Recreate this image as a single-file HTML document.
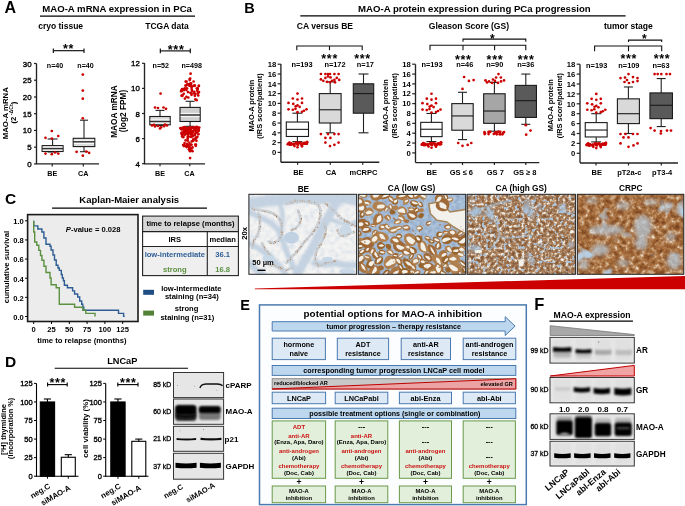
<!DOCTYPE html>
<html><head><meta charset="utf-8"><style>
html,body{margin:0;padding:0;background:#fff;width:685px;height:506px;overflow:hidden}
svg{display:block;filter:blur(0.3px)}
text{font-family:"Liberation Sans",sans-serif}
</style></head><body>
<svg width="685" height="506" viewBox="0 0 685 506">
<defs><clipPath id="clip0"><rect x="248.9" y="194.3" width="107.70000000000002" height="80.0"/></clipPath><clipPath id="clip1"><rect x="358.3" y="194.3" width="107.39999999999998" height="80.0"/></clipPath><clipPath id="clip2"><rect x="467.1" y="194.3" width="108.29999999999995" height="80.0"/></clipPath><clipPath id="clip3"><rect x="577.3" y="194.3" width="106.5" height="80.0"/></clipPath>
<filter id="blur04" x="-20%" y="-20%" width="140%" height="140%"><feGaussianBlur stdDeviation="0.4"/></filter>
<filter id="blur07" x="-20%" y="-20%" width="140%" height="140%"><feGaussianBlur stdDeviation="0.7"/></filter>
<filter id="blur12" x="-30%" y="-30%" width="160%" height="160%"><feGaussianBlur stdDeviation="1.2"/></filter>
<filter id="blur2" x="-30%" y="-30%" width="160%" height="160%"><feGaussianBlur stdDeviation="2"/></filter>
<filter id="texHigh" x="0" y="0" width="1" height="1" color-interpolation-filters="sRGB">
  <feTurbulence type="fractalNoise" baseFrequency="0.32" numOctaves="2" seed="4" result="n1"/>
  <feColorMatrix in="n1" type="matrix" values="1 0 0 0 0  1 0 0 0 0  1 0 0 0 0  0 0 0 0 1" result="g1"/>
  <feComponentTransfer in="g1" result="c1">
    <feFuncR type="table" tableValues="0.94 0.94 0.94 0.91 0.76 0.66 0.60 0.54 0.49 0.47 0.47"/>
    <feFuncG type="table" tableValues="0.93 0.93 0.93 0.88 0.64 0.49 0.43 0.37 0.33 0.31 0.31"/>
    <feFuncB type="table" tableValues="0.91 0.91 0.91 0.84 0.52 0.35 0.29 0.24 0.21 0.19 0.19"/>
  </feComponentTransfer>
  <feTurbulence type="fractalNoise" baseFrequency="0.28" numOctaves="2" seed="17" result="n3"/>
  <feColorMatrix in="n3" type="matrix" values="0 0 0 0 0.68  0 0 0 0 0.77  0 0 0 0 0.86  -9 0 0 0 3.6" result="fineBlue"/>
  <feTurbulence type="fractalNoise" baseFrequency="0.05" numOctaves="2" seed="8" result="n2"/>
  <feColorMatrix in="n2" type="matrix" values="0 0 0 0 0.66  0 0 0 0 0.76  0 0 0 0 0.86  -6 0 0 0 2.2" result="blueM"/>
  <feMerge result="m"><feMergeNode in="c1"/><feMergeNode in="fineBlue"/><feMergeNode in="blueM"/></feMerge>
  <feGaussianBlur in="m" stdDeviation="0.4"/>
</filter>
<filter id="texCRPC" x="0" y="0" width="1" height="1" color-interpolation-filters="sRGB">
  <feTurbulence type="fractalNoise" baseFrequency="0.2" numOctaves="3" seed="21" result="n1"/>
  <feColorMatrix in="n1" type="matrix" values="1 0 0 0 0  1 0 0 0 0  1 0 0 0 0  0 0 0 0 1" result="g1"/>
  <feComponentTransfer in="g1" result="c1">
    <feFuncR type="table" tableValues="0.93 0.93 0.90 0.80 0.72 0.66 0.60 0.54 0.48 0.45 0.45"/>
    <feFuncG type="table" tableValues="0.90 0.90 0.84 0.66 0.52 0.44 0.38 0.32 0.28 0.25 0.25"/>
    <feFuncB type="table" tableValues="0.84 0.84 0.76 0.52 0.34 0.25 0.20 0.16 0.13 0.12 0.12"/>
  </feComponentTransfer>
  <feTurbulence type="fractalNoise" baseFrequency="0.04" numOctaves="3" seed="30" result="n2"/>
  <feColorMatrix in="n2" type="matrix" values="0 0 0 0 0.72  0 0 0 0 0.81  0 0 0 0 0.89  -7 0 0 0 2.75" result="blueM"/>
  <feMerge result="m"><feMergeNode in="c1"/><feMergeNode in="blueM"/></feMerge>
  <feGaussianBlur in="m" stdDeviation="0.45"/>
</filter>
<filter id="texBlue" x="0" y="0" width="1" height="1" color-interpolation-filters="sRGB">
  <feTurbulence type="fractalNoise" baseFrequency="0.25" numOctaves="2" seed="2" result="n1"/>
  <feColorMatrix in="n1" type="matrix" values="1 0 0 0 0  1 0 0 0 0  1 0 0 0 0  0 0 0 0 1" result="g1"/>
  <feComponentTransfer in="g1">
    <feFuncR type="table" tableValues="0.72 0.72 0.71 0.69 0.66 0.64 0.62 0.60 0.58 0.58 0.58"/>
    <feFuncG type="table" tableValues="0.80 0.80 0.79 0.77 0.75 0.73 0.71 0.69 0.67 0.67 0.67"/>
    <feFuncB type="table" tableValues="0.88 0.88 0.87 0.86 0.85 0.84 0.82 0.80 0.78 0.78 0.78"/>
  </feComponentTransfer>
  <feGaussianBlur stdDeviation="0.4"/>
</filter>
<filter id="texWhite" x="0" y="0" width="1" height="1" color-interpolation-filters="sRGB">
  <feTurbulence type="fractalNoise" baseFrequency="0.2" numOctaves="2" seed="7" result="n1"/>
  <feColorMatrix in="n1" type="matrix" values="1 0 0 0 0  1 0 0 0 0  1 0 0 0 0  0 0 0 0 1" result="g1"/>
  <feComponentTransfer in="g1">
    <feFuncR type="table" tableValues="0.96 0.96 0.96 0.96 0.95 0.94 0.92 0.89 0.86 0.86 0.86"/>
    <feFuncG type="table" tableValues="0.96 0.96 0.96 0.96 0.95 0.94 0.93 0.91 0.89 0.89 0.89"/>
    <feFuncB type="table" tableValues="0.95 0.95 0.95 0.95 0.95 0.94 0.94 0.93 0.92 0.92 0.92"/>
  </feComponentTransfer>
  <feGaussianBlur stdDeviation="0.4"/>
</filter>

<filter id="bb05" x="-30%" y="-100%" width="160%" height="300%"><feGaussianBlur stdDeviation="0.5"/></filter>
<filter id="bb08" x="-30%" y="-100%" width="160%" height="300%"><feGaussianBlur stdDeviation="0.8"/></filter>
<filter id="bb12" x="-30%" y="-100%" width="160%" height="300%"><feGaussianBlur stdDeviation="1.2"/></filter>
<filter id="bb20" x="-30%" y="-100%" width="160%" height="300%"><feGaussianBlur stdDeviation="2.0"/></filter>
</defs>
<rect width="685" height="506" fill="#fff"/>
<text x="4.60" y="12.90" font-size="16" font-weight="bold" text-anchor="start" fill="#000">A</text>
<text x="42.30" y="12.40" font-size="9.6" font-weight="bold" text-anchor="start" fill="#000">MAO-A mRNA expression in PCa</text>
<line x1="40.00" y1="16.10" x2="195.00" y2="16.10" stroke="#000" stroke-width="1.1"/>
<text x="38.20" y="29.20" font-size="8.5" font-weight="bold" text-anchor="start" fill="#000">cryo tissue</text>
<text x="145.20" y="29.40" font-size="8.5" font-weight="bold" text-anchor="start" fill="#000">TCGA data</text>
<line x1="36.50" y1="63.50" x2="36.50" y2="164.00" stroke="#222" stroke-width="1.35"/>
<line x1="34.00" y1="163.90" x2="36.50" y2="163.90" stroke="#222" stroke-width="1.2"/>
<text x="31.60" y="166.90" font-size="7.9" font-weight="normal" text-anchor="end" fill="#000" stroke="#000" stroke-width="0.35">0</text>
<line x1="34.00" y1="147.17" x2="36.50" y2="147.17" stroke="#222" stroke-width="1.2"/>
<text x="31.60" y="150.17" font-size="7.9" font-weight="normal" text-anchor="end" fill="#000" stroke="#000" stroke-width="0.35">5</text>
<line x1="34.00" y1="130.43" x2="36.50" y2="130.43" stroke="#222" stroke-width="1.2"/>
<text x="31.60" y="133.43" font-size="7.9" font-weight="normal" text-anchor="end" fill="#000" stroke="#000" stroke-width="0.35">10</text>
<line x1="34.00" y1="113.70" x2="36.50" y2="113.70" stroke="#222" stroke-width="1.2"/>
<text x="31.60" y="116.70" font-size="7.9" font-weight="normal" text-anchor="end" fill="#000" stroke="#000" stroke-width="0.35">15</text>
<line x1="34.00" y1="96.97" x2="36.50" y2="96.97" stroke="#222" stroke-width="1.2"/>
<text x="31.60" y="99.97" font-size="7.9" font-weight="normal" text-anchor="end" fill="#000" stroke="#000" stroke-width="0.35">20</text>
<line x1="34.00" y1="80.23" x2="36.50" y2="80.23" stroke="#222" stroke-width="1.2"/>
<text x="31.60" y="83.23" font-size="7.9" font-weight="normal" text-anchor="end" fill="#000" stroke="#000" stroke-width="0.35">25</text>
<line x1="34.00" y1="63.50" x2="36.50" y2="63.50" stroke="#222" stroke-width="1.2"/>
<text x="31.60" y="66.50" font-size="7.9" font-weight="normal" text-anchor="end" fill="#000" stroke="#000" stroke-width="0.35">30</text>
<line x1="36.00" y1="163.90" x2="99.00" y2="163.90" stroke="#222" stroke-width="1.35"/>
<line x1="52.20" y1="163.90" x2="52.20" y2="166.40" stroke="#222" stroke-width="1.2"/>
<line x1="83.30" y1="163.90" x2="83.30" y2="166.40" stroke="#222" stroke-width="1.2"/>
<text x="52.20" y="176.20" font-size="7.2" font-weight="bold" text-anchor="middle" fill="#000">BE</text>
<text x="83.30" y="176.20" font-size="7.2" font-weight="bold" text-anchor="middle" fill="#000">CA</text>
<line x1="53.30" y1="50.70" x2="84.00" y2="50.70" stroke="#000" stroke-width="1.1"/>
<line x1="53.30" y1="48.40" x2="53.30" y2="53.00" stroke="#000" stroke-width="1.1"/>
<line x1="84.00" y1="48.40" x2="84.00" y2="53.00" stroke="#000" stroke-width="1.1"/>
<text x="68.55" y="53.40" font-size="12.5" font-weight="bold" text-anchor="middle" fill="#000" letter-spacing="0.7">**</text>
<text x="55.00" y="68.30" font-size="7.1" font-weight="bold" text-anchor="middle" fill="#000">n=40</text>
<text x="85.50" y="68.30" font-size="7.1" font-weight="bold" text-anchor="middle" fill="#000">n=40</text>
<line x1="52.60" y1="139.00" x2="52.60" y2="145.60" stroke="#222" stroke-width="1.1"/>
<line x1="52.60" y1="151.50" x2="52.60" y2="152.00" stroke="#222" stroke-width="1.1"/>
<line x1="47.60" y1="139.00" x2="57.60" y2="139.00" stroke="#222" stroke-width="1.1"/>
<line x1="47.60" y1="152.00" x2="57.60" y2="152.00" stroke="#222" stroke-width="1.1"/>
<rect x="42.10" y="145.60" width="21.00" height="5.90" fill="#dcdcdc" stroke="#1a1a1a" stroke-width="1.1"/>
<line x1="42.70" y1="147.00" x2="62.50" y2="147.00" stroke="#fff" stroke-width="0.9"/>
<line x1="42.70" y1="150.20" x2="62.50" y2="150.20" stroke="#fff" stroke-width="0.9"/>
<line x1="42.10" y1="148.60" x2="63.10" y2="148.60" stroke="#333" stroke-width="1.4"/>
<line x1="84.00" y1="120.20" x2="84.00" y2="138.30" stroke="#222" stroke-width="1.1"/>
<line x1="84.00" y1="146.60" x2="84.00" y2="151.70" stroke="#222" stroke-width="1.1"/>
<line x1="80.00" y1="120.20" x2="88.00" y2="120.20" stroke="#222" stroke-width="1.1"/>
<line x1="80.00" y1="151.70" x2="88.00" y2="151.70" stroke="#222" stroke-width="1.1"/>
<rect x="73.20" y="138.30" width="21.60" height="8.30" fill="#dcdcdc" stroke="#1a1a1a" stroke-width="1.1"/>
<line x1="73.80" y1="140.20" x2="94.20" y2="140.20" stroke="#fff" stroke-width="0.9"/>
<line x1="73.80" y1="143.40" x2="94.20" y2="143.40" stroke="#fff" stroke-width="0.9"/>
<line x1="73.20" y1="141.80" x2="94.80" y2="141.80" stroke="#333" stroke-width="1.4"/>
<circle cx="51.80" cy="131.00" r="1.35" fill="#cc0000"/>
<circle cx="45.50" cy="137.80" r="1.35" fill="#cc0000"/>
<circle cx="58.30" cy="136.00" r="1.35" fill="#cc0000"/>
<circle cx="51.80" cy="138.60" r="1.35" fill="#cc0000"/>
<circle cx="45.50" cy="153.60" r="1.35" fill="#cc0000"/>
<circle cx="51.80" cy="154.20" r="1.35" fill="#cc0000"/>
<circle cx="58.30" cy="153.60" r="1.35" fill="#cc0000"/>
<circle cx="55.00" cy="152.50" r="1.35" fill="#cc0000"/>
<circle cx="82.80" cy="74.60" r="1.35" fill="#cc0000"/>
<circle cx="82.80" cy="90.60" r="1.35" fill="#cc0000"/>
<circle cx="82.80" cy="98.70" r="1.35" fill="#cc0000"/>
<circle cx="82.80" cy="118.30" r="1.35" fill="#cc0000"/>
<circle cx="76.60" cy="151.80" r="1.35" fill="#cc0000"/>
<circle cx="89.10" cy="152.80" r="1.35" fill="#cc0000"/>
<circle cx="82.80" cy="155.70" r="1.35" fill="#cc0000"/>
<circle cx="86.30" cy="151.60" r="1.35" fill="#cc0000"/>
<text x="7.60" y="113.20" font-size="7.8" font-weight="bold" text-anchor="middle" fill="#000" transform="rotate(-90 7.60 113.20)">MAO-A mRNA</text>
<text x="16.00" y="112.60" font-size="7.6" font-weight="bold" text-anchor="middle" fill="#000" transform="rotate(-90 16.00 112.60)">(2<tspan font-size="5.2" dy="-2.8"> -ΔCt</tspan><tspan dy="2.8">)</tspan></text>
<line x1="144.50" y1="63.00" x2="144.50" y2="164.00" stroke="#222" stroke-width="1.35"/>
<line x1="142.00" y1="163.70" x2="144.50" y2="163.70" stroke="#222" stroke-width="1.2"/>
<text x="139.80" y="166.70" font-size="7.9" font-weight="normal" text-anchor="end" fill="#000" stroke="#000" stroke-width="0.35">4</text>
<line x1="142.00" y1="138.60" x2="144.50" y2="138.60" stroke="#222" stroke-width="1.2"/>
<text x="139.80" y="141.60" font-size="7.9" font-weight="normal" text-anchor="end" fill="#000" stroke="#000" stroke-width="0.35">6</text>
<line x1="142.00" y1="113.50" x2="144.50" y2="113.50" stroke="#222" stroke-width="1.2"/>
<text x="139.80" y="116.50" font-size="7.9" font-weight="normal" text-anchor="end" fill="#000" stroke="#000" stroke-width="0.35">8</text>
<line x1="142.00" y1="88.40" x2="144.50" y2="88.40" stroke="#222" stroke-width="1.2"/>
<text x="139.80" y="91.40" font-size="7.9" font-weight="normal" text-anchor="end" fill="#000" stroke="#000" stroke-width="0.35">10</text>
<line x1="142.00" y1="63.30" x2="144.50" y2="63.30" stroke="#222" stroke-width="1.2"/>
<text x="139.80" y="66.30" font-size="7.9" font-weight="normal" text-anchor="end" fill="#000" stroke="#000" stroke-width="0.35">12</text>
<line x1="144.00" y1="163.80" x2="205.00" y2="163.80" stroke="#222" stroke-width="1.35"/>
<line x1="160.00" y1="163.80" x2="160.00" y2="166.30" stroke="#222" stroke-width="1.2"/>
<line x1="189.80" y1="163.80" x2="189.80" y2="166.30" stroke="#222" stroke-width="1.2"/>
<text x="160.00" y="176.20" font-size="7.2" font-weight="bold" text-anchor="middle" fill="#000">BE</text>
<text x="189.50" y="176.20" font-size="7.2" font-weight="bold" text-anchor="middle" fill="#000">CA</text>
<line x1="160.30" y1="50.90" x2="190.30" y2="50.90" stroke="#000" stroke-width="1.1"/>
<line x1="160.30" y1="48.60" x2="160.30" y2="53.20" stroke="#000" stroke-width="1.1"/>
<line x1="190.30" y1="48.60" x2="190.30" y2="53.20" stroke="#000" stroke-width="1.1"/>
<text x="176.15" y="53.60" font-size="12.5" font-weight="bold" text-anchor="middle" fill="#000" letter-spacing="0.7">***</text>
<text x="160.80" y="68.30" font-size="7.1" font-weight="bold" text-anchor="middle" fill="#000">n=52</text>
<text x="191.70" y="68.30" font-size="7.1" font-weight="bold" text-anchor="middle" fill="#000">n=498</text>
<line x1="160.00" y1="110.40" x2="160.00" y2="116.50" stroke="#222" stroke-width="1.1"/>
<line x1="160.00" y1="124.80" x2="160.00" y2="125.60" stroke="#222" stroke-width="1.1"/>
<line x1="155.50" y1="110.40" x2="164.50" y2="110.40" stroke="#222" stroke-width="1.1"/>
<line x1="155.50" y1="125.60" x2="164.50" y2="125.60" stroke="#222" stroke-width="1.1"/>
<rect x="149.80" y="116.50" width="20.40" height="8.30" fill="#dcdcdc" stroke="#1a1a1a" stroke-width="1.1"/>
<line x1="150.40" y1="119.90" x2="169.60" y2="119.90" stroke="#fff" stroke-width="0.9"/>
<line x1="150.40" y1="123.10" x2="169.60" y2="123.10" stroke="#fff" stroke-width="0.9"/>
<line x1="149.80" y1="121.50" x2="170.20" y2="121.50" stroke="#333" stroke-width="1.4"/>
<line x1="190.10" y1="101.30" x2="190.10" y2="107.40" stroke="#222" stroke-width="1.1"/>
<line x1="190.10" y1="121.50" x2="190.10" y2="126.30" stroke="#222" stroke-width="1.1"/>
<line x1="185.60" y1="101.30" x2="194.60" y2="101.30" stroke="#222" stroke-width="1.1"/>
<line x1="185.60" y1="126.30" x2="194.60" y2="126.30" stroke="#222" stroke-width="1.1"/>
<rect x="180.00" y="107.40" width="20.20" height="14.10" fill="#d0d0d0" stroke="#1a1a1a" stroke-width="1.1"/>
<line x1="180.60" y1="113.40" x2="199.60" y2="113.40" stroke="#fff" stroke-width="0.9"/>
<line x1="180.60" y1="116.60" x2="199.60" y2="116.60" stroke="#fff" stroke-width="0.9"/>
<line x1="180.00" y1="115.00" x2="200.20" y2="115.00" stroke="#333" stroke-width="1.4"/>
<circle cx="160.60" cy="93.60" r="1.35" fill="#cc0000"/>
<circle cx="155.00" cy="107.50" r="1.35" fill="#cc0000"/>
<circle cx="158.00" cy="108.00" r="1.35" fill="#cc0000"/>
<circle cx="163.50" cy="107.50" r="1.35" fill="#cc0000"/>
<circle cx="166.00" cy="108.80" r="1.35" fill="#cc0000"/>
<circle cx="152.00" cy="125.50" r="1.35" fill="#cc0000"/>
<circle cx="155.00" cy="126.50" r="1.35" fill="#cc0000"/>
<circle cx="158.00" cy="126.00" r="1.35" fill="#cc0000"/>
<circle cx="161.00" cy="127.30" r="1.35" fill="#cc0000"/>
<circle cx="164.00" cy="126.20" r="1.35" fill="#cc0000"/>
<circle cx="167.00" cy="125.50" r="1.35" fill="#cc0000"/>
<circle cx="160.00" cy="128.50" r="1.35" fill="#cc0000"/>
<circle cx="154.00" cy="124.80" r="1.35" fill="#cc0000"/>
<circle cx="165.00" cy="124.50" r="1.35" fill="#cc0000"/>
<circle cx="190.60" cy="73.70" r="1.35" fill="#cc0000"/>
<circle cx="190.20" cy="78.50" r="1.35" fill="#cc0000"/>
<circle cx="190.44" cy="84.25" r="1.35" fill="#cc0000"/>
<circle cx="191.03" cy="83.34" r="1.35" fill="#cc0000"/>
<circle cx="185.70" cy="81.57" r="1.35" fill="#cc0000"/>
<circle cx="193.34" cy="85.80" r="1.35" fill="#cc0000"/>
<circle cx="187.37" cy="84.10" r="1.35" fill="#cc0000"/>
<circle cx="189.71" cy="79.02" r="1.35" fill="#cc0000"/>
<circle cx="189.77" cy="80.12" r="1.35" fill="#cc0000"/>
<circle cx="186.54" cy="81.48" r="1.35" fill="#cc0000"/>
<circle cx="193.64" cy="81.51" r="1.35" fill="#cc0000"/>
<circle cx="194.34" cy="91.76" r="1.35" fill="#cc0000"/>
<circle cx="182.15" cy="89.15" r="1.35" fill="#cc0000"/>
<circle cx="191.64" cy="87.63" r="1.35" fill="#cc0000"/>
<circle cx="181.56" cy="95.66" r="1.35" fill="#cc0000"/>
<circle cx="189.73" cy="85.74" r="1.35" fill="#cc0000"/>
<circle cx="196.82" cy="88.32" r="1.35" fill="#cc0000"/>
<circle cx="197.58" cy="88.40" r="1.35" fill="#cc0000"/>
<circle cx="195.42" cy="94.01" r="1.35" fill="#cc0000"/>
<circle cx="197.84" cy="93.14" r="1.35" fill="#cc0000"/>
<circle cx="186.01" cy="85.51" r="1.35" fill="#cc0000"/>
<circle cx="184.91" cy="98.56" r="1.35" fill="#cc0000"/>
<circle cx="189.37" cy="83.99" r="1.35" fill="#cc0000"/>
<circle cx="186.42" cy="89.94" r="1.35" fill="#cc0000"/>
<circle cx="187.95" cy="92.04" r="1.35" fill="#cc0000"/>
<circle cx="191.53" cy="94.78" r="1.35" fill="#cc0000"/>
<circle cx="197.28" cy="90.68" r="1.35" fill="#cc0000"/>
<circle cx="197.72" cy="88.97" r="1.35" fill="#cc0000"/>
<circle cx="198.84" cy="85.90" r="1.35" fill="#cc0000"/>
<circle cx="183.94" cy="89.16" r="1.35" fill="#cc0000"/>
<circle cx="194.60" cy="85.83" r="1.35" fill="#cc0000"/>
<circle cx="190.68" cy="85.05" r="1.35" fill="#cc0000"/>
<circle cx="184.80" cy="88.41" r="1.35" fill="#cc0000"/>
<circle cx="191.32" cy="86.34" r="1.35" fill="#cc0000"/>
<circle cx="182.14" cy="95.94" r="1.35" fill="#cc0000"/>
<circle cx="198.82" cy="85.95" r="1.35" fill="#cc0000"/>
<circle cx="195.41" cy="99.39" r="1.35" fill="#cc0000"/>
<circle cx="183.71" cy="93.74" r="1.35" fill="#cc0000"/>
<circle cx="194.84" cy="95.79" r="1.35" fill="#cc0000"/>
<circle cx="185.49" cy="85.62" r="1.35" fill="#cc0000"/>
<circle cx="181.81" cy="90.15" r="1.35" fill="#cc0000"/>
<circle cx="186.96" cy="88.33" r="1.35" fill="#cc0000"/>
<circle cx="194.76" cy="85.47" r="1.35" fill="#cc0000"/>
<circle cx="198.97" cy="92.07" r="1.35" fill="#cc0000"/>
<circle cx="182.39" cy="95.51" r="1.35" fill="#cc0000"/>
<circle cx="181.56" cy="90.41" r="1.35" fill="#cc0000"/>
<circle cx="188.34" cy="97.48" r="1.35" fill="#cc0000"/>
<circle cx="183.81" cy="90.22" r="1.35" fill="#cc0000"/>
<circle cx="196.62" cy="100.20" r="1.35" fill="#cc0000"/>
<circle cx="198.26" cy="95.44" r="1.35" fill="#cc0000"/>
<circle cx="188.79" cy="85.20" r="1.35" fill="#cc0000"/>
<circle cx="190.36" cy="92.86" r="1.35" fill="#cc0000"/>
<circle cx="191.72" cy="89.64" r="1.35" fill="#cc0000"/>
<circle cx="192.16" cy="91.12" r="1.35" fill="#cc0000"/>
<circle cx="190.07" cy="84.42" r="1.35" fill="#cc0000"/>
<circle cx="193.97" cy="93.37" r="1.35" fill="#cc0000"/>
<circle cx="186.42" cy="96.77" r="1.35" fill="#cc0000"/>
<circle cx="190.21" cy="83.77" r="1.35" fill="#cc0000"/>
<circle cx="181.21" cy="91.31" r="1.35" fill="#cc0000"/>
<circle cx="191.44" cy="93.65" r="1.35" fill="#cc0000"/>
<circle cx="192.20" cy="134.06" r="1.35" fill="#cc0000"/>
<circle cx="181.64" cy="129.45" r="1.35" fill="#cc0000"/>
<circle cx="189.36" cy="129.48" r="1.35" fill="#cc0000"/>
<circle cx="187.20" cy="129.09" r="1.35" fill="#cc0000"/>
<circle cx="194.52" cy="128.88" r="1.35" fill="#cc0000"/>
<circle cx="181.65" cy="134.04" r="1.35" fill="#cc0000"/>
<circle cx="198.80" cy="129.12" r="1.35" fill="#cc0000"/>
<circle cx="189.17" cy="132.32" r="1.35" fill="#cc0000"/>
<circle cx="186.58" cy="129.74" r="1.35" fill="#cc0000"/>
<circle cx="186.44" cy="131.47" r="1.35" fill="#cc0000"/>
<circle cx="191.82" cy="131.43" r="1.35" fill="#cc0000"/>
<circle cx="187.67" cy="131.95" r="1.35" fill="#cc0000"/>
<circle cx="181.01" cy="128.39" r="1.35" fill="#cc0000"/>
<circle cx="194.47" cy="129.92" r="1.35" fill="#cc0000"/>
<circle cx="184.73" cy="131.87" r="1.35" fill="#cc0000"/>
<circle cx="185.04" cy="128.15" r="1.35" fill="#cc0000"/>
<circle cx="188.77" cy="132.80" r="1.35" fill="#cc0000"/>
<circle cx="182.43" cy="128.95" r="1.35" fill="#cc0000"/>
<circle cx="186.84" cy="131.78" r="1.35" fill="#cc0000"/>
<circle cx="188.83" cy="127.93" r="1.35" fill="#cc0000"/>
<circle cx="183.72" cy="127.77" r="1.35" fill="#cc0000"/>
<circle cx="192.85" cy="131.67" r="1.35" fill="#cc0000"/>
<circle cx="189.07" cy="127.54" r="1.35" fill="#cc0000"/>
<circle cx="182.80" cy="132.51" r="1.35" fill="#cc0000"/>
<circle cx="184.13" cy="130.22" r="1.35" fill="#cc0000"/>
<circle cx="196.43" cy="128.13" r="1.35" fill="#cc0000"/>
<circle cx="185.79" cy="132.83" r="1.35" fill="#cc0000"/>
<circle cx="192.70" cy="128.13" r="1.35" fill="#cc0000"/>
<circle cx="187.06" cy="128.14" r="1.35" fill="#cc0000"/>
<circle cx="186.05" cy="133.23" r="1.35" fill="#cc0000"/>
<circle cx="185.65" cy="128.23" r="1.35" fill="#cc0000"/>
<circle cx="188.42" cy="131.60" r="1.35" fill="#cc0000"/>
<circle cx="188.28" cy="131.05" r="1.35" fill="#cc0000"/>
<circle cx="183.46" cy="127.28" r="1.35" fill="#cc0000"/>
<circle cx="198.42" cy="134.17" r="1.35" fill="#cc0000"/>
<circle cx="199.25" cy="127.58" r="1.35" fill="#cc0000"/>
<circle cx="198.55" cy="130.94" r="1.35" fill="#cc0000"/>
<circle cx="184.72" cy="127.22" r="1.35" fill="#cc0000"/>
<circle cx="196.40" cy="128.59" r="1.35" fill="#cc0000"/>
<circle cx="190.36" cy="129.22" r="1.35" fill="#cc0000"/>
<circle cx="186.98" cy="132.03" r="1.35" fill="#cc0000"/>
<circle cx="181.79" cy="132.49" r="1.35" fill="#cc0000"/>
<circle cx="185.95" cy="129.77" r="1.35" fill="#cc0000"/>
<circle cx="181.36" cy="128.11" r="1.35" fill="#cc0000"/>
<circle cx="193.68" cy="127.40" r="1.35" fill="#cc0000"/>
<circle cx="197.53" cy="127.25" r="1.35" fill="#cc0000"/>
<circle cx="191.46" cy="127.43" r="1.35" fill="#cc0000"/>
<circle cx="194.66" cy="134.11" r="1.35" fill="#cc0000"/>
<circle cx="186.20" cy="132.91" r="1.35" fill="#cc0000"/>
<circle cx="190.47" cy="129.22" r="1.35" fill="#cc0000"/>
<circle cx="198.34" cy="131.09" r="1.35" fill="#cc0000"/>
<circle cx="186.99" cy="129.60" r="1.35" fill="#cc0000"/>
<circle cx="196.87" cy="132.31" r="1.35" fill="#cc0000"/>
<circle cx="195.36" cy="130.61" r="1.35" fill="#cc0000"/>
<circle cx="184.25" cy="131.56" r="1.35" fill="#cc0000"/>
<circle cx="196.02" cy="130.18" r="1.35" fill="#cc0000"/>
<circle cx="195.54" cy="132.92" r="1.35" fill="#cc0000"/>
<circle cx="195.81" cy="127.27" r="1.35" fill="#cc0000"/>
<circle cx="180.64" cy="128.01" r="1.35" fill="#cc0000"/>
<circle cx="196.89" cy="129.47" r="1.35" fill="#cc0000"/>
<circle cx="185.66" cy="133.83" r="1.35" fill="#cc0000"/>
<circle cx="190.52" cy="132.19" r="1.35" fill="#cc0000"/>
<circle cx="189.49" cy="131.02" r="1.35" fill="#cc0000"/>
<circle cx="180.53" cy="128.36" r="1.35" fill="#cc0000"/>
<circle cx="182.91" cy="133.79" r="1.35" fill="#cc0000"/>
<circle cx="181.80" cy="133.27" r="1.35" fill="#cc0000"/>
<circle cx="196.73" cy="126.87" r="1.35" fill="#cc0000"/>
<circle cx="190.04" cy="133.56" r="1.35" fill="#cc0000"/>
<circle cx="186.48" cy="131.83" r="1.35" fill="#cc0000"/>
<circle cx="192.79" cy="131.56" r="1.35" fill="#cc0000"/>
<circle cx="187.63" cy="138.77" r="1.35" fill="#cc0000"/>
<circle cx="187.09" cy="143.73" r="1.35" fill="#cc0000"/>
<circle cx="190.94" cy="144.58" r="1.35" fill="#cc0000"/>
<circle cx="187.96" cy="137.14" r="1.35" fill="#cc0000"/>
<circle cx="184.54" cy="145.13" r="1.35" fill="#cc0000"/>
<circle cx="191.78" cy="141.45" r="1.35" fill="#cc0000"/>
<circle cx="187.96" cy="136.31" r="1.35" fill="#cc0000"/>
<circle cx="192.09" cy="136.08" r="1.35" fill="#cc0000"/>
<circle cx="187.83" cy="140.71" r="1.35" fill="#cc0000"/>
<circle cx="193.45" cy="139.90" r="1.35" fill="#cc0000"/>
<circle cx="193.30" cy="140.85" r="1.35" fill="#cc0000"/>
<circle cx="185.67" cy="140.35" r="1.35" fill="#cc0000"/>
<circle cx="193.32" cy="139.41" r="1.35" fill="#cc0000"/>
<circle cx="188.72" cy="145.23" r="1.35" fill="#cc0000"/>
<circle cx="196.45" cy="140.79" r="1.35" fill="#cc0000"/>
<circle cx="187.86" cy="134.38" r="1.35" fill="#cc0000"/>
<circle cx="194.95" cy="134.86" r="1.35" fill="#cc0000"/>
<circle cx="189.39" cy="142.84" r="1.35" fill="#cc0000"/>
<circle cx="195.32" cy="144.58" r="1.35" fill="#cc0000"/>
<circle cx="196.58" cy="137.82" r="1.35" fill="#cc0000"/>
<circle cx="192.85" cy="136.18" r="1.35" fill="#cc0000"/>
<circle cx="191.09" cy="136.92" r="1.35" fill="#cc0000"/>
<circle cx="191.49" cy="144.84" r="1.35" fill="#cc0000"/>
<circle cx="183.94" cy="146.07" r="1.35" fill="#cc0000"/>
<circle cx="182.25" cy="136.41" r="1.35" fill="#cc0000"/>
<circle cx="183.19" cy="144.98" r="1.35" fill="#cc0000"/>
<circle cx="184.55" cy="135.08" r="1.35" fill="#cc0000"/>
<circle cx="195.81" cy="145.84" r="1.35" fill="#cc0000"/>
<circle cx="195.85" cy="144.61" r="1.35" fill="#cc0000"/>
<circle cx="195.72" cy="137.68" r="1.35" fill="#cc0000"/>
<circle cx="191.34" cy="134.18" r="1.35" fill="#cc0000"/>
<circle cx="182.12" cy="136.11" r="1.35" fill="#cc0000"/>
<circle cx="190.19" cy="136.50" r="1.35" fill="#cc0000"/>
<circle cx="183.31" cy="137.15" r="1.35" fill="#cc0000"/>
<circle cx="197.39" cy="136.73" r="1.35" fill="#cc0000"/>
<circle cx="187.01" cy="145.36" r="1.35" fill="#cc0000"/>
<circle cx="195.58" cy="139.05" r="1.35" fill="#cc0000"/>
<circle cx="184.56" cy="143.09" r="1.35" fill="#cc0000"/>
<circle cx="191.16" cy="150.21" r="1.35" fill="#cc0000"/>
<circle cx="188.94" cy="147.05" r="1.35" fill="#cc0000"/>
<circle cx="188.97" cy="149.47" r="1.35" fill="#cc0000"/>
<circle cx="189.18" cy="149.58" r="1.35" fill="#cc0000"/>
<circle cx="190.00" cy="151.26" r="1.35" fill="#cc0000"/>
<circle cx="189.13" cy="145.67" r="1.35" fill="#cc0000"/>
<circle cx="186.61" cy="147.09" r="1.35" fill="#cc0000"/>
<circle cx="192.56" cy="147.44" r="1.35" fill="#cc0000"/>
<circle cx="190.17" cy="147.55" r="1.35" fill="#cc0000"/>
<circle cx="191.43" cy="148.74" r="1.35" fill="#cc0000"/>
<circle cx="186.49" cy="146.15" r="1.35" fill="#cc0000"/>
<circle cx="192.48" cy="151.18" r="1.35" fill="#cc0000"/>
<circle cx="190.10" cy="158.05" r="1.35" fill="#cc0000"/>
<text x="117.40" y="111.50" font-size="8.3" font-weight="bold" text-anchor="middle" fill="#000" transform="rotate(-90 117.40 111.50)">MAOA mRNA</text>
<text x="125.60" y="111.00" font-size="8.3" font-weight="bold" text-anchor="middle" fill="#000" transform="rotate(-90 125.60 111.00)">(log2 FPM)</text>
<text x="244.30" y="12.70" font-size="14.5" font-weight="bold" text-anchor="start" fill="#000">B</text>
<text x="358.10" y="12.40" font-size="9.6" font-weight="bold" text-anchor="start" fill="#000">MAO-A protein expression during PCa progression</text>
<line x1="300.30" y1="15.90" x2="625.60" y2="15.90" stroke="#000" stroke-width="1.1"/>
<text x="296.80" y="28.60" font-size="8.55" font-weight="bold" text-anchor="start" fill="#000">CA versus BE</text>
<text x="428.80" y="28.70" font-size="8.55" font-weight="bold" text-anchor="start" fill="#000">Gleason Score (GS)</text>
<text x="603.90" y="28.90" font-size="8.55" font-weight="bold" text-anchor="start" fill="#000">tumor stage</text>
<line x1="280.90" y1="63.90" x2="280.90" y2="162.30" stroke="#222" stroke-width="1.35"/>
<line x1="277.60" y1="152.40" x2="280.90" y2="152.40" stroke="#222" stroke-width="1.2"/>
<text x="276.30" y="155.10" font-size="7.7" font-weight="bold" text-anchor="end" fill="#000">0</text>
<line x1="277.60" y1="142.60" x2="280.90" y2="142.60" stroke="#222" stroke-width="1.2"/>
<text x="276.30" y="145.30" font-size="7.7" font-weight="bold" text-anchor="end" fill="#000">2</text>
<line x1="277.60" y1="132.80" x2="280.90" y2="132.80" stroke="#222" stroke-width="1.2"/>
<text x="276.30" y="135.50" font-size="7.7" font-weight="bold" text-anchor="end" fill="#000">4</text>
<line x1="277.60" y1="123.00" x2="280.90" y2="123.00" stroke="#222" stroke-width="1.2"/>
<text x="276.30" y="125.70" font-size="7.7" font-weight="bold" text-anchor="end" fill="#000">6</text>
<line x1="277.60" y1="113.20" x2="280.90" y2="113.20" stroke="#222" stroke-width="1.2"/>
<text x="276.30" y="115.90" font-size="7.7" font-weight="bold" text-anchor="end" fill="#000">8</text>
<line x1="277.60" y1="103.40" x2="280.90" y2="103.40" stroke="#222" stroke-width="1.2"/>
<text x="276.30" y="106.10" font-size="7.7" font-weight="bold" text-anchor="end" fill="#000">10</text>
<line x1="277.60" y1="93.60" x2="280.90" y2="93.60" stroke="#222" stroke-width="1.2"/>
<text x="276.30" y="96.30" font-size="7.7" font-weight="bold" text-anchor="end" fill="#000">12</text>
<line x1="277.60" y1="83.80" x2="280.90" y2="83.80" stroke="#222" stroke-width="1.2"/>
<text x="276.30" y="86.50" font-size="7.7" font-weight="bold" text-anchor="end" fill="#000">14</text>
<line x1="277.60" y1="74.00" x2="280.90" y2="74.00" stroke="#222" stroke-width="1.2"/>
<text x="276.30" y="76.70" font-size="7.7" font-weight="bold" text-anchor="end" fill="#000">16</text>
<line x1="277.60" y1="64.20" x2="280.90" y2="64.20" stroke="#222" stroke-width="1.2"/>
<text x="276.30" y="66.90" font-size="7.7" font-weight="bold" text-anchor="end" fill="#000">18</text>
<line x1="280.90" y1="162.20" x2="379.30" y2="162.20" stroke="#222" stroke-width="1.35"/>
<line x1="297.60" y1="162.20" x2="297.60" y2="164.70" stroke="#222" stroke-width="1.2"/>
<line x1="330.30" y1="162.20" x2="330.30" y2="164.70" stroke="#222" stroke-width="1.2"/>
<line x1="362.70" y1="162.20" x2="362.70" y2="164.70" stroke="#222" stroke-width="1.2"/>
<text x="298.40" y="175.00" font-size="7.5" font-weight="bold" text-anchor="middle" fill="#000">BE</text>
<text x="331.10" y="175.00" font-size="7.5" font-weight="bold" text-anchor="middle" fill="#000">CA</text>
<text x="363.50" y="175.00" font-size="7.5" font-weight="bold" text-anchor="middle" fill="#000">mCRPC</text>
<line x1="297.40" y1="113.20" x2="297.40" y2="122.02" stroke="#222" stroke-width="1.1"/>
<line x1="297.40" y1="136.47" x2="297.40" y2="141.62" stroke="#222" stroke-width="1.1"/>
<line x1="292.40" y1="113.20" x2="302.40" y2="113.20" stroke="#222" stroke-width="1.1"/>
<line x1="292.40" y1="141.62" x2="302.40" y2="141.62" stroke="#222" stroke-width="1.1"/>
<rect x="286.30" y="122.02" width="22.20" height="14.45" fill="#fff" stroke="#1a1a1a" stroke-width="1.1"/>
<line x1="286.30" y1="129.37" x2="308.50" y2="129.37" stroke="#1a1a1a" stroke-width="1.1"/>
<line x1="330.20" y1="81.84" x2="330.20" y2="93.60" stroke="#222" stroke-width="1.1"/>
<line x1="330.20" y1="123.00" x2="330.20" y2="132.80" stroke="#222" stroke-width="1.1"/>
<line x1="325.70" y1="81.84" x2="334.70" y2="81.84" stroke="#222" stroke-width="1.1"/>
<line x1="325.70" y1="132.80" x2="334.70" y2="132.80" stroke="#222" stroke-width="1.1"/>
<rect x="319.30" y="93.60" width="21.80" height="29.40" fill="#d9d9d9" stroke="#1a1a1a" stroke-width="1.1"/>
<line x1="319.30" y1="109.77" x2="341.10" y2="109.77" stroke="#1a1a1a" stroke-width="1.1"/>
<line x1="363.50" y1="74.00" x2="363.50" y2="83.80" stroke="#222" stroke-width="1.1"/>
<line x1="363.50" y1="113.20" x2="363.50" y2="132.80" stroke="#222" stroke-width="1.1"/>
<line x1="358.50" y1="74.00" x2="368.50" y2="74.00" stroke="#222" stroke-width="1.1"/>
<line x1="358.50" y1="132.80" x2="368.50" y2="132.80" stroke="#222" stroke-width="1.1"/>
<rect x="353.30" y="83.80" width="20.40" height="29.40" fill="#5a5a5a" stroke="#1a1a1a" stroke-width="1.1"/>
<line x1="353.30" y1="93.60" x2="373.70" y2="93.60" stroke="#1a1a1a" stroke-width="1.1"/>
<circle cx="297.50" cy="93.60" r="1.35" fill="#cc0000"/>
<circle cx="292.80" cy="98.50" r="1.35" fill="#cc0000"/>
<circle cx="297.50" cy="99.48" r="1.35" fill="#cc0000"/>
<circle cx="302.00" cy="98.50" r="1.35" fill="#cc0000"/>
<circle cx="288.50" cy="102.91" r="1.35" fill="#cc0000"/>
<circle cx="293.30" cy="103.89" r="1.35" fill="#cc0000"/>
<circle cx="302.00" cy="102.91" r="1.35" fill="#cc0000"/>
<circle cx="288.50" cy="109.28" r="1.35" fill="#cc0000"/>
<circle cx="292.80" cy="109.77" r="1.35" fill="#cc0000"/>
<circle cx="295.70" cy="106.34" r="1.35" fill="#cc0000"/>
<circle cx="297.50" cy="105.36" r="1.35" fill="#cc0000"/>
<circle cx="299.60" cy="106.83" r="1.35" fill="#cc0000"/>
<circle cx="302.00" cy="111.73" r="1.35" fill="#cc0000"/>
<circle cx="306.50" cy="109.28" r="1.35" fill="#cc0000"/>
<circle cx="297.50" cy="112.22" r="1.35" fill="#cc0000"/>
<circle cx="295.50" cy="108.79" r="1.35" fill="#cc0000"/>
<circle cx="304.00" cy="110.75" r="1.35" fill="#cc0000"/>
<circle cx="296.57" cy="143.30" r="1.35" fill="#cc0000"/>
<circle cx="305.81" cy="143.55" r="1.35" fill="#cc0000"/>
<circle cx="297.65" cy="143.22" r="1.35" fill="#cc0000"/>
<circle cx="291.32" cy="143.43" r="1.35" fill="#cc0000"/>
<circle cx="300.05" cy="142.67" r="1.35" fill="#cc0000"/>
<circle cx="289.54" cy="143.99" r="1.35" fill="#cc0000"/>
<circle cx="289.48" cy="142.62" r="1.35" fill="#cc0000"/>
<circle cx="301.29" cy="144.69" r="1.35" fill="#cc0000"/>
<circle cx="306.95" cy="142.20" r="1.35" fill="#cc0000"/>
<circle cx="300.52" cy="143.15" r="1.35" fill="#cc0000"/>
<circle cx="290.79" cy="144.76" r="1.35" fill="#cc0000"/>
<circle cx="298.06" cy="144.64" r="1.35" fill="#cc0000"/>
<circle cx="291.43" cy="144.15" r="1.35" fill="#cc0000"/>
<circle cx="288.29" cy="143.55" r="1.35" fill="#cc0000"/>
<circle cx="296.33" cy="142.53" r="1.35" fill="#cc0000"/>
<circle cx="297.87" cy="143.08" r="1.35" fill="#cc0000"/>
<circle cx="297.50" cy="143.02" r="1.35" fill="#cc0000"/>
<circle cx="296.66" cy="144.06" r="1.35" fill="#cc0000"/>
<circle cx="307.25" cy="142.12" r="1.35" fill="#cc0000"/>
<circle cx="304.17" cy="142.90" r="1.35" fill="#cc0000"/>
<circle cx="293.88" cy="144.19" r="1.35" fill="#cc0000"/>
<circle cx="293.37" cy="144.62" r="1.35" fill="#cc0000"/>
<circle cx="302.72" cy="143.73" r="1.35" fill="#cc0000"/>
<circle cx="304.29" cy="143.76" r="1.35" fill="#cc0000"/>
<circle cx="306.48" cy="142.52" r="1.35" fill="#cc0000"/>
<circle cx="287.71" cy="144.24" r="1.35" fill="#cc0000"/>
<circle cx="305.54" cy="143.54" r="1.35" fill="#cc0000"/>
<circle cx="306.92" cy="143.73" r="1.35" fill="#cc0000"/>
<circle cx="289.13" cy="143.11" r="1.35" fill="#cc0000"/>
<circle cx="302.96" cy="144.08" r="1.35" fill="#cc0000"/>
<circle cx="289.41" cy="143.91" r="1.35" fill="#cc0000"/>
<circle cx="306.60" cy="142.76" r="1.35" fill="#cc0000"/>
<circle cx="290.01" cy="144.14" r="1.35" fill="#cc0000"/>
<circle cx="289.68" cy="144.64" r="1.35" fill="#cc0000"/>
<circle cx="290.00" cy="143.83" r="1.35" fill="#cc0000"/>
<circle cx="294.00" cy="143.83" r="1.35" fill="#cc0000"/>
<circle cx="298.00" cy="143.83" r="1.35" fill="#cc0000"/>
<circle cx="302.00" cy="143.83" r="1.35" fill="#cc0000"/>
<circle cx="306.00" cy="143.83" r="1.35" fill="#cc0000"/>
<circle cx="297.50" cy="147.25" r="1.35" fill="#cc0000"/>
<circle cx="302.00" cy="146.28" r="1.35" fill="#cc0000"/>
<circle cx="294.50" cy="146.03" r="1.35" fill="#cc0000"/>
<circle cx="320.90" cy="74.00" r="1.35" fill="#cc0000"/>
<circle cx="325.40" cy="74.00" r="1.35" fill="#cc0000"/>
<circle cx="328.00" cy="74.00" r="1.35" fill="#cc0000"/>
<circle cx="330.00" cy="74.00" r="1.35" fill="#cc0000"/>
<circle cx="334.40" cy="74.00" r="1.35" fill="#cc0000"/>
<circle cx="338.60" cy="74.00" r="1.35" fill="#cc0000"/>
<circle cx="320.90" cy="79.39" r="1.35" fill="#cc0000"/>
<circle cx="323.30" cy="80.86" r="1.35" fill="#cc0000"/>
<circle cx="325.40" cy="77.92" r="1.35" fill="#cc0000"/>
<circle cx="328.00" cy="76.45" r="1.35" fill="#cc0000"/>
<circle cx="330.50" cy="77.43" r="1.35" fill="#cc0000"/>
<circle cx="332.00" cy="80.86" r="1.35" fill="#cc0000"/>
<circle cx="334.40" cy="79.88" r="1.35" fill="#cc0000"/>
<circle cx="336.80" cy="77.92" r="1.35" fill="#cc0000"/>
<circle cx="339.20" cy="79.88" r="1.35" fill="#cc0000"/>
<circle cx="327.00" cy="81.84" r="1.35" fill="#cc0000"/>
<circle cx="330.00" cy="82.33" r="1.35" fill="#cc0000"/>
<circle cx="335.00" cy="82.33" r="1.35" fill="#cc0000"/>
<circle cx="320.90" cy="134.03" r="1.35" fill="#cc0000"/>
<circle cx="328.00" cy="134.03" r="1.35" fill="#cc0000"/>
<circle cx="334.40" cy="134.03" r="1.35" fill="#cc0000"/>
<circle cx="338.60" cy="134.03" r="1.35" fill="#cc0000"/>
<circle cx="325.40" cy="137.94" r="1.35" fill="#cc0000"/>
<circle cx="330.40" cy="137.94" r="1.35" fill="#cc0000"/>
<circle cx="325.40" cy="142.60" r="1.35" fill="#cc0000"/>
<circle cx="338.60" cy="142.60" r="1.35" fill="#cc0000"/>
<circle cx="330.00" cy="146.03" r="1.35" fill="#cc0000"/>
<circle cx="334.40" cy="144.81" r="1.35" fill="#cc0000"/>
<path d="M296.80 50.20 V46.00 H362.20 V50.20" fill="none" stroke="#111" stroke-width="1.1"/>
<line x1="329.50" y1="46.00" x2="329.50" y2="50.20" stroke="#111" stroke-width="1.1"/>
<text x="329.65" y="62.90" font-size="12.5" font-weight="bold" text-anchor="middle" fill="#000" letter-spacing="0.7">***</text>
<text x="362.55" y="62.90" font-size="12.5" font-weight="bold" text-anchor="middle" fill="#000" letter-spacing="0.7">***</text>
<text x="302.00" y="67.00" font-size="7.4" font-weight="bold" text-anchor="middle" fill="#000">n=193</text>
<text x="335.00" y="67.00" font-size="7.4" font-weight="bold" text-anchor="middle" fill="#000">n=172</text>
<text x="365.40" y="67.00" font-size="7.4" font-weight="bold" text-anchor="middle" fill="#000">n=17</text>
<text x="253.60" y="105.60" font-size="7.4" font-weight="bold" text-anchor="middle" fill="#000" transform="rotate(-90 253.60 105.60)">MAO-A protein</text>
<text x="262.00" y="106.00" font-size="7.4" font-weight="bold" text-anchor="middle" fill="#000" transform="rotate(-90 262.00 106.00)">(IRS score/patient)</text>
<line x1="415.50" y1="64.30" x2="415.50" y2="162.60" stroke="#222" stroke-width="1.35"/>
<line x1="412.20" y1="152.90" x2="415.50" y2="152.90" stroke="#222" stroke-width="1.2"/>
<text x="410.80" y="155.60" font-size="7.7" font-weight="bold" text-anchor="end" fill="#000">0</text>
<line x1="412.20" y1="143.04" x2="415.50" y2="143.04" stroke="#222" stroke-width="1.2"/>
<text x="410.80" y="145.74" font-size="7.7" font-weight="bold" text-anchor="end" fill="#000">2</text>
<line x1="412.20" y1="133.19" x2="415.50" y2="133.19" stroke="#222" stroke-width="1.2"/>
<text x="410.80" y="135.89" font-size="7.7" font-weight="bold" text-anchor="end" fill="#000">4</text>
<line x1="412.20" y1="123.33" x2="415.50" y2="123.33" stroke="#222" stroke-width="1.2"/>
<text x="410.80" y="126.03" font-size="7.7" font-weight="bold" text-anchor="end" fill="#000">6</text>
<line x1="412.20" y1="113.48" x2="415.50" y2="113.48" stroke="#222" stroke-width="1.2"/>
<text x="410.80" y="116.18" font-size="7.7" font-weight="bold" text-anchor="end" fill="#000">8</text>
<line x1="412.20" y1="103.62" x2="415.50" y2="103.62" stroke="#222" stroke-width="1.2"/>
<text x="410.80" y="106.32" font-size="7.7" font-weight="bold" text-anchor="end" fill="#000">10</text>
<line x1="412.20" y1="93.77" x2="415.50" y2="93.77" stroke="#222" stroke-width="1.2"/>
<text x="410.80" y="96.47" font-size="7.7" font-weight="bold" text-anchor="end" fill="#000">12</text>
<line x1="412.20" y1="83.91" x2="415.50" y2="83.91" stroke="#222" stroke-width="1.2"/>
<text x="410.80" y="86.61" font-size="7.7" font-weight="bold" text-anchor="end" fill="#000">14</text>
<line x1="412.20" y1="74.06" x2="415.50" y2="74.06" stroke="#222" stroke-width="1.2"/>
<text x="410.80" y="76.76" font-size="7.7" font-weight="bold" text-anchor="end" fill="#000">16</text>
<line x1="412.20" y1="64.20" x2="415.50" y2="64.20" stroke="#222" stroke-width="1.2"/>
<text x="410.80" y="66.90" font-size="7.7" font-weight="bold" text-anchor="end" fill="#000">18</text>
<line x1="415.50" y1="162.60" x2="539.30" y2="162.60" stroke="#222" stroke-width="1.35"/>
<line x1="431.00" y1="162.60" x2="431.00" y2="165.10" stroke="#222" stroke-width="1.2"/>
<line x1="462.50" y1="162.60" x2="462.50" y2="165.10" stroke="#222" stroke-width="1.2"/>
<line x1="494.40" y1="162.60" x2="494.40" y2="165.10" stroke="#222" stroke-width="1.2"/>
<line x1="525.80" y1="162.60" x2="525.80" y2="165.10" stroke="#222" stroke-width="1.2"/>
<text x="431.80" y="175.00" font-size="7.5" font-weight="bold" text-anchor="middle" fill="#000">BE</text>
<text x="461.40" y="175.00" font-size="7.5" font-weight="bold" text-anchor="middle" fill="#000">GS ≤ 6</text>
<text x="495.30" y="175.00" font-size="7.5" font-weight="bold" text-anchor="middle" fill="#000">GS 7</text>
<text x="524.80" y="175.00" font-size="7.5" font-weight="bold" text-anchor="middle" fill="#000">GS ≥ 8</text>
<line x1="431.40" y1="113.48" x2="431.40" y2="122.35" stroke="#222" stroke-width="1.1"/>
<line x1="431.40" y1="136.64" x2="431.40" y2="141.57" stroke="#222" stroke-width="1.1"/>
<line x1="426.40" y1="113.48" x2="436.40" y2="113.48" stroke="#222" stroke-width="1.1"/>
<line x1="426.40" y1="141.57" x2="436.40" y2="141.57" stroke="#222" stroke-width="1.1"/>
<rect x="420.70" y="122.35" width="21.40" height="14.29" fill="#fff" stroke="#1a1a1a" stroke-width="1.1"/>
<line x1="420.70" y1="129.25" x2="442.10" y2="129.25" stroke="#1a1a1a" stroke-width="1.1"/>
<line x1="462.50" y1="92.29" x2="462.50" y2="103.62" stroke="#222" stroke-width="1.1"/>
<line x1="462.50" y1="130.23" x2="462.50" y2="139.59" stroke="#222" stroke-width="1.1"/>
<line x1="458.00" y1="92.29" x2="467.00" y2="92.29" stroke="#222" stroke-width="1.1"/>
<line x1="458.00" y1="139.59" x2="467.00" y2="139.59" stroke="#222" stroke-width="1.1"/>
<rect x="451.80" y="103.62" width="21.40" height="26.61" fill="#d9d9d9" stroke="#1a1a1a" stroke-width="1.1"/>
<line x1="451.80" y1="115.94" x2="473.20" y2="115.94" stroke="#1a1a1a" stroke-width="1.1"/>
<line x1="494.40" y1="82.43" x2="494.40" y2="93.77" stroke="#222" stroke-width="1.1"/>
<line x1="494.40" y1="123.33" x2="494.40" y2="131.22" stroke="#222" stroke-width="1.1"/>
<line x1="489.90" y1="82.43" x2="498.90" y2="82.43" stroke="#222" stroke-width="1.1"/>
<line x1="489.90" y1="131.22" x2="498.90" y2="131.22" stroke="#222" stroke-width="1.1"/>
<rect x="483.65" y="93.77" width="21.50" height="29.57" fill="#a6a6a6" stroke="#1a1a1a" stroke-width="1.1"/>
<line x1="483.65" y1="111.01" x2="505.15" y2="111.01" stroke="#1a1a1a" stroke-width="1.1"/>
<line x1="525.80" y1="74.06" x2="525.80" y2="85.39" stroke="#222" stroke-width="1.1"/>
<line x1="525.80" y1="117.42" x2="525.80" y2="124.32" stroke="#222" stroke-width="1.1"/>
<line x1="521.30" y1="74.06" x2="530.30" y2="74.06" stroke="#222" stroke-width="1.1"/>
<line x1="521.30" y1="124.32" x2="530.30" y2="124.32" stroke="#222" stroke-width="1.1"/>
<rect x="515.15" y="85.39" width="21.30" height="32.03" fill="#5a5a5a" stroke="#1a1a1a" stroke-width="1.1"/>
<line x1="515.15" y1="100.67" x2="536.45" y2="100.67" stroke="#1a1a1a" stroke-width="1.1"/>
<circle cx="431.50" cy="93.77" r="1.35" fill="#cc0000"/>
<circle cx="426.80" cy="98.69" r="1.35" fill="#cc0000"/>
<circle cx="431.50" cy="99.68" r="1.35" fill="#cc0000"/>
<circle cx="436.00" cy="98.69" r="1.35" fill="#cc0000"/>
<circle cx="422.50" cy="103.13" r="1.35" fill="#cc0000"/>
<circle cx="427.30" cy="104.12" r="1.35" fill="#cc0000"/>
<circle cx="436.00" cy="103.13" r="1.35" fill="#cc0000"/>
<circle cx="422.50" cy="109.54" r="1.35" fill="#cc0000"/>
<circle cx="426.80" cy="110.03" r="1.35" fill="#cc0000"/>
<circle cx="429.70" cy="106.58" r="1.35" fill="#cc0000"/>
<circle cx="431.50" cy="105.59" r="1.35" fill="#cc0000"/>
<circle cx="433.60" cy="107.07" r="1.35" fill="#cc0000"/>
<circle cx="436.00" cy="112.00" r="1.35" fill="#cc0000"/>
<circle cx="440.50" cy="109.54" r="1.35" fill="#cc0000"/>
<circle cx="431.50" cy="112.49" r="1.35" fill="#cc0000"/>
<circle cx="429.50" cy="109.04" r="1.35" fill="#cc0000"/>
<circle cx="438.00" cy="111.01" r="1.35" fill="#cc0000"/>
<circle cx="430.57" cy="143.74" r="1.35" fill="#cc0000"/>
<circle cx="439.81" cy="144.00" r="1.35" fill="#cc0000"/>
<circle cx="431.65" cy="143.67" r="1.35" fill="#cc0000"/>
<circle cx="425.32" cy="143.87" r="1.35" fill="#cc0000"/>
<circle cx="434.05" cy="143.11" r="1.35" fill="#cc0000"/>
<circle cx="423.54" cy="144.44" r="1.35" fill="#cc0000"/>
<circle cx="423.48" cy="143.07" r="1.35" fill="#cc0000"/>
<circle cx="435.29" cy="145.15" r="1.35" fill="#cc0000"/>
<circle cx="440.95" cy="142.65" r="1.35" fill="#cc0000"/>
<circle cx="434.52" cy="143.59" r="1.35" fill="#cc0000"/>
<circle cx="424.79" cy="145.22" r="1.35" fill="#cc0000"/>
<circle cx="432.06" cy="145.10" r="1.35" fill="#cc0000"/>
<circle cx="425.43" cy="144.61" r="1.35" fill="#cc0000"/>
<circle cx="422.29" cy="144.00" r="1.35" fill="#cc0000"/>
<circle cx="430.33" cy="142.98" r="1.35" fill="#cc0000"/>
<circle cx="431.87" cy="143.53" r="1.35" fill="#cc0000"/>
<circle cx="431.50" cy="143.47" r="1.35" fill="#cc0000"/>
<circle cx="430.66" cy="144.51" r="1.35" fill="#cc0000"/>
<circle cx="441.25" cy="142.56" r="1.35" fill="#cc0000"/>
<circle cx="438.17" cy="143.34" r="1.35" fill="#cc0000"/>
<circle cx="427.88" cy="144.64" r="1.35" fill="#cc0000"/>
<circle cx="427.37" cy="145.07" r="1.35" fill="#cc0000"/>
<circle cx="436.72" cy="144.18" r="1.35" fill="#cc0000"/>
<circle cx="438.29" cy="144.21" r="1.35" fill="#cc0000"/>
<circle cx="440.48" cy="142.97" r="1.35" fill="#cc0000"/>
<circle cx="421.71" cy="144.69" r="1.35" fill="#cc0000"/>
<circle cx="439.54" cy="143.99" r="1.35" fill="#cc0000"/>
<circle cx="440.92" cy="144.18" r="1.35" fill="#cc0000"/>
<circle cx="423.13" cy="143.56" r="1.35" fill="#cc0000"/>
<circle cx="436.96" cy="144.53" r="1.35" fill="#cc0000"/>
<circle cx="423.41" cy="144.36" r="1.35" fill="#cc0000"/>
<circle cx="440.60" cy="143.21" r="1.35" fill="#cc0000"/>
<circle cx="424.01" cy="144.59" r="1.35" fill="#cc0000"/>
<circle cx="423.68" cy="145.10" r="1.35" fill="#cc0000"/>
<circle cx="424.00" cy="144.28" r="1.35" fill="#cc0000"/>
<circle cx="428.00" cy="144.28" r="1.35" fill="#cc0000"/>
<circle cx="432.00" cy="144.28" r="1.35" fill="#cc0000"/>
<circle cx="436.00" cy="144.28" r="1.35" fill="#cc0000"/>
<circle cx="440.00" cy="144.28" r="1.35" fill="#cc0000"/>
<circle cx="431.50" cy="147.73" r="1.35" fill="#cc0000"/>
<circle cx="436.00" cy="146.74" r="1.35" fill="#cc0000"/>
<circle cx="428.50" cy="146.49" r="1.35" fill="#cc0000"/>
<circle cx="464.10" cy="77.00" r="1.35" fill="#cc0000"/>
<circle cx="468.90" cy="80.90" r="1.35" fill="#cc0000"/>
<circle cx="473.60" cy="80.10" r="1.35" fill="#cc0000"/>
<circle cx="462.50" cy="88.90" r="1.35" fill="#cc0000"/>
<circle cx="458.20" cy="143.00" r="1.35" fill="#cc0000"/>
<circle cx="462.50" cy="145.80" r="1.35" fill="#cc0000"/>
<circle cx="467.70" cy="144.90" r="1.35" fill="#cc0000"/>
<circle cx="471.30" cy="143.00" r="1.35" fill="#cc0000"/>
<circle cx="498.50" cy="74.06" r="1.35" fill="#cc0000"/>
<circle cx="496.10" cy="77.50" r="1.35" fill="#cc0000"/>
<circle cx="500.90" cy="77.50" r="1.35" fill="#cc0000"/>
<circle cx="485.50" cy="80.46" r="1.35" fill="#cc0000"/>
<circle cx="489.00" cy="81.45" r="1.35" fill="#cc0000"/>
<circle cx="492.00" cy="82.93" r="1.35" fill="#cc0000"/>
<circle cx="495.00" cy="80.95" r="1.35" fill="#cc0000"/>
<circle cx="498.00" cy="82.93" r="1.35" fill="#cc0000"/>
<circle cx="501.00" cy="81.45" r="1.35" fill="#cc0000"/>
<circle cx="504.00" cy="80.46" r="1.35" fill="#cc0000"/>
<circle cx="487.00" cy="82.43" r="1.35" fill="#cc0000"/>
<circle cx="493.00" cy="79.48" r="1.35" fill="#cc0000"/>
<circle cx="496.86" cy="132.47" r="1.35" fill="#cc0000"/>
<circle cx="500.30" cy="131.88" r="1.35" fill="#cc0000"/>
<circle cx="499.20" cy="131.94" r="1.35" fill="#cc0000"/>
<circle cx="484.98" cy="133.29" r="1.35" fill="#cc0000"/>
<circle cx="503.27" cy="132.75" r="1.35" fill="#cc0000"/>
<circle cx="502.42" cy="134.33" r="1.35" fill="#cc0000"/>
<circle cx="493.78" cy="133.94" r="1.35" fill="#cc0000"/>
<circle cx="495.28" cy="132.97" r="1.35" fill="#cc0000"/>
<circle cx="484.66" cy="134.03" r="1.35" fill="#cc0000"/>
<circle cx="489.99" cy="131.96" r="1.35" fill="#cc0000"/>
<circle cx="499.71" cy="134.20" r="1.35" fill="#cc0000"/>
<circle cx="500.34" cy="134.26" r="1.35" fill="#cc0000"/>
<circle cx="496.75" cy="134.29" r="1.35" fill="#cc0000"/>
<circle cx="484.44" cy="132.09" r="1.35" fill="#cc0000"/>
<circle cx="488.59" cy="134.03" r="1.35" fill="#cc0000"/>
<circle cx="504.05" cy="132.09" r="1.35" fill="#cc0000"/>
<circle cx="490.19" cy="131.82" r="1.35" fill="#cc0000"/>
<circle cx="495.18" cy="132.66" r="1.35" fill="#cc0000"/>
<circle cx="488.50" cy="131.89" r="1.35" fill="#cc0000"/>
<circle cx="498.21" cy="131.81" r="1.35" fill="#cc0000"/>
<circle cx="525.80" cy="125.20" r="1.35" fill="#cc0000"/>
<circle cx="530.50" cy="130.60" r="1.35" fill="#cc0000"/>
<circle cx="526.20" cy="134.70" r="1.35" fill="#cc0000"/>
<path d="M430.00 50.30 V45.30 H525.80 V50.30" fill="none" stroke="#111" stroke-width="1.1"/>
<line x1="463.00" y1="45.30" x2="463.00" y2="50.30" stroke="#111" stroke-width="1.1"/>
<line x1="494.60" y1="45.30" x2="494.60" y2="50.30" stroke="#111" stroke-width="1.1"/>
<path d="M463.00 41.80 V39.10 H525.80 V41.80" fill="none" stroke="#111" stroke-width="1.1"/>
<text x="492.30" y="43.30" font-size="12" font-weight="bold" text-anchor="middle" fill="#000">*</text>
<text x="463.35" y="63.50" font-size="12.5" font-weight="bold" text-anchor="middle" fill="#000" letter-spacing="0.7">***</text>
<text x="494.95" y="63.50" font-size="12.5" font-weight="bold" text-anchor="middle" fill="#000" letter-spacing="0.7">***</text>
<text x="526.15" y="63.50" font-size="12.5" font-weight="bold" text-anchor="middle" fill="#000" letter-spacing="0.7">***</text>
<text x="432.00" y="67.20" font-size="7.4" font-weight="bold" text-anchor="middle" fill="#000">n=193</text>
<text x="464.80" y="67.20" font-size="7.4" font-weight="bold" text-anchor="middle" fill="#000">n=46</text>
<text x="494.80" y="67.20" font-size="7.4" font-weight="bold" text-anchor="middle" fill="#000">n=90</text>
<text x="525.80" y="67.20" font-size="7.4" font-weight="bold" text-anchor="middle" fill="#000">n=36</text>
<text x="388.30" y="105.20" font-size="7.4" font-weight="bold" text-anchor="middle" fill="#000" transform="rotate(-90 388.30 105.20)">MAO-A protein</text>
<text x="396.60" y="105.60" font-size="7.4" font-weight="bold" text-anchor="middle" fill="#000" transform="rotate(-90 396.60 105.60)">(IRS score/patient)</text>
<line x1="580.00" y1="64.30" x2="580.00" y2="162.80" stroke="#222" stroke-width="1.35"/>
<line x1="576.70" y1="153.30" x2="580.00" y2="153.30" stroke="#222" stroke-width="1.2"/>
<text x="575.30" y="156.00" font-size="7.7" font-weight="bold" text-anchor="end" fill="#000">0</text>
<line x1="576.70" y1="143.40" x2="580.00" y2="143.40" stroke="#222" stroke-width="1.2"/>
<text x="575.30" y="146.10" font-size="7.7" font-weight="bold" text-anchor="end" fill="#000">2</text>
<line x1="576.70" y1="133.50" x2="580.00" y2="133.50" stroke="#222" stroke-width="1.2"/>
<text x="575.30" y="136.20" font-size="7.7" font-weight="bold" text-anchor="end" fill="#000">4</text>
<line x1="576.70" y1="123.60" x2="580.00" y2="123.60" stroke="#222" stroke-width="1.2"/>
<text x="575.30" y="126.30" font-size="7.7" font-weight="bold" text-anchor="end" fill="#000">6</text>
<line x1="576.70" y1="113.70" x2="580.00" y2="113.70" stroke="#222" stroke-width="1.2"/>
<text x="575.30" y="116.40" font-size="7.7" font-weight="bold" text-anchor="end" fill="#000">8</text>
<line x1="576.70" y1="103.80" x2="580.00" y2="103.80" stroke="#222" stroke-width="1.2"/>
<text x="575.30" y="106.50" font-size="7.7" font-weight="bold" text-anchor="end" fill="#000">10</text>
<line x1="576.70" y1="93.90" x2="580.00" y2="93.90" stroke="#222" stroke-width="1.2"/>
<text x="575.30" y="96.60" font-size="7.7" font-weight="bold" text-anchor="end" fill="#000">12</text>
<line x1="576.70" y1="84.00" x2="580.00" y2="84.00" stroke="#222" stroke-width="1.2"/>
<text x="575.30" y="86.70" font-size="7.7" font-weight="bold" text-anchor="end" fill="#000">14</text>
<line x1="576.70" y1="74.10" x2="580.00" y2="74.10" stroke="#222" stroke-width="1.2"/>
<text x="575.30" y="76.80" font-size="7.7" font-weight="bold" text-anchor="end" fill="#000">16</text>
<line x1="576.70" y1="64.20" x2="580.00" y2="64.20" stroke="#222" stroke-width="1.2"/>
<text x="575.30" y="66.90" font-size="7.7" font-weight="bold" text-anchor="end" fill="#000">18</text>
<line x1="580.00" y1="163.00" x2="678.00" y2="163.00" stroke="#222" stroke-width="1.35"/>
<line x1="596.00" y1="163.00" x2="596.00" y2="165.50" stroke="#222" stroke-width="1.2"/>
<line x1="628.50" y1="163.00" x2="628.50" y2="165.50" stroke="#222" stroke-width="1.2"/>
<line x1="661.30" y1="163.00" x2="661.30" y2="165.50" stroke="#222" stroke-width="1.2"/>
<text x="596.80" y="175.00" font-size="7.5" font-weight="bold" text-anchor="middle" fill="#000">BE</text>
<text x="629.30" y="175.00" font-size="7.5" font-weight="bold" text-anchor="middle" fill="#000">pT2a-c</text>
<text x="662.10" y="175.00" font-size="7.5" font-weight="bold" text-anchor="middle" fill="#000">pT3-4</text>
<line x1="596.20" y1="113.70" x2="596.20" y2="122.61" stroke="#222" stroke-width="1.1"/>
<line x1="596.20" y1="136.97" x2="596.20" y2="141.92" stroke="#222" stroke-width="1.1"/>
<line x1="591.20" y1="113.70" x2="601.20" y2="113.70" stroke="#222" stroke-width="1.1"/>
<line x1="591.20" y1="141.92" x2="601.20" y2="141.92" stroke="#222" stroke-width="1.1"/>
<rect x="585.25" y="122.61" width="21.90" height="14.35" fill="#fff" stroke="#1a1a1a" stroke-width="1.1"/>
<line x1="585.25" y1="130.04" x2="607.15" y2="130.04" stroke="#1a1a1a" stroke-width="1.1"/>
<line x1="628.40" y1="86.97" x2="628.40" y2="98.85" stroke="#222" stroke-width="1.1"/>
<line x1="628.40" y1="123.60" x2="628.40" y2="133.50" stroke="#222" stroke-width="1.1"/>
<line x1="623.90" y1="86.97" x2="632.90" y2="86.97" stroke="#222" stroke-width="1.1"/>
<line x1="623.90" y1="133.50" x2="632.90" y2="133.50" stroke="#222" stroke-width="1.1"/>
<rect x="617.40" y="98.85" width="22.00" height="24.75" fill="#d9d9d9" stroke="#1a1a1a" stroke-width="1.1"/>
<line x1="617.40" y1="113.70" x2="639.40" y2="113.70" stroke="#1a1a1a" stroke-width="1.1"/>
<line x1="661.20" y1="78.56" x2="661.20" y2="92.91" stroke="#222" stroke-width="1.1"/>
<line x1="661.20" y1="118.65" x2="661.20" y2="126.57" stroke="#222" stroke-width="1.1"/>
<line x1="656.70" y1="78.56" x2="665.70" y2="78.56" stroke="#222" stroke-width="1.1"/>
<line x1="656.70" y1="126.57" x2="665.70" y2="126.57" stroke="#222" stroke-width="1.1"/>
<rect x="649.95" y="92.91" width="22.50" height="25.74" fill="#5a5a5a" stroke="#1a1a1a" stroke-width="1.1"/>
<line x1="649.95" y1="105.29" x2="672.45" y2="105.29" stroke="#1a1a1a" stroke-width="1.1"/>
<circle cx="596.30" cy="93.90" r="1.35" fill="#cc0000"/>
<circle cx="591.60" cy="98.85" r="1.35" fill="#cc0000"/>
<circle cx="596.30" cy="99.84" r="1.35" fill="#cc0000"/>
<circle cx="600.80" cy="98.85" r="1.35" fill="#cc0000"/>
<circle cx="587.30" cy="103.31" r="1.35" fill="#cc0000"/>
<circle cx="592.10" cy="104.30" r="1.35" fill="#cc0000"/>
<circle cx="600.80" cy="103.31" r="1.35" fill="#cc0000"/>
<circle cx="587.30" cy="109.74" r="1.35" fill="#cc0000"/>
<circle cx="591.60" cy="110.24" r="1.35" fill="#cc0000"/>
<circle cx="594.50" cy="106.77" r="1.35" fill="#cc0000"/>
<circle cx="596.30" cy="105.78" r="1.35" fill="#cc0000"/>
<circle cx="598.40" cy="107.27" r="1.35" fill="#cc0000"/>
<circle cx="600.80" cy="112.22" r="1.35" fill="#cc0000"/>
<circle cx="605.30" cy="109.74" r="1.35" fill="#cc0000"/>
<circle cx="596.30" cy="112.71" r="1.35" fill="#cc0000"/>
<circle cx="594.30" cy="109.25" r="1.35" fill="#cc0000"/>
<circle cx="602.80" cy="111.23" r="1.35" fill="#cc0000"/>
<circle cx="595.37" cy="144.10" r="1.35" fill="#cc0000"/>
<circle cx="604.61" cy="144.36" r="1.35" fill="#cc0000"/>
<circle cx="596.45" cy="144.03" r="1.35" fill="#cc0000"/>
<circle cx="590.12" cy="144.23" r="1.35" fill="#cc0000"/>
<circle cx="598.85" cy="143.47" r="1.35" fill="#cc0000"/>
<circle cx="588.34" cy="144.80" r="1.35" fill="#cc0000"/>
<circle cx="588.28" cy="143.42" r="1.35" fill="#cc0000"/>
<circle cx="600.09" cy="145.51" r="1.35" fill="#cc0000"/>
<circle cx="605.75" cy="143.00" r="1.35" fill="#cc0000"/>
<circle cx="599.32" cy="143.95" r="1.35" fill="#cc0000"/>
<circle cx="589.59" cy="145.59" r="1.35" fill="#cc0000"/>
<circle cx="596.86" cy="145.47" r="1.35" fill="#cc0000"/>
<circle cx="590.23" cy="144.97" r="1.35" fill="#cc0000"/>
<circle cx="587.09" cy="144.36" r="1.35" fill="#cc0000"/>
<circle cx="595.13" cy="143.33" r="1.35" fill="#cc0000"/>
<circle cx="596.67" cy="143.88" r="1.35" fill="#cc0000"/>
<circle cx="596.30" cy="143.82" r="1.35" fill="#cc0000"/>
<circle cx="595.46" cy="144.87" r="1.35" fill="#cc0000"/>
<circle cx="606.05" cy="142.92" r="1.35" fill="#cc0000"/>
<circle cx="602.97" cy="143.70" r="1.35" fill="#cc0000"/>
<circle cx="592.68" cy="145.00" r="1.35" fill="#cc0000"/>
<circle cx="592.17" cy="145.44" r="1.35" fill="#cc0000"/>
<circle cx="601.52" cy="144.54" r="1.35" fill="#cc0000"/>
<circle cx="603.09" cy="144.58" r="1.35" fill="#cc0000"/>
<circle cx="605.28" cy="143.32" r="1.35" fill="#cc0000"/>
<circle cx="586.51" cy="145.06" r="1.35" fill="#cc0000"/>
<circle cx="604.34" cy="144.35" r="1.35" fill="#cc0000"/>
<circle cx="605.72" cy="144.55" r="1.35" fill="#cc0000"/>
<circle cx="587.93" cy="143.91" r="1.35" fill="#cc0000"/>
<circle cx="601.76" cy="144.89" r="1.35" fill="#cc0000"/>
<circle cx="588.21" cy="144.72" r="1.35" fill="#cc0000"/>
<circle cx="605.40" cy="143.56" r="1.35" fill="#cc0000"/>
<circle cx="588.81" cy="144.96" r="1.35" fill="#cc0000"/>
<circle cx="588.48" cy="145.46" r="1.35" fill="#cc0000"/>
<circle cx="588.80" cy="144.64" r="1.35" fill="#cc0000"/>
<circle cx="592.80" cy="144.64" r="1.35" fill="#cc0000"/>
<circle cx="596.80" cy="144.64" r="1.35" fill="#cc0000"/>
<circle cx="600.80" cy="144.64" r="1.35" fill="#cc0000"/>
<circle cx="604.80" cy="144.64" r="1.35" fill="#cc0000"/>
<circle cx="596.30" cy="148.10" r="1.35" fill="#cc0000"/>
<circle cx="600.80" cy="147.11" r="1.35" fill="#cc0000"/>
<circle cx="593.30" cy="146.87" r="1.35" fill="#cc0000"/>
<circle cx="628.50" cy="74.10" r="1.35" fill="#cc0000"/>
<circle cx="620.50" cy="78.06" r="1.35" fill="#cc0000"/>
<circle cx="625.00" cy="77.56" r="1.35" fill="#cc0000"/>
<circle cx="633.00" cy="77.07" r="1.35" fill="#cc0000"/>
<circle cx="637.50" cy="78.06" r="1.35" fill="#cc0000"/>
<circle cx="624.50" cy="82.02" r="1.35" fill="#cc0000"/>
<circle cx="629.00" cy="83.01" r="1.35" fill="#cc0000"/>
<circle cx="633.00" cy="82.02" r="1.35" fill="#cc0000"/>
<circle cx="637.50" cy="81.03" r="1.35" fill="#cc0000"/>
<circle cx="627.00" cy="80.04" r="1.35" fill="#cc0000"/>
<circle cx="620.50" cy="134.00" r="1.35" fill="#cc0000"/>
<circle cx="625.50" cy="134.00" r="1.35" fill="#cc0000"/>
<circle cx="633.00" cy="134.00" r="1.35" fill="#cc0000"/>
<circle cx="637.50" cy="134.00" r="1.35" fill="#cc0000"/>
<circle cx="623.50" cy="137.46" r="1.35" fill="#cc0000"/>
<circle cx="628.50" cy="137.46" r="1.35" fill="#cc0000"/>
<circle cx="620.50" cy="143.40" r="1.35" fill="#cc0000"/>
<circle cx="637.50" cy="143.40" r="1.35" fill="#cc0000"/>
<circle cx="628.50" cy="146.87" r="1.35" fill="#cc0000"/>
<circle cx="633.50" cy="145.38" r="1.35" fill="#cc0000"/>
<circle cx="654.60" cy="74.10" r="1.35" fill="#cc0000"/>
<circle cx="657.70" cy="74.10" r="1.35" fill="#cc0000"/>
<circle cx="661.30" cy="74.10" r="1.35" fill="#cc0000"/>
<circle cx="666.50" cy="74.10" r="1.35" fill="#cc0000"/>
<circle cx="670.00" cy="74.10" r="1.35" fill="#cc0000"/>
<circle cx="650.60" cy="128.06" r="1.35" fill="#cc0000"/>
<circle cx="654.60" cy="130.53" r="1.35" fill="#cc0000"/>
<circle cx="661.00" cy="131.03" r="1.35" fill="#cc0000"/>
<circle cx="667.00" cy="130.53" r="1.35" fill="#cc0000"/>
<circle cx="660.80" cy="133.50" r="1.35" fill="#cc0000"/>
<circle cx="671.00" cy="130.53" r="1.35" fill="#cc0000"/>
<path d="M594.60 51.30 V46.00 H661.70 V51.30" fill="none" stroke="#111" stroke-width="1.1"/>
<line x1="628.50" y1="46.00" x2="628.50" y2="51.30" stroke="#111" stroke-width="1.1"/>
<path d="M628.50 42.00 V40.10 H661.70 V42.00" fill="none" stroke="#111" stroke-width="1.1"/>
<text x="644.40" y="42.60" font-size="12" font-weight="bold" text-anchor="middle" fill="#000">*</text>
<text x="628.85" y="63.30" font-size="12.5" font-weight="bold" text-anchor="middle" fill="#000" letter-spacing="0.7">***</text>
<text x="662.05" y="63.30" font-size="12.5" font-weight="bold" text-anchor="middle" fill="#000" letter-spacing="0.7">***</text>
<text x="596.70" y="67.60" font-size="7.4" font-weight="bold" text-anchor="middle" fill="#000">n=193</text>
<text x="628.90" y="67.60" font-size="7.4" font-weight="bold" text-anchor="middle" fill="#000">n=109</text>
<text x="661.00" y="67.60" font-size="7.4" font-weight="bold" text-anchor="middle" fill="#000">n=63</text>
<text x="553.20" y="105.20" font-size="7.4" font-weight="bold" text-anchor="middle" fill="#000" transform="rotate(-90 553.20 105.20)">MAO-A protein</text>
<text x="562.30" y="105.60" font-size="7.4" font-weight="bold" text-anchor="middle" fill="#000" transform="rotate(-90 562.30 105.60)">(IRS score/patient)</text>
<text x="5.00" y="204.40" font-size="15.5" font-weight="bold" text-anchor="start" fill="#000">C</text>
<text x="79.30" y="203.00" font-size="9.5" font-weight="bold" text-anchor="start" fill="#000">Kaplan-Maier analysis</text>
<line x1="52.10" y1="208.10" x2="207.00" y2="208.10" stroke="#000" stroke-width="1.1"/>
<rect x="27.60" y="214.60" width="110.40" height="106.90" fill="#ececec" stroke="#1a1a1a" stroke-width="1.6"/>
<line x1="25.10" y1="316.50" x2="27.60" y2="316.50" stroke="#000" stroke-width="1"/>
<text x="23.80" y="319.90" font-size="7.6" font-weight="bold" text-anchor="end" fill="#000">0.0</text>
<line x1="25.10" y1="297.36" x2="27.60" y2="297.36" stroke="#000" stroke-width="1"/>
<text x="23.80" y="300.76" font-size="7.6" font-weight="bold" text-anchor="end" fill="#000">0.2</text>
<line x1="25.10" y1="278.22" x2="27.60" y2="278.22" stroke="#000" stroke-width="1"/>
<text x="23.80" y="281.62" font-size="7.6" font-weight="bold" text-anchor="end" fill="#000">0.4</text>
<line x1="25.10" y1="259.08" x2="27.60" y2="259.08" stroke="#000" stroke-width="1"/>
<text x="23.80" y="262.48" font-size="7.6" font-weight="bold" text-anchor="end" fill="#000">0.6</text>
<line x1="25.10" y1="239.94" x2="27.60" y2="239.94" stroke="#000" stroke-width="1"/>
<text x="23.80" y="243.34" font-size="7.6" font-weight="bold" text-anchor="end" fill="#000">0.8</text>
<line x1="25.10" y1="220.80" x2="27.60" y2="220.80" stroke="#000" stroke-width="1"/>
<text x="23.80" y="224.20" font-size="7.6" font-weight="bold" text-anchor="end" fill="#000">1.0</text>
<line x1="33.70" y1="321.50" x2="33.70" y2="324.00" stroke="#000" stroke-width="1"/>
<text x="33.70" y="331.50" font-size="7.6" font-weight="bold" text-anchor="middle" fill="#000">0</text>
<line x1="51.50" y1="321.50" x2="51.50" y2="324.00" stroke="#000" stroke-width="1"/>
<text x="51.50" y="331.50" font-size="7.6" font-weight="bold" text-anchor="middle" fill="#000">25</text>
<line x1="69.30" y1="321.50" x2="69.30" y2="324.00" stroke="#000" stroke-width="1"/>
<text x="69.30" y="331.50" font-size="7.6" font-weight="bold" text-anchor="middle" fill="#000">50</text>
<line x1="87.10" y1="321.50" x2="87.10" y2="324.00" stroke="#000" stroke-width="1"/>
<text x="87.10" y="331.50" font-size="7.6" font-weight="bold" text-anchor="middle" fill="#000">75</text>
<line x1="104.90" y1="321.50" x2="104.90" y2="324.00" stroke="#000" stroke-width="1"/>
<text x="104.90" y="331.50" font-size="7.6" font-weight="bold" text-anchor="middle" fill="#000">100</text>
<line x1="122.70" y1="321.50" x2="122.70" y2="324.00" stroke="#000" stroke-width="1"/>
<text x="122.70" y="331.50" font-size="7.6" font-weight="bold" text-anchor="middle" fill="#000">125</text>
<text x="8.80" y="267.00" font-size="7.8" font-weight="bold" text-anchor="middle" fill="#000" transform="rotate(-90 8.80 267.00)">cumulative survival</text>
<text x="81.90" y="343.40" font-size="7.7" font-weight="bold" text-anchor="middle" fill="#000">time to relapse (months)</text>
<text x="65.80" y="232.40" font-size="7.6" font-weight="bold" text-anchor="start" fill="#000"><tspan font-style="italic">P</tspan>-value = 0.028</text>
<path d="M33.70 220.80 L33.70 225.90 L37.80 225.90 L37.80 229.00 L41.90 229.00 L41.90 232.00 L43.90 232.00 L43.90 238.00 L46.00 238.00 L46.00 244.30 L50.00 244.30 L50.00 246.30 L51.10 246.30 L51.10 250.00 L53.00 250.00 L53.00 255.00 L54.50 255.00 L54.50 260.00 L56.20 260.00 L56.20 265.30 L58.00 265.30 L58.00 268.00 L59.30 268.00 L59.30 270.40 L61.30 270.40 L61.30 274.50 L62.30 274.50 L62.30 278.00 L63.40 278.00 L63.40 280.70 L64.40 280.70 L64.40 285.20 L67.40 285.20 L67.40 287.80 L72.60 287.80 L72.60 290.90 L74.60 290.90 L74.60 294.00 L77.70 294.00 L77.70 297.00 L79.70 297.00 L79.70 301.00 L81.70 301.00 L81.70 304.20 L82.80 304.20 L82.80 307.20 L83.80 307.20 L83.80 310.30 L118.50 310.30 L118.50 313.40 L123.60 313.40 L123.60 316.40 L124.70 316.40" fill="none" stroke="#2d5d94" stroke-width="1.4"/>
<path d="M33.70 220.80 L33.70 232.00 L34.70 232.00 L34.70 242.00 L36.80 242.00 L36.80 245.30 L38.80 245.30 L38.80 250.40 L40.50 250.40 L40.50 255.50 L41.90 255.50 L41.90 260.20 L43.90 260.20 L43.90 266.30 L46.00 266.30 L46.00 272.50 L50.00 272.50 L50.00 278.00 L51.10 278.00 L51.10 284.70 L56.20 284.70 L56.20 287.80 L59.30 287.80 L59.30 304.20 L74.60 304.20 L74.60 307.20 L82.80 307.20 L82.80 310.30 L85.80 310.30 L85.80 313.40 L95.00 313.40 L95.00 316.40" fill="none" stroke="#5b9140" stroke-width="1.4"/>
<rect x="142.60" y="216.10" width="95.80" height="15.50" fill="#d6d6d6" stroke="none" stroke-width="1"/>
<rect x="142.60" y="231.60" width="95.80" height="14.90" fill="#ffffff" stroke="none" stroke-width="1"/>
<rect x="142.60" y="246.50" width="95.80" height="29.10" fill="#efefef" stroke="none" stroke-width="1"/>
<rect x="142.60" y="216.10" width="95.80" height="59.50" fill="none" stroke="#222" stroke-width="1.1"/>
<line x1="142.60" y1="231.60" x2="238.40" y2="231.60" stroke="#222" stroke-width="1.1"/>
<line x1="142.60" y1="246.50" x2="238.40" y2="246.50" stroke="#222" stroke-width="1.1"/>
<line x1="207.30" y1="231.60" x2="207.30" y2="275.60" stroke="#222" stroke-width="1.1"/>
<text x="190.50" y="226.30" font-size="7.6" font-weight="bold" text-anchor="middle" fill="#000">time to relapse (months)</text>
<text x="174.80" y="242.20" font-size="7.6" font-weight="bold" text-anchor="middle" fill="#000">IRS</text>
<text x="222.70" y="242.20" font-size="7.6" font-weight="bold" text-anchor="middle" fill="#000">median</text>
<text x="174.80" y="256.90" font-size="7.6" font-weight="bold" text-anchor="middle" fill="#2d5d94">low-intermediate</text>
<text x="222.70" y="256.90" font-size="7.6" font-weight="bold" text-anchor="middle" fill="#2d5d94">36.1</text>
<text x="174.80" y="271.50" font-size="7.6" font-weight="bold" text-anchor="middle" fill="#5b9140">strong</text>
<text x="222.70" y="271.50" font-size="7.6" font-weight="bold" text-anchor="middle" fill="#5b9140">16.8</text>
<rect x="143.20" y="289.80" width="10.80" height="5.00" fill="#1f4e85" stroke="none" stroke-width="1"/>
<rect x="143.20" y="310.60" width="10.80" height="5.00" fill="#538135" stroke="none" stroke-width="1"/>
<text x="191.30" y="290.50" font-size="7.6" font-weight="bold" text-anchor="middle" fill="#000">low-intermediate</text>
<text x="191.80" y="299.20" font-size="7.6" font-weight="bold" text-anchor="middle" fill="#000">staining (n=34)</text>
<text x="186.50" y="311.30" font-size="7.6" font-weight="bold" text-anchor="middle" fill="#000">strong</text>
<text x="187.30" y="320.10" font-size="7.6" font-weight="bold" text-anchor="middle" fill="#000">staining (n=31)</text>
<text x="247.00" y="233.40" font-size="7.6" font-weight="bold" text-anchor="middle" fill="#000" transform="rotate(-90 247.00 233.40)">20x</text>
<text x="303.40" y="191.90" font-size="8.3" font-weight="bold" text-anchor="middle" fill="#000">BE</text>
<text x="411.50" y="191.40" font-size="8.3" font-weight="bold" text-anchor="middle" fill="#000">CA (low GS)</text>
<text x="521.20" y="191.00" font-size="8.3" font-weight="bold" text-anchor="middle" fill="#000">CA (high GS)</text>
<text x="630.70" y="191.10" font-size="8.3" font-weight="bold" text-anchor="middle" fill="#000">CRPC</text>
<path d="M254.80 288.60 L685.00 275.90 L685.00 289.30 L254.80 289.30 Z" fill="#cc0000" stroke="none" stroke-width="1"/>
<text x="5.00" y="366.50" font-size="15.5" font-weight="bold" text-anchor="start" fill="#000">D</text>
<text x="122.30" y="363.60" font-size="9.2" font-weight="bold" text-anchor="middle" fill="#000">LNCaP</text>
<line x1="54.70" y1="368.30" x2="188.00" y2="368.30" stroke="#000" stroke-width="1.1"/>
<line x1="36.50" y1="383.40" x2="36.50" y2="476.80" stroke="#000" stroke-width="1.1"/>
<line x1="34.00" y1="476.20" x2="36.50" y2="476.20" stroke="#000" stroke-width="1"/>
<text x="32.70" y="478.90" font-size="7.5" font-weight="normal" text-anchor="end" fill="#000" stroke="#000" stroke-width="0.35">0</text>
<line x1="34.00" y1="457.64" x2="36.50" y2="457.64" stroke="#000" stroke-width="1"/>
<text x="32.70" y="460.34" font-size="7.5" font-weight="normal" text-anchor="end" fill="#000" stroke="#000" stroke-width="0.35">25</text>
<line x1="34.00" y1="439.08" x2="36.50" y2="439.08" stroke="#000" stroke-width="1"/>
<text x="32.70" y="441.78" font-size="7.5" font-weight="normal" text-anchor="end" fill="#000" stroke="#000" stroke-width="0.35">50</text>
<line x1="34.00" y1="420.52" x2="36.50" y2="420.52" stroke="#000" stroke-width="1"/>
<text x="32.70" y="423.22" font-size="7.5" font-weight="normal" text-anchor="end" fill="#000" stroke="#000" stroke-width="0.35">75</text>
<line x1="34.00" y1="401.96" x2="36.50" y2="401.96" stroke="#000" stroke-width="1"/>
<text x="32.70" y="404.66" font-size="7.5" font-weight="normal" text-anchor="end" fill="#000" stroke="#000" stroke-width="0.35">100</text>
<line x1="34.00" y1="383.40" x2="36.50" y2="383.40" stroke="#000" stroke-width="1"/>
<text x="32.70" y="386.10" font-size="7.5" font-weight="normal" text-anchor="end" fill="#000" stroke="#000" stroke-width="0.35">125</text>
<line x1="36.50" y1="476.20" x2="78.50" y2="476.20" stroke="#000" stroke-width="1.1"/>
<line x1="47.45" y1="401.96" x2="47.45" y2="398.99" stroke="#000" stroke-width="1.1"/>
<line x1="43.85" y1="398.99" x2="51.05" y2="398.99" stroke="#000" stroke-width="1.1"/>
<rect x="40.30" y="401.96" width="14.30" height="74.24" fill="#000" stroke="#000" stroke-width="1.1"/>
<line x1="47.45" y1="476.20" x2="47.45" y2="478.70" stroke="#000" stroke-width="1"/>
<line x1="68.30" y1="457.27" x2="68.30" y2="454.67" stroke="#000" stroke-width="1.1"/>
<line x1="64.70" y1="454.67" x2="71.90" y2="454.67" stroke="#000" stroke-width="1.1"/>
<rect x="61.30" y="457.27" width="14.00" height="18.93" fill="#fff" stroke="#000" stroke-width="1.1"/>
<line x1="68.30" y1="476.20" x2="68.30" y2="478.70" stroke="#000" stroke-width="1"/>
<line x1="105.70" y1="383.40" x2="105.70" y2="476.80" stroke="#000" stroke-width="1.1"/>
<line x1="103.20" y1="476.20" x2="105.70" y2="476.20" stroke="#000" stroke-width="1"/>
<text x="101.90" y="478.90" font-size="7.5" font-weight="normal" text-anchor="end" fill="#000" stroke="#000" stroke-width="0.35">0</text>
<line x1="103.20" y1="457.64" x2="105.70" y2="457.64" stroke="#000" stroke-width="1"/>
<text x="101.90" y="460.34" font-size="7.5" font-weight="normal" text-anchor="end" fill="#000" stroke="#000" stroke-width="0.35">25</text>
<line x1="103.20" y1="439.08" x2="105.70" y2="439.08" stroke="#000" stroke-width="1"/>
<text x="101.90" y="441.78" font-size="7.5" font-weight="normal" text-anchor="end" fill="#000" stroke="#000" stroke-width="0.35">50</text>
<line x1="103.20" y1="420.52" x2="105.70" y2="420.52" stroke="#000" stroke-width="1"/>
<text x="101.90" y="423.22" font-size="7.5" font-weight="normal" text-anchor="end" fill="#000" stroke="#000" stroke-width="0.35">75</text>
<line x1="103.20" y1="401.96" x2="105.70" y2="401.96" stroke="#000" stroke-width="1"/>
<text x="101.90" y="404.66" font-size="7.5" font-weight="normal" text-anchor="end" fill="#000" stroke="#000" stroke-width="0.35">100</text>
<line x1="103.20" y1="383.40" x2="105.70" y2="383.40" stroke="#000" stroke-width="1"/>
<text x="101.90" y="386.10" font-size="7.5" font-weight="normal" text-anchor="end" fill="#000" stroke="#000" stroke-width="0.35">125</text>
<line x1="105.70" y1="476.20" x2="148.50" y2="476.20" stroke="#000" stroke-width="1.1"/>
<line x1="117.95" y1="401.96" x2="117.95" y2="398.99" stroke="#000" stroke-width="1.1"/>
<line x1="114.35" y1="398.99" x2="121.55" y2="398.99" stroke="#000" stroke-width="1.1"/>
<rect x="110.80" y="401.96" width="14.30" height="74.24" fill="#000" stroke="#000" stroke-width="1.1"/>
<line x1="117.95" y1="476.20" x2="117.95" y2="478.70" stroke="#000" stroke-width="1"/>
<line x1="138.80" y1="441.31" x2="138.80" y2="439.08" stroke="#000" stroke-width="1.1"/>
<line x1="135.20" y1="439.08" x2="142.40" y2="439.08" stroke="#000" stroke-width="1.1"/>
<rect x="131.80" y="441.31" width="14.00" height="34.89" fill="#fff" stroke="#000" stroke-width="1.1"/>
<line x1="138.80" y1="476.20" x2="138.80" y2="478.70" stroke="#000" stroke-width="1"/>
<line x1="47.60" y1="384.60" x2="67.20" y2="384.60" stroke="#000" stroke-width="1.1"/>
<line x1="47.60" y1="382.60" x2="47.60" y2="386.60" stroke="#000" stroke-width="1.1"/>
<line x1="67.20" y1="382.60" x2="67.20" y2="386.60" stroke="#000" stroke-width="1.1"/>
<text x="57.85" y="387.20" font-size="12.5" font-weight="bold" text-anchor="middle" fill="#000" letter-spacing="0.7">***</text>
<line x1="117.80" y1="384.60" x2="138.00" y2="384.60" stroke="#000" stroke-width="1.1"/>
<line x1="117.80" y1="382.60" x2="117.80" y2="386.60" stroke="#000" stroke-width="1.1"/>
<line x1="138.00" y1="382.60" x2="138.00" y2="386.60" stroke="#000" stroke-width="1.1"/>
<text x="128.25" y="387.20" font-size="12.5" font-weight="bold" text-anchor="middle" fill="#000" letter-spacing="0.7">***</text>
<text x="51.00" y="487.80" font-size="7.8" font-weight="bold" text-anchor="end" fill="#000" transform="rotate(-30 51.00 487.80)">neg.C</text>
<text x="121.40" y="487.80" font-size="7.8" font-weight="bold" text-anchor="end" fill="#000" transform="rotate(-30 121.40 487.80)">neg.C</text>
<text x="71.20" y="489.40" font-size="7.8" font-weight="bold" text-anchor="end" fill="#000" transform="rotate(-30 71.20 489.40)">siMAO-A</text>
<text x="141.60" y="489.40" font-size="7.8" font-weight="bold" text-anchor="end" fill="#000" transform="rotate(-30 141.60 489.40)">siMAO-A</text>
<text x="6.00" y="429.50" font-size="7.6" font-weight="bold" text-anchor="middle" fill="#000" transform="rotate(-90 6.00 429.50)">[³H] thymidine</text>
<text x="12.80" y="428.30" font-size="7.4" font-weight="bold" text-anchor="middle" fill="#000" transform="rotate(-90 12.80 428.30)">(incorporation %)</text>
<text x="87.80" y="428.50" font-size="7.8" font-weight="bold" text-anchor="middle" fill="#000" transform="rotate(-90 87.80 428.50)">cell viability (%)</text>
<rect x="173.50" y="372.50" width="50.10" height="25.10" fill="#e6e6e6" stroke="#333" stroke-width="1.0"/>
<text x="171.30" y="387.35" font-size="6.9" font-weight="normal" text-anchor="end" fill="#000" stroke="#000" stroke-width="0.3">85 kD</text>
<text x="225.50" y="387.85" font-size="8.0" font-weight="bold" text-anchor="start" fill="#000">cPARP</text>
<rect x="173.50" y="399.00" width="50.10" height="25.30" fill="#e6e6e6" stroke="#333" stroke-width="1.0"/>
<text x="171.30" y="413.95" font-size="6.9" font-weight="normal" text-anchor="end" fill="#000" stroke="#000" stroke-width="0.3">60 kD</text>
<text x="225.50" y="414.45" font-size="8.0" font-weight="bold" text-anchor="start" fill="#000">MAO-A</text>
<rect x="173.50" y="426.30" width="50.10" height="25.00" fill="#e6e6e6" stroke="#333" stroke-width="1.0"/>
<text x="171.30" y="441.10" font-size="6.9" font-weight="normal" text-anchor="end" fill="#000" stroke="#000" stroke-width="0.3">21 kD</text>
<text x="224.60" y="441.60" font-size="8.0" font-weight="bold" text-anchor="start" fill="#000">p21</text>
<rect x="173.50" y="453.30" width="50.10" height="25.90" fill="#e6e6e6" stroke="#333" stroke-width="1.0"/>
<text x="171.30" y="468.55" font-size="6.9" font-weight="normal" text-anchor="end" fill="#000" stroke="#000" stroke-width="0.3">37 kD</text>
<text x="225.50" y="469.05" font-size="8.0" font-weight="bold" text-anchor="start" fill="#000">GAPDH</text>
<text x="183.70" y="488.20" font-size="7.6" font-weight="bold" text-anchor="end" fill="#000" transform="rotate(-30 183.70 488.20)">neg.C</text>
<text x="215.60" y="486.80" font-size="7.6" font-weight="bold" text-anchor="end" fill="#000" transform="rotate(-30 215.60 486.80)">siMAO-A</text>
<text x="240.30" y="310.10" font-size="14.5" font-weight="bold" text-anchor="start" fill="#000">E</text>
<rect x="259.50" y="304.90" width="266.80" height="199.70" fill="#fcfdff" stroke="#4a7ab0" stroke-width="1.5"/>
<text x="392.80" y="317.40" font-size="9.9" font-weight="bold" text-anchor="middle" fill="#000">potential options for MAO-A inhibition</text>
<path d="M272.20 321.70 L505.20 321.70 L505.20 316.70 L515.10 326.10 L505.20 335.50 L505.20 331.00 L272.20 331.00 Z" fill="#bdd7ee" stroke="#4a7ab0" stroke-width="1.0"/>
<text x="393.80" y="329.20" font-size="7.15" font-weight="bold" text-anchor="middle" fill="#000">tumor progression – therapy resistance</text>
<rect x="272.20" y="338.20" width="53.20" height="21.40" fill="#dde9f5" stroke="#4a7ab0" stroke-width="1.0"/>
<text x="298.80" y="347.30" font-size="7.2" font-weight="bold" text-anchor="middle" fill="#000">hormone</text>
<text x="298.80" y="356.10" font-size="7.2" font-weight="bold" text-anchor="middle" fill="#000">naive</text>
<rect x="337.30" y="338.20" width="51.30" height="21.40" fill="#dde9f5" stroke="#4a7ab0" stroke-width="1.0"/>
<text x="362.95" y="347.30" font-size="7.2" font-weight="bold" text-anchor="middle" fill="#000">ADT</text>
<text x="362.95" y="356.10" font-size="7.2" font-weight="bold" text-anchor="middle" fill="#000">resistance</text>
<rect x="401.20" y="338.20" width="49.30" height="21.40" fill="#dde9f5" stroke="#4a7ab0" stroke-width="1.0"/>
<text x="425.85" y="347.30" font-size="7.2" font-weight="bold" text-anchor="middle" fill="#000">anti-AR</text>
<text x="425.85" y="356.10" font-size="7.2" font-weight="bold" text-anchor="middle" fill="#000">resistance</text>
<rect x="463.20" y="338.20" width="52.60" height="21.40" fill="#dde9f5" stroke="#4a7ab0" stroke-width="1.0"/>
<text x="489.50" y="347.30" font-size="7.2" font-weight="bold" text-anchor="middle" fill="#000">anti-androgen</text>
<text x="489.50" y="356.10" font-size="7.2" font-weight="bold" text-anchor="middle" fill="#000">resistance</text>
<rect x="272.20" y="365.50" width="243.60" height="9.90" fill="#bdd7ee" stroke="#4a7ab0" stroke-width="1.0"/>
<text x="393.90" y="373.20" font-size="7.3" font-weight="bold" text-anchor="middle" fill="#000">corresponding tumor progression LNCaP cell model</text>
<rect x="272.20" y="378.70" width="243.60" height="10.30" fill="#c8c8c8" stroke="#8a8a8a" stroke-width="1.0"/>
<path d="M272.20 389.00 L515.80 378.70 L515.80 389.00 Z" fill="#eba3a3" stroke="#c00000" stroke-width="1.0"/>
<text x="274.00" y="385.40" font-size="5.6" font-weight="bold" text-anchor="start" fill="#000">reduced/blocked  AR</text>
<text x="512.80" y="386.40" font-size="5.6" font-weight="bold" text-anchor="end" fill="#000">elevated  GR</text>
<rect x="272.20" y="392.20" width="53.40" height="11.50" fill="#dde9f5" stroke="#4a7ab0" stroke-width="1.0"/>
<text x="298.90" y="400.90" font-size="7.3" font-weight="bold" text-anchor="middle" fill="#000">LNCaP</text>
<rect x="335.20" y="392.20" width="52.60" height="11.50" fill="#dde9f5" stroke="#4a7ab0" stroke-width="1.0"/>
<text x="361.50" y="400.90" font-size="7.3" font-weight="bold" text-anchor="middle" fill="#000">LNCaPabl</text>
<rect x="399.40" y="392.20" width="52.10" height="11.50" fill="#dde9f5" stroke="#4a7ab0" stroke-width="1.0"/>
<text x="425.45" y="400.90" font-size="7.3" font-weight="bold" text-anchor="middle" fill="#000">abl-Enza</text>
<rect x="463.20" y="392.20" width="52.20" height="11.50" fill="#dde9f5" stroke="#4a7ab0" stroke-width="1.0"/>
<text x="489.30" y="400.90" font-size="7.3" font-weight="bold" text-anchor="middle" fill="#000">abl-Abi</text>
<rect x="272.20" y="408.20" width="243.60" height="10.30" fill="#bdd7ee" stroke="#4a7ab0" stroke-width="1.0"/>
<text x="394.90" y="416.30" font-size="7.1" font-weight="bold" text-anchor="middle" fill="#000">possible treatment options (single or combination)</text>
<rect x="272.20" y="420.90" width="53.40" height="57.40" fill="#e2efda" stroke="#6a9a4a" stroke-width="1.0"/>
<text x="298.90" y="428.60" font-size="6.0" font-weight="bold" text-anchor="middle" fill="#cc1111">ADT</text>
<text x="298.90" y="437.60" font-size="6.0" font-weight="bold" text-anchor="middle" fill="#cc1111">anti-AR</text>
<text x="298.90" y="444.30" font-size="6.0" font-weight="bold" text-anchor="middle" fill="#000">(Enza, Apa, Daro)</text>
<text x="298.90" y="453.20" font-size="6.0" font-weight="bold" text-anchor="middle" fill="#cc1111">anti-androgen</text>
<text x="298.90" y="459.90" font-size="6.0" font-weight="bold" text-anchor="middle" fill="#000">(Abi)</text>
<text x="298.90" y="467.60" font-size="6.0" font-weight="bold" text-anchor="middle" fill="#cc1111">chemotherapy</text>
<text x="298.90" y="474.70" font-size="6.0" font-weight="bold" text-anchor="middle" fill="#000">(Doc, Cab)</text>
<text x="298.90" y="485.20" font-size="8.5" font-weight="bold" text-anchor="middle" fill="#000">+</text>
<rect x="272.20" y="486.00" width="53.40" height="16.70" fill="#e2efda" stroke="#6a9a4a" stroke-width="1.0"/>
<text x="298.90" y="492.90" font-size="5.9" font-weight="bold" text-anchor="middle" fill="#000">MAO-A</text>
<text x="298.90" y="499.60" font-size="5.9" font-weight="bold" text-anchor="middle" fill="#000">inhibition</text>
<rect x="335.20" y="420.90" width="52.60" height="57.40" fill="#e2efda" stroke="#6a9a4a" stroke-width="1.0"/>
<text x="361.50" y="428.90" font-size="7.2" font-weight="bold" text-anchor="middle" fill="#000">---</text>
<text x="361.50" y="437.60" font-size="6.0" font-weight="bold" text-anchor="middle" fill="#cc1111">anti-AR</text>
<text x="361.50" y="444.30" font-size="6.0" font-weight="bold" text-anchor="middle" fill="#000">(Enza, Apa, Daro)</text>
<text x="361.50" y="453.20" font-size="6.0" font-weight="bold" text-anchor="middle" fill="#cc1111">anti-androgen</text>
<text x="361.50" y="459.90" font-size="6.0" font-weight="bold" text-anchor="middle" fill="#000">(Abi)</text>
<text x="361.50" y="467.60" font-size="6.0" font-weight="bold" text-anchor="middle" fill="#cc1111">chemotherapy</text>
<text x="361.50" y="474.70" font-size="6.0" font-weight="bold" text-anchor="middle" fill="#000">(Doc, Cab)</text>
<text x="361.50" y="485.20" font-size="8.5" font-weight="bold" text-anchor="middle" fill="#000">+</text>
<rect x="335.20" y="486.00" width="52.60" height="16.70" fill="#e2efda" stroke="#6a9a4a" stroke-width="1.0"/>
<text x="361.50" y="492.90" font-size="5.9" font-weight="bold" text-anchor="middle" fill="#000">MAO-A</text>
<text x="361.50" y="499.60" font-size="5.9" font-weight="bold" text-anchor="middle" fill="#000">inhibition</text>
<rect x="399.40" y="420.90" width="52.10" height="57.40" fill="#e2efda" stroke="#6a9a4a" stroke-width="1.0"/>
<text x="425.45" y="428.90" font-size="7.2" font-weight="bold" text-anchor="middle" fill="#000">---</text>
<text x="425.45" y="443.80" font-size="7.2" font-weight="bold" text-anchor="middle" fill="#000">---</text>
<text x="425.45" y="453.20" font-size="6.0" font-weight="bold" text-anchor="middle" fill="#cc1111">anti-androgen</text>
<text x="425.45" y="459.90" font-size="6.0" font-weight="bold" text-anchor="middle" fill="#000">(Abi)</text>
<text x="425.45" y="467.60" font-size="6.0" font-weight="bold" text-anchor="middle" fill="#cc1111">chemotherapy</text>
<text x="425.45" y="474.70" font-size="6.0" font-weight="bold" text-anchor="middle" fill="#000">(Doc, Cab)</text>
<text x="425.45" y="485.20" font-size="8.5" font-weight="bold" text-anchor="middle" fill="#000">+</text>
<rect x="399.40" y="486.00" width="52.10" height="16.70" fill="#e2efda" stroke="#6a9a4a" stroke-width="1.0"/>
<text x="425.45" y="492.90" font-size="5.9" font-weight="bold" text-anchor="middle" fill="#000">MAO-A</text>
<text x="425.45" y="499.60" font-size="5.9" font-weight="bold" text-anchor="middle" fill="#000">inhibition</text>
<rect x="463.20" y="420.90" width="52.20" height="57.40" fill="#e2efda" stroke="#6a9a4a" stroke-width="1.0"/>
<text x="489.30" y="428.90" font-size="7.2" font-weight="bold" text-anchor="middle" fill="#000">---</text>
<text x="489.30" y="443.80" font-size="7.2" font-weight="bold" text-anchor="middle" fill="#000">---</text>
<text x="489.30" y="458.70" font-size="7.2" font-weight="bold" text-anchor="middle" fill="#000">---</text>
<text x="489.30" y="467.60" font-size="6.0" font-weight="bold" text-anchor="middle" fill="#cc1111">chemotherapy</text>
<text x="489.30" y="474.70" font-size="6.0" font-weight="bold" text-anchor="middle" fill="#000">(Doc, Cab)</text>
<text x="489.30" y="485.20" font-size="8.5" font-weight="bold" text-anchor="middle" fill="#000">+</text>
<rect x="463.20" y="486.00" width="52.20" height="16.70" fill="#e2efda" stroke="#6a9a4a" stroke-width="1.0"/>
<text x="489.30" y="492.90" font-size="5.9" font-weight="bold" text-anchor="middle" fill="#000">MAO-A</text>
<text x="489.30" y="499.60" font-size="5.9" font-weight="bold" text-anchor="middle" fill="#000">inhibition</text>
<text x="534.30" y="309.90" font-size="16.5" font-weight="bold" text-anchor="start" fill="#000">F</text>
<text x="592.00" y="317.60" font-size="8.65" font-weight="bold" text-anchor="middle" fill="#000">MAO-A expression</text>
<line x1="549.50" y1="321.10" x2="632.90" y2="321.10" stroke="#000" stroke-width="1.1"/>
<path d="M550.20 325.70 L634.30 334.60 L634.30 335.50 L550.20 335.50 Z" fill="#a8a8a8" stroke="#777" stroke-width="0.8"/>
<path d="M550.20 376.00 L634.30 365.40 L634.30 376.00 Z" fill="#f0a4a4" stroke="#c00000" stroke-width="1.0"/>
<rect x="550.00" y="337.40" width="84.30" height="25.70" fill="#e8e8e8" stroke="#333" stroke-width="1.0"/>
<text x="548.50" y="352.55" font-size="6.9" font-weight="normal" text-anchor="end" fill="#000" stroke="#000" stroke-width="0.3">99 kD</text>
<text x="636.00" y="353.25" font-size="8.2" font-weight="bold" text-anchor="start" fill="#000">AR</text>
<rect x="550.00" y="377.50" width="84.30" height="25.30" fill="#e8e8e8" stroke="#333" stroke-width="1.0"/>
<text x="548.50" y="392.45" font-size="6.9" font-weight="normal" text-anchor="end" fill="#000" stroke="#000" stroke-width="0.3">90 kD</text>
<text x="636.00" y="393.15" font-size="8.2" font-weight="bold" text-anchor="start" fill="#000">GR</text>
<rect x="550.00" y="413.80" width="84.30" height="25.60" fill="#e8e8e8" stroke="#333" stroke-width="1.0"/>
<text x="548.50" y="428.90" font-size="6.9" font-weight="normal" text-anchor="end" fill="#000" stroke="#000" stroke-width="0.3">60 kD</text>
<text x="636.00" y="429.60" font-size="8.2" font-weight="bold" text-anchor="start" fill="#000">MAO-A</text>
<rect x="550.00" y="441.30" width="84.30" height="24.70" fill="#e8e8e8" stroke="#333" stroke-width="1.0"/>
<text x="548.50" y="455.95" font-size="6.9" font-weight="normal" text-anchor="end" fill="#000" stroke="#000" stroke-width="0.3">37 kD</text>
<text x="636.00" y="456.65" font-size="8.2" font-weight="bold" text-anchor="start" fill="#000">GAPDH</text>
<text x="564.50" y="411.70" font-size="8.0" font-weight="bold" text-anchor="middle" fill="#000">1.0</text>
<text x="583.60" y="411.70" font-size="8.0" font-weight="bold" text-anchor="middle" fill="#000">2.0</text>
<text x="603.00" y="411.70" font-size="8.0" font-weight="bold" text-anchor="middle" fill="#000">0.8</text>
<text x="622.30" y="411.70" font-size="8.0" font-weight="bold" text-anchor="middle" fill="#000">0.7</text>
<text x="569.80" y="473.00" font-size="8.7" font-weight="bold" text-anchor="end" fill="#000" transform="rotate(-40 569.80 473.00)">LNCaP</text>
<text x="590.20" y="473.00" font-size="8.7" font-weight="bold" text-anchor="end" fill="#000" transform="rotate(-40 590.20 473.00)">LNCaPabl</text>
<text x="606.40" y="473.00" font-size="8.7" font-weight="bold" text-anchor="end" fill="#000" transform="rotate(-40 606.40 473.00)">abl-Enza</text>
<text x="621.20" y="473.00" font-size="8.7" font-weight="bold" text-anchor="end" fill="#000" transform="rotate(-40 621.20 473.00)">abl-Abi</text>
<g clip-path="url(#clip0)">
<rect x="248.90" y="194.30" width="107.70" height="80.00" fill="#eef0ee" stroke="none" stroke-width="1" filter="url(#texWhite)"/>
<g filter="url(#blur12)" opacity="0.9">
<path d="M248.9 203.8 Q248.9 203.8 258.7 202.2 Q268.6 200.6 279.2 199.7 Q289.9 198.9 296.4 197.7 Q303.0 196.5 312.0 197.7 Q321.0 198.9 330.9 198.1 Q340.7 197.3 349.8 198.9 L358.9 200.6" fill="none" stroke="#bfcfdf" stroke-width="11.0" stroke-linecap="round"/>
<path d="M340.7 195.6 Q340.7 195.6 337.4 201.4 Q334.1 207.1 330.0 213.7 Q325.9 220.2 322.7 226.8 Q319.4 233.3 316.1 240.7 Q312.8 248.1 307.9 255.5 Q303.0 262.9 299.7 269.9 L296.4 277.0" fill="none" stroke="#bfcfdf" stroke-width="8.8" stroke-linecap="round"/>
<path d="M248.9 212.0 Q248.9 212.0 253.8 214.5 Q258.7 217.0 264.5 219.4 Q270.2 221.9 275.1 226.8 Q280.0 231.7 282.5 239.9 Q285.0 248.1 288.2 255.5 Q291.5 262.9 294.8 269.4 L298.1 276.0" fill="none" stroke="#bfcfdf" stroke-width="5.5" stroke-linecap="round"/>
<path d="M278.4 200.6 Q278.4 200.6 280.9 207.1 Q283.3 213.7 282.5 220.2 Q281.7 226.8 280.9 233.3 L280.0 239.9" fill="none" stroke="#bfcfdf" stroke-width="4.4" stroke-linecap="round"/>
<path d="M327.6 218.6 Q327.6 218.6 332.5 220.2 Q337.4 221.9 342.3 223.5 Q347.3 225.1 353.1 223.5 L358.9 221.9" fill="none" stroke="#bfcfdf" stroke-width="4.4" stroke-linecap="round"/>
<path d="M248.9 243.2 Q248.9 243.2 253.8 245.6 Q258.7 248.1 263.7 252.2 Q268.6 256.3 273.5 260.4 Q278.4 264.5 282.5 270.2 L286.6 276.0" fill="none" stroke="#bfcfdf" stroke-width="5.5" stroke-linecap="round"/>
<path d="M314.5 262.9 Q314.5 262.9 320.2 263.7 Q325.9 264.5 331.7 263.7 Q337.4 262.9 342.3 264.5 Q347.3 266.1 353.1 265.3 L358.9 264.5" fill="none" stroke="#bfcfdf" stroke-width="6.6000000000000005" stroke-linecap="round"/>
<path d="M248.9 262.9 Q248.9 262.9 252.2 266.1 Q255.5 269.4 259.6 272.7 L263.7 276.0" fill="none" stroke="#bfcfdf" stroke-width="6.6000000000000005" stroke-linecap="round"/>
</g>
<ellipse cx="291.5" cy="237.7" rx="7.5" ry="6" fill="#bfd1e3" filter="url(#blur07)"/>
<ellipse cx="268.6" cy="258.2" rx="6" ry="4" fill="#c9d8e6" filter="url(#blur07)"/>
<ellipse cx="327.6" cy="260.7" rx="6" ry="4" fill="#c9d8e6" filter="url(#blur07)"/>
<ellipse cx="345.6" cy="230.4" rx="6" ry="5" fill="#cbd9e6" filter="url(#blur07)"/>
<ellipse cx="347.3" cy="271.3" rx="8" ry="3" fill="#c9d8e6" filter="url(#blur07)"/>
<g filter="url(#blur07)" opacity="0.8">
<path d="M252.2 208.8 Q252.2 208.8 257.1 209.6 Q262.0 210.4 266.1 211.2 Q270.2 212.0 273.5 213.7 Q276.8 215.3 279.2 218.6 Q281.7 221.9 281.7 226.8 Q281.7 231.7 280.9 235.8 Q280.0 239.9 276.8 241.5 Q273.5 243.2 271.0 242.4 L268.6 241.5" fill="none" stroke="#c3ccd4" stroke-width="2.8" stroke-linecap="round" stroke-linejoin="round"/>
<path d="M286.6 203.8 Q286.6 203.8 292.3 202.2 Q298.1 200.6 303.0 201.0 Q307.9 201.4 312.8 202.6 Q317.8 203.8 319.4 207.1 Q321.0 210.4 320.2 216.1 Q319.4 221.9 316.9 226.0 Q314.5 230.1 312.0 233.3 Q309.6 236.6 306.3 239.9 Q303.0 243.2 300.5 247.3 Q298.1 251.4 294.8 253.8 Q291.5 256.3 289.1 259.6 L286.6 262.9" fill="none" stroke="#c3ccd4" stroke-width="2.8" stroke-linecap="round" stroke-linejoin="round"/>
<path d="M258.7 213.7 Q258.7 213.7 259.6 218.6 Q260.4 223.5 259.6 228.4 Q258.7 233.3 256.3 236.6 Q253.8 239.9 253.0 244.0 L252.2 248.1" fill="none" stroke="#c3ccd4" stroke-width="2.8" stroke-linecap="round" stroke-linejoin="round"/>
<path d="M325.9 203.8 Q325.9 203.8 330.0 207.1 Q334.1 210.4 337.4 214.5 Q340.7 218.6 345.6 221.0 Q350.5 223.5 353.8 225.1 L357.1 226.8" fill="none" stroke="#c3ccd4" stroke-width="2.8" stroke-linecap="round" stroke-linejoin="round"/>
<path d="M324.3 223.5 Q324.3 223.5 325.1 228.4 Q325.9 233.3 323.5 238.3 Q321.0 243.2 318.6 247.3 Q316.1 251.4 315.3 255.5 Q314.5 259.6 316.1 262.9 Q317.8 266.1 322.7 264.5 Q327.6 262.9 331.7 262.0 L335.8 261.2" fill="none" stroke="#c3ccd4" stroke-width="2.8" stroke-linecap="round" stroke-linejoin="round"/>
<path d="M268.6 264.5 Q268.6 264.5 272.7 265.3 Q276.8 266.1 280.9 268.6 Q285.0 271.0 288.2 269.4 L291.5 267.8" fill="none" stroke="#c3ccd4" stroke-width="2.8" stroke-linecap="round" stroke-linejoin="round"/>
<path d="M298.1 210.4 Q298.1 210.4 299.7 215.3 Q301.4 220.2 299.7 223.5 Q298.1 226.8 294.8 228.4 L291.5 230.1" fill="none" stroke="#c3ccd4" stroke-width="2.8" stroke-linecap="round" stroke-linejoin="round"/>
<path d="M337.4 230.1 Q337.4 230.1 339.1 233.3 Q340.7 236.6 344.0 235.8 Q347.3 235.0 350.5 233.3 L353.8 231.7" fill="none" stroke="#c3ccd4" stroke-width="2.8" stroke-linecap="round" stroke-linejoin="round"/>
<path d="M262.0 243.2 Q262.0 243.2 263.7 246.5 Q265.3 249.7 267.8 252.2 L270.2 254.7" fill="none" stroke="#c3ccd4" stroke-width="2.8" stroke-linecap="round" stroke-linejoin="round"/>
</g>
<circle cx="254.26" cy="209.35" r="0.45" fill="#be8c60"/>
<circle cx="261.85" cy="211.49" r="0.4" fill="#be8c60"/>
<circle cx="258.77" cy="211.09" r="0.45" fill="#b0784a"/>
<circle cx="254.21" cy="210.00" r="0.55" fill="#b0784a"/>
<circle cx="257.66" cy="210.12" r="0.45" fill="#c9a07a"/>
<circle cx="252.10" cy="208.80" r="0.4" fill="#a8734a"/>
<circle cx="252.99" cy="207.80" r="0.4" fill="#c9a07a"/>
<circle cx="263.88" cy="210.42" r="0.4" fill="#be8c60"/>
<circle cx="267.39" cy="212.25" r="0.4" fill="#be8c60"/>
<circle cx="264.85" cy="211.68" r="0.55" fill="#b0784a"/>
<circle cx="262.96" cy="211.38" r="0.4" fill="#a8734a"/>
<circle cx="270.51" cy="211.69" r="0.45" fill="#c9a07a"/>
<circle cx="265.69" cy="211.18" r="0.45" fill="#b0784a"/>
<circle cx="274.86" cy="215.29" r="0.45" fill="#b0784a"/>
<circle cx="273.56" cy="214.24" r="0.4" fill="#a8734a"/>
<circle cx="274.15" cy="213.09" r="0.4" fill="#a8734a"/>
<circle cx="275.28" cy="215.39" r="0.45" fill="#be8c60"/>
<circle cx="269.85" cy="213.12" r="0.45" fill="#a8734a"/>
<circle cx="276.44" cy="216.41" r="0.55" fill="#be8c60"/>
<circle cx="279.94" cy="219.09" r="0.55" fill="#b0784a"/>
<circle cx="281.09" cy="220.80" r="0.4" fill="#be8c60"/>
<circle cx="276.53" cy="217.11" r="0.55" fill="#c9a07a"/>
<circle cx="276.54" cy="216.54" r="0.55" fill="#a8734a"/>
<circle cx="276.34" cy="215.29" r="0.45" fill="#be8c60"/>
<circle cx="282.28" cy="231.49" r="0.45" fill="#be8c60"/>
<circle cx="281.75" cy="231.85" r="0.4" fill="#be8c60"/>
<circle cx="281.36" cy="229.89" r="0.45" fill="#c9a07a"/>
<circle cx="282.65" cy="226.58" r="0.4" fill="#a8734a"/>
<circle cx="282.22" cy="222.96" r="0.4" fill="#b0784a"/>
<circle cx="281.27" cy="223.87" r="0.55" fill="#c9a07a"/>
<circle cx="281.46" cy="225.50" r="0.4" fill="#be8c60"/>
<circle cx="281.21" cy="232.12" r="0.55" fill="#c9a07a"/>
<circle cx="279.37" cy="237.23" r="0.45" fill="#be8c60"/>
<circle cx="282.25" cy="233.95" r="0.4" fill="#be8c60"/>
<circle cx="282.25" cy="232.48" r="0.55" fill="#b0784a"/>
<circle cx="280.71" cy="237.24" r="0.4" fill="#b0784a"/>
<circle cx="281.93" cy="234.64" r="0.55" fill="#be8c60"/>
<circle cx="273.80" cy="243.82" r="0.55" fill="#a8734a"/>
<circle cx="274.54" cy="241.52" r="0.55" fill="#a8734a"/>
<circle cx="275.41" cy="242.56" r="0.55" fill="#b0784a"/>
<circle cx="275.42" cy="241.92" r="0.45" fill="#a8734a"/>
<circle cx="278.43" cy="241.48" r="0.4" fill="#b0784a"/>
<circle cx="270.04" cy="241.45" r="0.4" fill="#a8734a"/>
<circle cx="270.06" cy="242.98" r="0.55" fill="#b0784a"/>
<circle cx="271.15" cy="243.30" r="0.55" fill="#b0784a"/>
<circle cx="294.90" cy="201.54" r="0.55" fill="#c9a07a"/>
<circle cx="295.62" cy="199.82" r="0.55" fill="#c9a07a"/>
<circle cx="286.55" cy="203.91" r="0.45" fill="#c9a07a"/>
<circle cx="291.21" cy="202.07" r="0.45" fill="#be8c60"/>
<circle cx="294.97" cy="200.77" r="0.45" fill="#be8c60"/>
<circle cx="292.77" cy="203.16" r="0.45" fill="#a8734a"/>
<circle cx="290.42" cy="202.76" r="0.55" fill="#c9a07a"/>
<circle cx="297.18" cy="202.31" r="0.4" fill="#be8c60"/>
<circle cx="300.70" cy="200.55" r="0.4" fill="#b0784a"/>
<circle cx="302.51" cy="200.54" r="0.45" fill="#c9a07a"/>
<circle cx="308.93" cy="200.56" r="0.45" fill="#be8c60"/>
<circle cx="304.45" cy="201.31" r="0.4" fill="#a8734a"/>
<circle cx="297.76" cy="200.66" r="0.4" fill="#be8c60"/>
<circle cx="300.88" cy="201.27" r="0.4" fill="#c9a07a"/>
<circle cx="302.52" cy="201.22" r="0.45" fill="#be8c60"/>
<circle cx="314.78" cy="202.06" r="0.4" fill="#b0784a"/>
<circle cx="311.68" cy="203.13" r="0.45" fill="#b0784a"/>
<circle cx="308.84" cy="201.32" r="0.45" fill="#c9a07a"/>
<circle cx="309.10" cy="202.07" r="0.4" fill="#a8734a"/>
<circle cx="309.48" cy="200.65" r="0.4" fill="#be8c60"/>
<circle cx="314.52" cy="202.62" r="0.4" fill="#a8734a"/>
<circle cx="309.53" cy="201.96" r="0.4" fill="#c9a07a"/>
<circle cx="319.49" cy="209.83" r="0.4" fill="#c9a07a"/>
<circle cx="321.29" cy="210.36" r="0.4" fill="#be8c60"/>
<circle cx="318.70" cy="204.48" r="0.55" fill="#c9a07a"/>
<circle cx="320.02" cy="206.54" r="0.45" fill="#be8c60"/>
<circle cx="318.43" cy="206.46" r="0.4" fill="#b0784a"/>
<circle cx="319.76" cy="213.32" r="0.45" fill="#a8734a"/>
<circle cx="319.64" cy="214.64" r="0.45" fill="#c9a07a"/>
<circle cx="319.82" cy="213.24" r="0.55" fill="#a8734a"/>
<circle cx="320.82" cy="215.63" r="0.55" fill="#c9a07a"/>
<circle cx="321.69" cy="210.61" r="0.4" fill="#a8734a"/>
<circle cx="320.36" cy="217.70" r="0.4" fill="#a8734a"/>
<circle cx="319.41" cy="216.90" r="0.4" fill="#a8734a"/>
<circle cx="319.24" cy="218.86" r="0.55" fill="#b0784a"/>
<circle cx="314.36" cy="230.88" r="0.55" fill="#a8734a"/>
<circle cx="318.98" cy="222.23" r="0.55" fill="#b0784a"/>
<circle cx="316.03" cy="227.25" r="0.55" fill="#c9a07a"/>
<circle cx="319.57" cy="223.70" r="0.45" fill="#a8734a"/>
<circle cx="314.29" cy="229.57" r="0.45" fill="#a8734a"/>
<circle cx="317.76" cy="227.55" r="0.55" fill="#b0784a"/>
<circle cx="315.13" cy="230.52" r="0.4" fill="#a8734a"/>
<circle cx="310.11" cy="235.03" r="0.4" fill="#c9a07a"/>
<circle cx="311.37" cy="234.08" r="0.4" fill="#be8c60"/>
<circle cx="313.06" cy="231.43" r="0.45" fill="#c9a07a"/>
<circle cx="313.26" cy="231.71" r="0.4" fill="#a8734a"/>
<circle cx="312.32" cy="234.48" r="0.55" fill="#be8c60"/>
<circle cx="309.29" cy="236.32" r="0.4" fill="#a8734a"/>
<circle cx="306.97" cy="239.68" r="0.4" fill="#c9a07a"/>
<circle cx="304.01" cy="242.03" r="0.4" fill="#c9a07a"/>
<circle cx="307.02" cy="238.96" r="0.45" fill="#b0784a"/>
<circle cx="304.48" cy="242.00" r="0.45" fill="#c9a07a"/>
<circle cx="305.38" cy="241.10" r="0.45" fill="#b0784a"/>
<circle cx="304.06" cy="240.63" r="0.45" fill="#b0784a"/>
<circle cx="299.15" cy="248.10" r="0.4" fill="#be8c60"/>
<circle cx="301.06" cy="246.58" r="0.55" fill="#a8734a"/>
<circle cx="298.52" cy="249.55" r="0.4" fill="#a8734a"/>
<circle cx="303.19" cy="243.45" r="0.4" fill="#b0784a"/>
<circle cx="297.46" cy="251.84" r="0.45" fill="#a8734a"/>
<circle cx="299.72" cy="247.81" r="0.4" fill="#a8734a"/>
<circle cx="300.89" cy="246.83" r="0.55" fill="#be8c60"/>
<circle cx="294.56" cy="254.38" r="0.45" fill="#be8c60"/>
<circle cx="293.97" cy="255.78" r="0.45" fill="#c9a07a"/>
<circle cx="295.90" cy="251.59" r="0.55" fill="#a8734a"/>
<circle cx="297.23" cy="252.75" r="0.4" fill="#be8c60"/>
<circle cx="297.19" cy="250.60" r="0.55" fill="#b0784a"/>
<circle cx="297.33" cy="252.51" r="0.4" fill="#b0784a"/>
<circle cx="291.00" cy="257.72" r="0.4" fill="#be8c60"/>
<circle cx="290.61" cy="257.12" r="0.45" fill="#b0784a"/>
<circle cx="290.66" cy="259.65" r="0.55" fill="#a8734a"/>
<circle cx="286.98" cy="262.28" r="0.4" fill="#c9a07a"/>
<circle cx="287.92" cy="260.59" r="0.55" fill="#b0784a"/>
<circle cx="287.11" cy="261.34" r="0.45" fill="#be8c60"/>
<circle cx="258.90" cy="216.49" r="0.45" fill="#c9a07a"/>
<circle cx="259.74" cy="221.76" r="0.55" fill="#b0784a"/>
<circle cx="260.30" cy="217.59" r="0.55" fill="#be8c60"/>
<circle cx="258.98" cy="216.19" r="0.55" fill="#c9a07a"/>
<circle cx="259.14" cy="223.18" r="0.45" fill="#b0784a"/>
<circle cx="259.70" cy="219.98" r="0.45" fill="#be8c60"/>
<circle cx="259.12" cy="214.39" r="0.45" fill="#be8c60"/>
<circle cx="257.96" cy="231.09" r="0.4" fill="#b0784a"/>
<circle cx="259.22" cy="226.76" r="0.4" fill="#be8c60"/>
<circle cx="260.10" cy="231.27" r="0.45" fill="#c9a07a"/>
<circle cx="260.55" cy="226.33" r="0.4" fill="#a8734a"/>
<circle cx="259.18" cy="229.17" r="0.55" fill="#be8c60"/>
<circle cx="260.50" cy="226.81" r="0.55" fill="#b0784a"/>
<circle cx="258.32" cy="233.35" r="0.45" fill="#c9a07a"/>
<circle cx="255.38" cy="239.26" r="0.4" fill="#a8734a"/>
<circle cx="253.54" cy="240.52" r="0.55" fill="#be8c60"/>
<circle cx="255.74" cy="239.47" r="0.45" fill="#be8c60"/>
<circle cx="256.76" cy="236.65" r="0.4" fill="#c9a07a"/>
<circle cx="257.89" cy="236.49" r="0.55" fill="#c9a07a"/>
<circle cx="259.01" cy="234.27" r="0.4" fill="#c9a07a"/>
<circle cx="253.57" cy="239.79" r="0.45" fill="#b0784a"/>
<circle cx="253.73" cy="241.72" r="0.55" fill="#a8734a"/>
<circle cx="252.88" cy="243.84" r="0.4" fill="#a8734a"/>
<circle cx="253.73" cy="243.57" r="0.45" fill="#c9a07a"/>
<circle cx="252.34" cy="245.51" r="0.45" fill="#be8c60"/>
<circle cx="253.31" cy="244.56" r="0.4" fill="#be8c60"/>
<circle cx="332.13" cy="209.88" r="0.4" fill="#a8734a"/>
<circle cx="327.00" cy="204.58" r="0.55" fill="#b0784a"/>
<circle cx="325.16" cy="203.69" r="0.55" fill="#be8c60"/>
<circle cx="333.74" cy="209.70" r="0.4" fill="#be8c60"/>
<circle cx="327.78" cy="204.02" r="0.45" fill="#a8734a"/>
<circle cx="327.48" cy="205.96" r="0.45" fill="#b0784a"/>
<circle cx="327.52" cy="204.97" r="0.45" fill="#be8c60"/>
<circle cx="339.68" cy="219.67" r="0.45" fill="#c9a07a"/>
<circle cx="339.85" cy="215.47" r="0.55" fill="#c9a07a"/>
<circle cx="341.50" cy="219.43" r="0.4" fill="#c9a07a"/>
<circle cx="341.12" cy="218.57" r="0.4" fill="#b0784a"/>
<circle cx="337.76" cy="215.86" r="0.4" fill="#b0784a"/>
<circle cx="337.23" cy="216.64" r="0.45" fill="#b0784a"/>
<circle cx="337.58" cy="215.35" r="0.45" fill="#c9a07a"/>
<circle cx="344.95" cy="221.15" r="0.55" fill="#be8c60"/>
<circle cx="344.70" cy="219.22" r="0.45" fill="#a8734a"/>
<circle cx="346.84" cy="221.08" r="0.55" fill="#b0784a"/>
<circle cx="344.35" cy="221.39" r="0.55" fill="#be8c60"/>
<circle cx="349.35" cy="222.89" r="0.55" fill="#be8c60"/>
<circle cx="347.11" cy="222.48" r="0.55" fill="#a8734a"/>
<circle cx="344.03" cy="220.11" r="0.45" fill="#be8c60"/>
<circle cx="347.95" cy="221.14" r="0.55" fill="#be8c60"/>
<circle cx="357.01" cy="227.68" r="0.4" fill="#be8c60"/>
<circle cx="352.88" cy="224.19" r="0.55" fill="#a8734a"/>
<circle cx="351.59" cy="225.20" r="0.55" fill="#b0784a"/>
<circle cx="356.25" cy="225.24" r="0.55" fill="#be8c60"/>
<circle cx="355.13" cy="225.92" r="0.55" fill="#be8c60"/>
<circle cx="325.84" cy="231.00" r="0.55" fill="#c9a07a"/>
<circle cx="325.20" cy="225.91" r="0.4" fill="#a8734a"/>
<circle cx="325.70" cy="233.97" r="0.55" fill="#a8734a"/>
<circle cx="326.15" cy="233.53" r="0.45" fill="#a8734a"/>
<circle cx="326.22" cy="228.22" r="0.45" fill="#a8734a"/>
<circle cx="324.54" cy="227.01" r="0.4" fill="#a8734a"/>
<circle cx="326.52" cy="229.55" r="0.4" fill="#b0784a"/>
<circle cx="325.01" cy="235.98" r="0.55" fill="#be8c60"/>
<circle cx="324.46" cy="237.45" r="0.55" fill="#b0784a"/>
<circle cx="324.71" cy="234.09" r="0.55" fill="#be8c60"/>
<circle cx="324.87" cy="235.77" r="0.45" fill="#b0784a"/>
<circle cx="320.27" cy="244.05" r="0.45" fill="#c9a07a"/>
<circle cx="325.87" cy="234.68" r="0.4" fill="#be8c60"/>
<circle cx="323.57" cy="238.72" r="0.45" fill="#b0784a"/>
<circle cx="325.10" cy="234.84" r="0.55" fill="#c9a07a"/>
<circle cx="317.06" cy="248.70" r="0.55" fill="#c9a07a"/>
<circle cx="321.41" cy="244.61" r="0.55" fill="#a8734a"/>
<circle cx="320.35" cy="243.40" r="0.4" fill="#c9a07a"/>
<circle cx="319.45" cy="247.20" r="0.45" fill="#b0784a"/>
<circle cx="319.35" cy="245.48" r="0.55" fill="#a8734a"/>
<circle cx="319.28" cy="245.34" r="0.55" fill="#c9a07a"/>
<circle cx="320.94" cy="245.66" r="0.45" fill="#c9a07a"/>
<circle cx="315.59" cy="259.60" r="0.4" fill="#a8734a"/>
<circle cx="316.21" cy="254.96" r="0.45" fill="#c9a07a"/>
<circle cx="316.38" cy="252.75" r="0.4" fill="#b0784a"/>
<circle cx="315.70" cy="258.74" r="0.45" fill="#a8734a"/>
<circle cx="315.54" cy="253.55" r="0.4" fill="#be8c60"/>
<circle cx="316.25" cy="255.14" r="0.55" fill="#c9a07a"/>
<circle cx="317.33" cy="263.08" r="0.45" fill="#b0784a"/>
<circle cx="318.04" cy="264.65" r="0.55" fill="#c9a07a"/>
<circle cx="318.10" cy="266.83" r="0.4" fill="#c9a07a"/>
<circle cx="316.43" cy="265.56" r="0.4" fill="#be8c60"/>
<circle cx="315.89" cy="263.43" r="0.45" fill="#be8c60"/>
<circle cx="324.36" cy="263.75" r="0.4" fill="#a8734a"/>
<circle cx="327.01" cy="262.14" r="0.4" fill="#c9a07a"/>
<circle cx="325.41" cy="262.47" r="0.45" fill="#a8734a"/>
<circle cx="318.09" cy="265.16" r="0.45" fill="#c9a07a"/>
<circle cx="321.34" cy="265.60" r="0.4" fill="#a8734a"/>
<circle cx="326.22" cy="262.89" r="0.45" fill="#a8734a"/>
<circle cx="318.46" cy="266.63" r="0.4" fill="#b0784a"/>
<circle cx="334.40" cy="260.68" r="0.55" fill="#be8c60"/>
<circle cx="335.21" cy="260.98" r="0.55" fill="#b0784a"/>
<circle cx="333.73" cy="261.49" r="0.45" fill="#b0784a"/>
<circle cx="331.89" cy="262.90" r="0.4" fill="#a8734a"/>
<circle cx="328.54" cy="262.44" r="0.55" fill="#c9a07a"/>
<circle cx="334.55" cy="261.37" r="0.45" fill="#a8734a"/>
<circle cx="275.25" cy="265.27" r="0.4" fill="#be8c60"/>
<circle cx="274.23" cy="264.88" r="0.55" fill="#be8c60"/>
<circle cx="269.91" cy="264.78" r="0.4" fill="#be8c60"/>
<circle cx="269.27" cy="264.51" r="0.45" fill="#a8734a"/>
<circle cx="271.21" cy="265.97" r="0.55" fill="#be8c60"/>
<circle cx="276.62" cy="266.82" r="0.4" fill="#a8734a"/>
<circle cx="278.20" cy="267.44" r="0.45" fill="#be8c60"/>
<circle cx="281.62" cy="268.48" r="0.4" fill="#b0784a"/>
<circle cx="282.19" cy="268.13" r="0.55" fill="#c9a07a"/>
<circle cx="280.54" cy="269.16" r="0.55" fill="#c9a07a"/>
<circle cx="280.69" cy="267.43" r="0.55" fill="#b0784a"/>
<circle cx="278.65" cy="267.95" r="0.55" fill="#c9a07a"/>
<circle cx="279.21" cy="266.80" r="0.4" fill="#a8734a"/>
<circle cx="286.52" cy="270.66" r="0.4" fill="#a8734a"/>
<circle cx="287.70" cy="269.58" r="0.4" fill="#c9a07a"/>
<circle cx="288.08" cy="269.21" r="0.55" fill="#be8c60"/>
<circle cx="292.11" cy="268.38" r="0.45" fill="#b0784a"/>
<circle cx="286.42" cy="270.74" r="0.45" fill="#a8734a"/>
<circle cx="301.07" cy="215.75" r="0.45" fill="#b0784a"/>
<circle cx="298.27" cy="212.61" r="0.4" fill="#b0784a"/>
<circle cx="300.37" cy="218.59" r="0.45" fill="#b0784a"/>
<circle cx="299.27" cy="211.83" r="0.45" fill="#b0784a"/>
<circle cx="301.48" cy="218.65" r="0.55" fill="#b0784a"/>
<circle cx="297.55" cy="211.12" r="0.45" fill="#b0784a"/>
<circle cx="301.71" cy="219.15" r="0.4" fill="#b0784a"/>
<circle cx="300.07" cy="223.82" r="0.55" fill="#c9a07a"/>
<circle cx="298.91" cy="222.85" r="0.45" fill="#be8c60"/>
<circle cx="301.27" cy="219.94" r="0.4" fill="#a8734a"/>
<circle cx="300.21" cy="221.74" r="0.55" fill="#b0784a"/>
<circle cx="300.17" cy="222.71" r="0.4" fill="#a8734a"/>
<circle cx="293.15" cy="229.11" r="0.55" fill="#b0784a"/>
<circle cx="296.39" cy="227.32" r="0.45" fill="#c9a07a"/>
<circle cx="292.03" cy="230.09" r="0.55" fill="#a8734a"/>
<circle cx="295.88" cy="229.03" r="0.55" fill="#b0784a"/>
<circle cx="295.99" cy="228.44" r="0.4" fill="#a8734a"/>
<circle cx="338.63" cy="229.74" r="0.45" fill="#b0784a"/>
<circle cx="340.80" cy="236.13" r="0.45" fill="#a8734a"/>
<circle cx="337.57" cy="230.03" r="0.4" fill="#be8c60"/>
<circle cx="337.14" cy="230.90" r="0.55" fill="#c9a07a"/>
<circle cx="338.52" cy="233.56" r="0.4" fill="#be8c60"/>
<circle cx="341.65" cy="235.54" r="0.4" fill="#a8734a"/>
<circle cx="346.23" cy="236.28" r="0.4" fill="#be8c60"/>
<circle cx="343.33" cy="235.98" r="0.45" fill="#be8c60"/>
<circle cx="342.83" cy="235.37" r="0.45" fill="#be8c60"/>
<circle cx="343.32" cy="236.29" r="0.45" fill="#a8734a"/>
<circle cx="348.82" cy="234.44" r="0.55" fill="#be8c60"/>
<circle cx="353.71" cy="233.29" r="0.4" fill="#b0784a"/>
<circle cx="353.38" cy="231.54" r="0.45" fill="#b0784a"/>
<circle cx="354.39" cy="232.70" r="0.45" fill="#b0784a"/>
<circle cx="348.29" cy="234.45" r="0.4" fill="#b0784a"/>
<circle cx="263.11" cy="244.98" r="0.4" fill="#c9a07a"/>
<circle cx="264.62" cy="247.74" r="0.55" fill="#b0784a"/>
<circle cx="264.28" cy="249.76" r="0.45" fill="#b0784a"/>
<circle cx="263.47" cy="246.58" r="0.45" fill="#be8c60"/>
<circle cx="264.63" cy="247.06" r="0.55" fill="#c9a07a"/>
<circle cx="268.53" cy="254.42" r="0.45" fill="#be8c60"/>
<circle cx="268.92" cy="253.62" r="0.4" fill="#a8734a"/>
<circle cx="267.67" cy="251.72" r="0.55" fill="#c9a07a"/>
<circle cx="270.36" cy="253.30" r="0.4" fill="#c9a07a"/>
<circle cx="267.09" cy="251.59" r="0.4" fill="#a8734a"/>
</g>
<g clip-path="url(#clip1)">
<rect x="358.30" y="194.30" width="107.40" height="80.00" fill="#a9c3dc" stroke="none" stroke-width="1" filter="url(#texBlue)"/>
<path d="M428.8 203.8 L437.0 202.2 L443.5 205.5 L450.1 212.0 L459.9 210.4 L468.3 208.8 L468.3 235.0 L461.6 231.7 L453.4 226.8 L446.8 221.9 L437.0 220.2 L430.4 213.7 Z" fill="#f2f1ec" stroke="#a7885f" stroke-width="1.6" filter="url(#blur04)"/>
<g filter="url(#blur04)">
<path d="M373.2 247.4 Q374.4 247.7 375.3 248.8 Q376.1 249.8 375.9 251.3 Q375.7 252.8 374.3 253.4 Q373.0 254.0 371.7 254.2 Q370.4 254.3 369.6 253.4 Q368.8 252.5 368.2 251.3 Q367.6 250.0 368.4 248.8 Q369.3 247.5 370.6 247.3 Q372.0 247.1 373.2 247.4 Z" fill="#a87442" stroke="none" stroke-width="1"/>
<path d="M384.4 244.2 Q385.5 245.2 384.9 246.6 Q384.2 247.9 383.0 248.6 Q381.8 249.2 380.3 249.4 Q378.8 249.6 378.0 248.4 Q377.1 247.3 377.0 246.0 Q376.9 244.7 377.7 243.6 Q378.4 242.4 379.8 242.0 Q381.2 241.5 382.3 242.4 Q383.3 243.2 384.4 244.2 Z" fill="#99652f" stroke="none" stroke-width="1"/>
<path d="M381.1 256.3 Q382.6 256.5 383.0 258.0 Q383.3 259.5 382.8 261.0 Q382.3 262.5 381.1 263.5 Q379.8 264.5 378.5 264.6 Q377.1 264.6 375.7 264.2 Q374.3 263.8 374.5 262.1 Q374.7 260.4 375.7 259.1 Q376.7 257.7 378.1 256.9 Q379.6 256.2 381.1 256.3 Z" fill="#99652f" stroke="none" stroke-width="1"/>
<path d="M390.2 229.2 Q389.7 230.0 388.8 230.4 Q388.0 230.8 386.8 229.9 Q385.7 229.0 384.8 227.9 Q384.0 226.8 383.6 225.5 Q383.3 224.2 384.2 224.0 Q385.2 223.7 386.2 223.6 Q387.2 223.5 388.2 224.7 Q389.2 225.9 389.9 227.1 Q390.7 228.4 390.2 229.2 Z" fill="#a87442" stroke="none" stroke-width="1"/>
<path d="M387.9 269.6 Q389.0 269.7 389.6 270.8 Q390.1 271.8 389.6 273.3 Q389.2 274.9 388.0 276.2 Q386.8 277.5 385.4 277.8 Q384.0 278.2 383.0 277.5 Q382.1 276.9 382.4 275.4 Q382.7 273.9 383.3 272.4 Q384.0 270.9 385.4 270.2 Q386.7 269.5 387.9 269.6 Z" fill="#99652f" stroke="none" stroke-width="1"/>
<path d="M433.8 265.8 Q434.2 267.5 433.1 268.8 Q432.1 270.1 430.2 270.8 Q428.4 271.5 426.1 271.0 Q423.8 270.5 422.6 268.8 Q421.4 267.1 422.3 265.6 Q423.1 264.0 424.3 262.8 Q425.6 261.5 427.7 261.9 Q429.8 262.4 431.5 263.3 Q433.3 264.2 433.8 265.8 Z" fill="#a06a38" stroke="none" stroke-width="1"/>
<path d="M461.9 231.1 Q462.7 231.3 463.1 232.1 Q463.5 232.8 462.7 233.9 Q461.9 234.9 460.8 235.6 Q459.6 236.3 458.6 236.2 Q457.6 236.1 456.9 235.6 Q456.3 235.0 456.7 233.9 Q457.1 232.9 458.0 231.9 Q459.0 230.9 460.1 230.8 Q461.2 230.8 461.9 231.1 Z" fill="#a87442" stroke="none" stroke-width="1"/>
<path d="M436.7 254.4 Q436.5 256.1 434.8 255.9 Q433.2 255.8 431.4 254.9 Q429.5 254.1 428.5 252.0 Q427.4 249.9 427.5 248.1 Q427.5 246.2 428.6 245.1 Q429.7 244.0 431.6 244.8 Q433.5 245.5 434.8 247.3 Q436.2 249.1 436.5 250.8 Q436.9 252.6 436.7 254.4 Z" fill="#a06a38" stroke="none" stroke-width="1"/>
<path d="M385.8 205.0 Q386.8 206.7 385.6 208.3 Q384.4 209.9 382.4 211.0 Q380.5 212.1 378.3 211.3 Q376.1 210.4 374.0 209.2 Q372.0 208.0 372.3 205.9 Q372.6 203.9 374.4 202.5 Q376.1 201.1 378.5 201.4 Q380.9 201.7 382.9 202.5 Q384.8 203.3 385.8 205.0 Z" fill="#b0804f" stroke="none" stroke-width="1"/>
<path d="M389.0 192.4 Q390.0 193.4 390.2 194.9 Q390.4 196.4 388.5 197.5 Q386.7 198.6 384.7 199.0 Q382.8 199.5 381.0 199.0 Q379.2 198.6 379.0 197.2 Q378.7 195.8 379.5 194.3 Q380.3 192.8 382.3 192.0 Q384.2 191.2 386.1 191.3 Q387.9 191.4 389.0 192.4 Z" fill="#99652f" stroke="none" stroke-width="1"/>
<path d="M402.4 263.2 Q401.8 264.3 400.7 264.6 Q399.5 264.9 398.1 264.5 Q396.7 264.1 396.1 262.7 Q395.4 261.4 395.6 260.3 Q395.7 259.2 396.3 258.4 Q396.9 257.6 398.1 257.8 Q399.3 258.1 400.6 258.6 Q402.0 259.2 402.4 260.7 Q402.9 262.1 402.4 263.2 Z" fill="#a87442" stroke="none" stroke-width="1"/>
<path d="M397.9 206.6 Q398.4 207.4 398.0 208.3 Q397.5 209.2 396.7 209.9 Q396.0 210.7 395.0 210.4 Q394.0 210.1 393.3 209.6 Q392.6 209.1 392.5 208.3 Q392.4 207.5 392.8 206.7 Q393.3 206.0 394.2 205.7 Q395.2 205.5 396.3 205.6 Q397.3 205.7 397.9 206.6 Z" fill="#b0804f" stroke="none" stroke-width="1"/>
<path d="M409.9 227.6 Q410.6 228.6 409.9 229.5 Q409.2 230.5 407.8 230.6 Q406.4 230.8 405.1 230.3 Q403.8 229.9 403.0 229.0 Q402.1 228.1 402.4 227.1 Q402.7 226.0 403.8 225.6 Q404.8 225.1 406.2 224.9 Q407.5 224.7 408.4 225.6 Q409.3 226.5 409.9 227.6 Z" fill="#a87442" stroke="none" stroke-width="1"/>
<path d="M371.1 202.1 Q371.6 203.0 371.1 203.8 Q370.6 204.7 369.3 205.0 Q368.0 205.3 366.6 205.2 Q365.1 205.2 364.0 204.4 Q362.9 203.7 363.3 202.7 Q363.8 201.8 364.4 200.9 Q365.1 200.0 366.8 199.9 Q368.5 199.8 369.6 200.5 Q370.7 201.3 371.1 202.1 Z" fill="#b0804f" stroke="none" stroke-width="1"/>
<path d="M415.9 253.6 Q414.8 254.5 413.5 254.8 Q412.2 255.1 411.0 254.4 Q409.7 253.7 409.1 252.3 Q408.4 250.9 408.5 249.3 Q408.6 247.7 410.0 247.2 Q411.4 246.6 412.7 247.1 Q414.1 247.5 415.4 248.4 Q416.7 249.3 416.9 251.0 Q417.0 252.7 415.9 253.6 Z" fill="#99652f" stroke="none" stroke-width="1"/>
<path d="M376.3 225.0 Q376.3 225.7 376.1 226.3 Q375.9 227.0 374.7 227.0 Q373.6 227.0 372.4 226.9 Q371.2 226.9 370.8 226.1 Q370.4 225.4 370.5 224.8 Q370.7 224.2 371.4 223.7 Q372.0 223.3 373.1 223.3 Q374.2 223.4 375.2 223.8 Q376.3 224.3 376.3 225.0 Z" fill="#a06a38" stroke="none" stroke-width="1"/>
<path d="M468.6 234.6 Q470.4 236.1 470.8 238.2 Q471.2 240.4 470.6 242.7 Q469.9 245.1 467.6 246.0 Q465.2 246.9 463.0 246.6 Q460.9 246.4 459.0 245.0 Q457.1 243.6 457.6 241.1 Q458.2 238.6 460.0 236.9 Q461.8 235.2 464.3 234.2 Q466.7 233.2 468.6 234.6 Z" fill="#99652f" stroke="none" stroke-width="1"/>
<path d="M373.7 240.9 Q374.5 242.7 374.2 244.8 Q373.9 246.9 371.3 247.7 Q368.6 248.5 366.0 248.2 Q363.4 247.9 361.7 246.3 Q360.0 244.8 359.8 242.7 Q359.7 240.7 361.6 239.3 Q363.5 237.9 366.1 237.3 Q368.6 236.7 370.7 237.9 Q372.9 239.1 373.7 240.9 Z" fill="#a06a38" stroke="none" stroke-width="1"/>
<path d="M410.5 253.4 Q410.4 254.7 409.1 255.2 Q407.9 255.6 406.4 255.5 Q404.9 255.3 403.7 254.5 Q402.4 253.6 401.9 252.5 Q401.3 251.4 401.4 250.2 Q401.4 249.0 403.0 249.0 Q404.6 249.1 406.2 249.3 Q407.9 249.6 409.3 250.9 Q410.7 252.1 410.5 253.4 Z" fill="#a06a38" stroke="none" stroke-width="1"/>
<path d="M366.4 220.7 Q367.2 222.5 366.5 224.2 Q365.8 225.9 364.2 227.1 Q362.6 228.4 360.4 228.4 Q358.2 228.4 356.7 227.2 Q355.2 225.9 355.3 224.3 Q355.3 222.6 356.4 221.3 Q357.5 220.0 359.3 219.3 Q361.1 218.5 363.4 218.7 Q365.7 218.9 366.4 220.7 Z" fill="#a06a38" stroke="none" stroke-width="1"/>
<path d="M441.3 232.0 Q442.3 232.5 442.3 233.6 Q442.4 234.6 442.2 235.8 Q442.0 236.9 440.8 237.1 Q439.7 237.4 438.5 237.4 Q437.4 237.5 436.7 236.5 Q436.0 235.6 436.2 234.4 Q436.4 233.2 437.2 232.3 Q438.0 231.3 439.1 231.4 Q440.3 231.5 441.3 232.0 Z" fill="#99652f" stroke="none" stroke-width="1"/>
<path d="M439.3 242.3 Q440.6 242.1 440.9 243.3 Q441.3 244.6 441.4 245.9 Q441.5 247.2 440.6 248.4 Q439.7 249.6 438.5 249.6 Q437.3 249.6 436.3 249.2 Q435.4 248.7 435.0 247.6 Q434.6 246.4 435.2 245.1 Q435.8 243.8 436.9 243.1 Q438.0 242.4 439.3 242.3 Z" fill="#a06a38" stroke="none" stroke-width="1"/>
<path d="M442.6 272.1 Q441.2 273.5 439.4 274.1 Q437.5 274.8 435.6 273.8 Q433.6 272.7 432.9 270.6 Q432.2 268.5 433.1 266.8 Q433.9 265.1 435.4 264.3 Q436.9 263.6 438.8 263.3 Q440.7 263.1 442.1 264.7 Q443.4 266.4 443.7 268.5 Q443.9 270.6 442.6 272.1 Z" fill="#a87442" stroke="none" stroke-width="1"/>
<path d="M420.0 270.8 Q420.7 271.4 420.5 272.4 Q420.3 273.3 419.5 274.3 Q418.7 275.3 417.3 275.2 Q415.9 275.1 414.7 274.8 Q413.4 274.5 413.2 273.5 Q413.0 272.5 413.8 271.6 Q414.6 270.7 415.8 270.3 Q417.0 269.9 418.2 270.0 Q419.3 270.1 420.0 270.8 Z" fill="#a87442" stroke="none" stroke-width="1"/>
<path d="M394.2 256.6 Q396.5 257.2 397.0 259.6 Q397.5 261.9 396.2 264.1 Q394.9 266.4 392.7 267.7 Q390.5 269.1 387.8 268.9 Q385.1 268.8 384.3 266.5 Q383.5 264.2 383.8 262.0 Q384.2 259.8 385.6 257.7 Q387.1 255.6 389.5 255.8 Q391.9 256.0 394.2 256.6 Z" fill="#b0804f" stroke="none" stroke-width="1"/>
<path d="M451.8 251.2 Q451.3 252.3 450.2 252.4 Q449.0 252.5 447.8 252.1 Q446.6 251.7 445.5 250.4 Q444.5 249.2 444.8 247.8 Q445.2 246.4 446.3 245.9 Q447.4 245.3 448.6 245.6 Q449.8 245.9 450.8 246.8 Q451.8 247.6 452.0 248.9 Q452.2 250.1 451.8 251.2 Z" fill="#b0804f" stroke="none" stroke-width="1"/>
<path d="M418.1 258.5 Q419.1 259.3 419.2 260.5 Q419.3 261.7 418.5 263.1 Q417.8 264.5 416.1 264.9 Q414.5 265.3 413.2 264.8 Q411.9 264.4 410.9 263.4 Q409.8 262.5 410.7 261.1 Q411.6 259.7 412.9 258.9 Q414.2 258.1 415.7 257.9 Q417.1 257.8 418.1 258.5 Z" fill="#b0804f" stroke="none" stroke-width="1"/>
<path d="M390.9 218.6 Q390.3 219.5 389.5 220.2 Q388.7 220.9 387.6 220.6 Q386.5 220.3 385.5 219.6 Q384.5 218.8 384.2 217.6 Q384.0 216.4 385.0 215.8 Q386.0 215.2 386.9 214.8 Q387.9 214.5 388.9 215.0 Q390.0 215.6 390.7 216.6 Q391.4 217.6 390.9 218.6 Z" fill="#b0804f" stroke="none" stroke-width="1"/>
<path d="M445.8 250.8 Q446.7 252.1 447.2 253.4 Q447.8 254.8 446.9 256.1 Q446.0 257.4 444.5 257.6 Q443.1 257.9 441.7 257.7 Q440.3 257.4 439.5 256.2 Q438.7 255.0 439.0 253.5 Q439.3 252.0 440.6 251.2 Q441.9 250.4 443.4 250.0 Q445.0 249.6 445.8 250.8 Z" fill="#a87442" stroke="none" stroke-width="1"/>
<path d="M406.0 248.2 Q405.1 250.1 403.5 251.1 Q402.0 252.2 399.9 252.1 Q397.8 252.0 395.7 250.7 Q393.5 249.4 393.1 247.0 Q392.6 244.6 393.9 242.7 Q395.3 240.8 397.6 240.3 Q400.0 239.9 401.9 241.4 Q403.7 242.9 405.3 244.6 Q406.8 246.3 406.0 248.2 Z" fill="#a06a38" stroke="none" stroke-width="1"/>
<path d="M449.4 204.4 Q449.2 206.8 448.3 208.8 Q447.4 210.9 444.9 211.2 Q442.5 211.4 440.2 210.7 Q437.8 210.1 436.5 208.0 Q435.2 205.9 436.0 203.7 Q436.7 201.5 438.5 199.8 Q440.3 198.1 443.2 198.0 Q446.0 198.0 447.8 200.0 Q449.6 202.1 449.4 204.4 Z" fill="#a06a38" stroke="none" stroke-width="1"/>
<path d="M412.6 267.1 Q411.9 268.3 410.7 269.0 Q409.4 269.6 407.5 268.5 Q405.7 267.4 404.6 265.5 Q403.6 263.7 403.0 261.8 Q402.5 259.9 403.6 258.8 Q404.7 257.7 406.6 258.6 Q408.5 259.4 409.8 260.8 Q411.2 262.2 412.3 264.0 Q413.3 265.8 412.6 267.1 Z" fill="#99652f" stroke="none" stroke-width="1"/>
<path d="M367.5 270.5 Q366.7 271.8 365.4 272.7 Q364.1 273.6 362.3 272.5 Q360.4 271.5 358.8 270.1 Q357.1 268.6 357.4 267.0 Q357.8 265.3 358.7 264.4 Q359.6 263.4 361.2 263.1 Q362.8 262.8 364.4 264.2 Q365.9 265.6 367.1 267.4 Q368.3 269.2 367.5 270.5 Z" fill="#a87442" stroke="none" stroke-width="1"/>
<path d="M418.3 204.2 Q417.9 205.3 417.2 206.2 Q416.5 207.1 414.9 207.1 Q413.3 207.1 412.2 206.0 Q411.0 204.9 410.3 203.7 Q409.6 202.5 410.3 201.6 Q411.0 200.7 412.3 200.5 Q413.5 200.2 414.9 200.5 Q416.4 200.8 417.5 201.9 Q418.6 203.1 418.3 204.2 Z" fill="#99652f" stroke="none" stroke-width="1"/>
<path d="M372.5 208.9 Q373.6 210.0 373.7 211.5 Q373.7 213.0 372.5 214.1 Q371.3 215.2 369.9 215.6 Q368.4 216.0 366.8 215.9 Q365.1 215.7 364.9 214.2 Q364.7 212.6 364.6 211.0 Q364.5 209.3 366.2 208.4 Q367.9 207.5 369.7 207.6 Q371.4 207.7 372.5 208.9 Z" fill="#b0804f" stroke="none" stroke-width="1"/>
<path d="M450.9 236.0 Q452.1 237.1 452.4 238.9 Q452.7 240.6 451.3 242.2 Q449.9 243.8 447.8 244.0 Q445.7 244.3 443.9 243.5 Q442.1 242.8 441.7 241.1 Q441.2 239.4 441.9 237.7 Q442.7 236.0 444.4 234.9 Q446.1 233.8 447.8 234.3 Q449.6 234.9 450.9 236.0 Z" fill="#99652f" stroke="none" stroke-width="1"/>
<path d="M415.7 243.5 Q414.5 245.5 412.3 246.0 Q410.0 246.5 407.7 245.4 Q405.4 244.3 404.8 242.0 Q404.1 239.7 404.0 237.5 Q404.0 235.3 405.7 234.2 Q407.4 233.1 409.6 233.2 Q411.7 233.3 413.9 234.7 Q416.2 236.2 416.5 238.8 Q416.8 241.4 415.7 243.5 Z" fill="#b0804f" stroke="none" stroke-width="1"/>
<path d="M461.7 268.8 Q461.3 271.0 460.1 272.8 Q458.8 274.6 456.1 274.7 Q453.3 274.8 451.6 272.9 Q449.8 271.0 448.5 269.1 Q447.2 267.2 448.4 265.6 Q449.5 264.0 451.3 262.5 Q453.0 261.1 455.8 261.8 Q458.5 262.6 460.3 264.6 Q462.0 266.7 461.7 268.8 Z" fill="#b0804f" stroke="none" stroke-width="1"/>
<path d="M415.4 271.3 Q416.1 272.3 415.3 273.2 Q414.4 274.1 413.4 274.6 Q412.4 275.2 411.2 274.9 Q410.0 274.6 409.3 273.8 Q408.5 272.9 408.5 271.8 Q408.6 270.6 409.4 269.8 Q410.3 268.9 411.6 268.9 Q412.9 268.8 413.8 269.5 Q414.8 270.2 415.4 271.3 Z" fill="#a87442" stroke="none" stroke-width="1"/>
<path d="M388.7 238.6 Q388.2 240.5 386.4 241.2 Q384.5 242.0 382.2 242.0 Q379.9 242.0 378.1 240.1 Q376.3 238.2 375.7 236.3 Q375.0 234.3 376.0 232.9 Q377.0 231.6 379.0 231.5 Q381.0 231.4 383.2 232.2 Q385.4 232.9 387.3 234.7 Q389.3 236.6 388.7 238.6 Z" fill="#b0804f" stroke="none" stroke-width="1"/>
<path d="M422.9 206.5 Q422.3 207.0 421.5 207.0 Q420.8 207.1 419.9 206.8 Q418.9 206.4 418.4 205.3 Q417.9 204.2 418.0 203.2 Q418.1 202.3 418.8 201.9 Q419.5 201.6 420.4 201.7 Q421.3 201.9 422.0 202.8 Q422.6 203.8 423.1 204.9 Q423.6 206.0 422.9 206.5 Z" fill="#99652f" stroke="none" stroke-width="1"/>
<path d="M428.0 251.8 Q426.7 253.0 425.0 252.8 Q423.3 252.7 421.3 251.7 Q419.3 250.7 418.4 248.2 Q417.5 245.7 417.6 243.5 Q417.6 241.4 419.1 240.8 Q420.6 240.2 422.6 240.4 Q424.5 240.6 425.9 243.1 Q427.3 245.5 428.2 248.1 Q429.2 250.6 428.0 251.8 Z" fill="#b0804f" stroke="none" stroke-width="1"/>
<path d="M400.6 220.3 Q401.4 220.9 401.3 221.9 Q401.2 223.0 399.9 223.5 Q398.6 224.0 397.5 224.2 Q396.4 224.4 395.1 224.2 Q393.8 224.1 393.7 223.1 Q393.5 222.1 394.3 221.2 Q395.1 220.4 396.3 219.7 Q397.5 219.0 398.7 219.3 Q399.9 219.6 400.6 220.3 Z" fill="#b0804f" stroke="none" stroke-width="1"/>
<path d="M432.5 258.9 Q432.6 260.4 431.4 261.3 Q430.2 262.2 428.2 261.7 Q426.3 261.3 425.2 259.8 Q424.1 258.3 423.7 256.9 Q423.2 255.6 423.9 254.6 Q424.6 253.6 426.0 252.9 Q427.3 252.3 429.1 253.4 Q430.8 254.5 431.7 256.0 Q432.5 257.5 432.5 258.9 Z" fill="#a06a38" stroke="none" stroke-width="1"/>
<path d="M399.8 241.3 Q399.0 242.8 398.3 244.2 Q397.5 245.7 395.6 245.2 Q393.7 244.7 392.0 243.8 Q390.3 242.9 390.1 241.2 Q390.0 239.6 390.9 238.5 Q391.7 237.4 393.1 236.6 Q394.4 235.8 396.1 236.5 Q397.8 237.1 399.2 238.5 Q400.7 239.9 399.8 241.3 Z" fill="#a87442" stroke="none" stroke-width="1"/>
<path d="M371.5 258.5 Q371.1 259.7 370.1 260.2 Q369.0 260.8 367.8 260.9 Q366.6 261.0 365.7 260.1 Q364.8 259.2 364.3 258.0 Q363.9 256.8 364.6 255.8 Q365.2 254.8 366.5 254.5 Q367.7 254.2 368.8 254.8 Q369.9 255.5 370.9 256.4 Q371.8 257.4 371.5 258.5 Z" fill="#b0804f" stroke="none" stroke-width="1"/>
<path d="M364.4 249.4 Q365.1 249.8 365.6 250.6 Q366.1 251.4 365.2 252.4 Q364.3 253.5 363.0 254.2 Q361.8 254.8 360.6 254.8 Q359.5 254.8 359.1 254.0 Q358.8 253.1 359.0 252.1 Q359.1 251.0 360.3 250.3 Q361.5 249.6 362.5 249.4 Q363.6 249.1 364.4 249.4 Z" fill="#99652f" stroke="none" stroke-width="1"/>
<path d="M363.5 256.1 Q364.3 257.5 364.6 259.1 Q364.9 260.7 363.6 262.2 Q362.3 263.7 360.2 264.2 Q358.1 264.7 356.5 263.7 Q355.0 262.7 354.3 261.2 Q353.7 259.7 354.7 258.2 Q355.8 256.8 357.3 255.7 Q358.8 254.7 360.8 254.7 Q362.7 254.6 363.5 256.1 Z" fill="#a06a38" stroke="none" stroke-width="1"/>
<path d="M407.1 211.6 Q407.1 213.2 405.7 213.9 Q404.3 214.7 402.6 215.3 Q401.0 215.9 399.5 214.6 Q398.1 213.3 397.6 211.9 Q397.2 210.4 397.5 209.0 Q397.8 207.6 399.3 206.7 Q400.8 205.8 402.8 206.4 Q404.8 207.0 405.9 208.5 Q407.1 210.0 407.1 211.6 Z" fill="#b0804f" stroke="none" stroke-width="1"/>
<path d="M385.4 251.9 Q385.5 252.8 384.9 253.5 Q384.4 254.2 383.3 254.5 Q382.2 254.9 380.8 254.5 Q379.5 254.1 378.8 253.2 Q378.0 252.3 378.6 251.5 Q379.1 250.7 379.9 250.2 Q380.7 249.6 381.8 249.8 Q383.0 250.1 384.2 250.6 Q385.3 251.0 385.4 251.9 Z" fill="#99652f" stroke="none" stroke-width="1"/>
<path d="M460.8 239.4 Q460.8 240.7 459.8 241.6 Q458.9 242.5 457.1 242.5 Q455.4 242.5 453.5 241.5 Q451.6 240.5 450.7 238.9 Q449.9 237.2 450.9 236.0 Q452.0 234.9 453.4 234.1 Q454.9 233.3 456.9 234.3 Q458.9 235.3 459.8 236.7 Q460.8 238.1 460.8 239.4 Z" fill="#a06a38" stroke="none" stroke-width="1"/>
<path d="M409.0 220.4 Q409.1 221.1 409.0 221.7 Q408.9 222.4 407.9 222.8 Q406.9 223.2 405.8 223.0 Q404.6 222.8 404.1 222.1 Q403.6 221.5 403.7 220.8 Q403.8 220.2 404.4 219.8 Q405.1 219.3 406.1 219.2 Q407.0 219.1 407.9 219.5 Q408.8 219.8 409.0 220.4 Z" fill="#a87442" stroke="none" stroke-width="1"/>
<path d="M375.7 265.2 Q377.7 265.2 379.0 266.8 Q380.3 268.5 380.3 270.7 Q380.3 273.0 378.8 274.7 Q377.3 276.5 375.2 276.8 Q373.1 277.1 371.8 275.7 Q370.4 274.4 369.6 272.8 Q368.8 271.1 369.3 269.0 Q369.8 266.9 371.7 266.0 Q373.6 265.2 375.7 265.2 Z" fill="#a87442" stroke="none" stroke-width="1"/>
<path d="M370.7 228.6 Q371.8 229.6 371.2 230.9 Q370.7 232.2 368.9 232.6 Q367.2 232.9 365.4 232.9 Q363.7 232.9 362.6 231.9 Q361.4 230.9 361.1 229.6 Q360.8 228.3 362.2 227.3 Q363.6 226.4 365.4 226.3 Q367.2 226.2 368.4 226.9 Q369.7 227.6 370.7 228.6 Z" fill="#a06a38" stroke="none" stroke-width="1"/>
<path d="M460.1 259.0 Q460.5 261.0 458.9 262.2 Q457.3 263.4 454.9 263.8 Q452.6 264.2 450.2 262.9 Q447.9 261.7 447.5 259.8 Q447.1 257.9 447.8 256.5 Q448.4 255.1 449.9 254.0 Q451.3 252.9 453.6 253.6 Q455.9 254.2 457.7 255.6 Q459.6 257.0 460.1 259.0 Z" fill="#b0804f" stroke="none" stroke-width="1"/>
<path d="M466.3 266.4 Q466.2 267.6 465.0 267.5 Q463.9 267.4 462.8 266.8 Q461.6 266.1 460.8 265.0 Q459.9 263.8 459.5 262.4 Q459.2 260.9 460.1 260.4 Q461.0 259.9 462.3 260.4 Q463.5 260.9 464.6 261.9 Q465.7 262.8 466.0 264.0 Q466.4 265.3 466.3 266.4 Z" fill="#99652f" stroke="none" stroke-width="1"/>
<path d="M426.6 196.8 Q426.4 198.0 425.5 198.9 Q424.6 199.7 423.4 199.7 Q422.1 199.6 421.0 199.0 Q419.9 198.4 419.6 197.3 Q419.3 196.1 419.9 195.2 Q420.4 194.3 421.4 193.7 Q422.3 193.1 423.4 193.5 Q424.6 193.9 425.7 194.7 Q426.7 195.5 426.6 196.8 Z" fill="#b0804f" stroke="none" stroke-width="1"/>
<path d="M400.4 267.5 Q401.8 269.0 401.6 271.0 Q401.3 273.0 400.0 274.6 Q398.6 276.2 396.6 276.7 Q394.5 277.1 392.7 276.4 Q390.9 275.7 390.3 274.1 Q389.8 272.5 390.5 270.8 Q391.3 269.2 392.8 268.0 Q394.4 266.7 396.7 266.4 Q399.0 266.0 400.4 267.5 Z" fill="#a87442" stroke="none" stroke-width="1"/>
<path d="M393.6 253.1 Q393.0 254.0 392.3 254.8 Q391.6 255.5 390.3 255.2 Q389.0 254.8 388.0 253.9 Q387.0 253.0 386.6 251.8 Q386.1 250.6 387.0 250.0 Q388.0 249.4 389.0 248.9 Q390.0 248.3 391.2 249.2 Q392.3 250.1 393.2 251.2 Q394.1 252.2 393.6 253.1 Z" fill="#b0804f" stroke="none" stroke-width="1"/>
<path d="M402.1 235.6 Q402.5 236.5 401.8 237.3 Q401.1 238.0 400.2 238.4 Q399.3 238.9 398.1 238.7 Q397.0 238.4 396.5 237.5 Q396.0 236.6 396.1 235.7 Q396.2 234.8 397.1 234.3 Q397.9 233.8 399.0 233.5 Q400.1 233.3 400.9 234.0 Q401.8 234.7 402.1 235.6 Z" fill="#99652f" stroke="none" stroke-width="1"/>
<path d="M406.5 194.3 Q407.0 195.5 407.2 197.0 Q407.3 198.4 405.4 199.4 Q403.5 200.4 401.4 200.1 Q399.4 199.7 397.7 199.1 Q396.0 198.4 396.1 197.0 Q396.2 195.6 397.0 194.2 Q397.9 192.8 400.1 192.3 Q402.3 191.8 404.1 192.5 Q405.9 193.1 406.5 194.3 Z" fill="#a87442" stroke="none" stroke-width="1"/>
<path d="M369.8 225.0 Q369.5 226.0 368.4 226.2 Q367.4 226.3 366.4 226.3 Q365.4 226.2 364.5 225.4 Q363.7 224.6 363.8 223.5 Q364.0 222.3 364.7 221.6 Q365.4 220.9 366.5 220.8 Q367.5 220.7 368.5 221.2 Q369.5 221.8 369.8 222.9 Q370.1 224.0 369.8 225.0 Z" fill="#99652f" stroke="none" stroke-width="1"/>
<path d="M401.4 226.0 Q402.3 226.3 402.2 227.3 Q402.0 228.2 401.3 228.9 Q400.5 229.6 399.5 230.0 Q398.6 230.3 397.4 230.3 Q396.3 230.3 396.1 229.4 Q396.0 228.5 396.3 227.5 Q396.6 226.6 397.6 226.1 Q398.6 225.6 399.6 225.6 Q400.5 225.6 401.4 226.0 Z" fill="#b0804f" stroke="none" stroke-width="1"/>
<path d="M405.5 219.1 Q405.8 220.3 404.7 220.8 Q403.6 221.3 402.3 221.0 Q400.9 220.8 399.8 220.0 Q398.7 219.2 398.3 218.2 Q397.9 217.2 398.0 216.2 Q398.2 215.2 399.4 214.8 Q400.6 214.4 402.1 215.2 Q403.6 215.9 404.4 216.9 Q405.3 218.0 405.5 219.1 Z" fill="#b0804f" stroke="none" stroke-width="1"/>
<path d="M383.8 224.6 Q384.8 225.0 385.2 226.0 Q385.7 227.1 384.9 228.1 Q384.1 229.1 383.0 229.8 Q381.9 230.5 380.7 230.2 Q379.5 229.9 378.9 229.0 Q378.2 228.1 378.8 227.0 Q379.3 225.9 380.0 225.1 Q380.8 224.2 381.8 224.2 Q382.9 224.2 383.8 224.6 Z" fill="#a87442" stroke="none" stroke-width="1"/>
<path d="M367.4 194.3 Q367.6 195.7 366.9 196.7 Q366.1 197.7 364.6 197.8 Q363.0 197.8 361.7 197.5 Q360.4 197.1 359.7 196.2 Q359.0 195.3 359.2 194.3 Q359.3 193.3 360.2 192.5 Q361.1 191.7 362.7 191.5 Q364.3 191.4 365.7 192.2 Q367.2 193.0 367.4 194.3 Z" fill="#a87442" stroke="none" stroke-width="1"/>
<path d="M380.3 213.6 Q381.9 214.2 382.7 215.6 Q383.6 216.9 383.3 219.0 Q383.0 221.0 381.4 222.4 Q379.8 223.8 378.0 224.6 Q376.1 225.5 374.6 224.5 Q373.1 223.6 373.0 221.5 Q372.9 219.5 373.8 217.3 Q374.7 215.1 376.7 214.0 Q378.7 213.0 380.3 213.6 Z" fill="#a87442" stroke="none" stroke-width="1"/>
<path d="M463.8 253.9 Q463.8 255.1 463.2 256.0 Q462.7 256.9 461.5 257.1 Q460.4 257.3 459.3 257.1 Q458.2 256.8 457.5 256.0 Q456.9 255.1 457.0 254.1 Q457.1 253.1 457.9 252.3 Q458.7 251.4 460.0 251.4 Q461.4 251.5 462.6 252.1 Q463.8 252.8 463.8 253.9 Z" fill="#b0804f" stroke="none" stroke-width="1"/>
<path d="M380.3 191.8 Q381.5 193.4 381.7 195.4 Q381.8 197.5 380.3 199.1 Q378.8 200.7 376.8 200.8 Q374.7 200.8 373.0 200.1 Q371.3 199.4 370.7 197.7 Q370.1 196.0 370.6 194.2 Q371.2 192.4 372.9 191.4 Q374.7 190.4 376.8 190.2 Q379.0 190.1 380.3 191.8 Z" fill="#a87442" stroke="none" stroke-width="1"/>
<path d="M417.1 207.5 Q418.0 208.0 418.7 208.8 Q419.4 209.5 419.1 210.7 Q418.8 211.8 418.0 212.4 Q417.1 213.1 416.1 213.6 Q415.0 214.1 414.2 213.3 Q413.4 212.6 413.4 211.5 Q413.3 210.4 413.7 209.4 Q414.2 208.3 415.1 207.7 Q416.1 207.0 417.1 207.5 Z" fill="#99652f" stroke="none" stroke-width="1"/>
<path d="M362.9 238.9 Q363.2 239.6 362.9 240.2 Q362.5 240.9 361.7 241.4 Q361.0 241.9 359.8 241.9 Q358.7 241.9 358.0 241.3 Q357.2 240.7 357.5 239.9 Q357.9 239.2 358.3 238.6 Q358.7 238.0 359.7 237.7 Q360.7 237.5 361.6 237.9 Q362.5 238.3 362.9 238.9 Z" fill="#b0804f" stroke="none" stroke-width="1"/>
<path d="M390.8 248.5 Q390.3 249.4 389.3 249.4 Q388.3 249.5 387.5 248.9 Q386.7 248.3 386.1 247.4 Q385.5 246.6 385.6 245.5 Q385.6 244.4 386.6 244.1 Q387.5 243.8 388.5 243.9 Q389.4 244.0 390.2 244.7 Q391.1 245.5 391.2 246.6 Q391.4 247.7 390.8 248.5 Z" fill="#99652f" stroke="none" stroke-width="1"/>
<path d="M396.0 198.3 Q397.2 198.2 397.6 199.3 Q398.0 200.4 398.1 201.5 Q398.3 202.7 397.5 203.7 Q396.6 204.7 395.5 204.7 Q394.3 204.7 393.3 204.3 Q392.3 203.8 392.0 202.7 Q391.7 201.5 392.2 200.3 Q392.6 199.1 393.7 198.7 Q394.9 198.3 396.0 198.3 Z" fill="#99652f" stroke="none" stroke-width="1"/>
<path d="M442.9 263.7 Q442.5 265.7 440.5 265.8 Q438.5 265.9 436.7 264.9 Q434.9 263.8 433.2 262.1 Q431.6 260.3 431.7 258.1 Q431.8 255.9 433.3 254.7 Q434.8 253.4 437.0 253.9 Q439.1 254.4 440.9 256.0 Q442.6 257.6 442.9 259.6 Q443.2 261.7 442.9 263.7 Z" fill="#b0804f" stroke="none" stroke-width="1"/>
<path d="M383.9 267.7 Q384.0 268.6 383.5 269.3 Q383.0 270.0 382.0 270.2 Q381.1 270.4 379.9 270.1 Q378.8 269.8 378.5 268.8 Q378.2 267.9 378.4 266.9 Q378.6 266.0 379.5 265.5 Q380.4 265.0 381.4 265.3 Q382.4 265.6 383.2 266.2 Q383.9 266.9 383.9 267.7 Z" fill="#a06a38" stroke="none" stroke-width="1"/>
<path d="M423.4 213.7 Q424.2 214.3 423.9 215.3 Q423.7 216.3 423.1 217.1 Q422.6 217.9 421.6 218.2 Q420.5 218.5 419.6 218.1 Q418.7 217.8 418.3 217.0 Q417.8 216.2 418.3 215.4 Q418.8 214.5 419.6 213.8 Q420.4 213.1 421.5 213.1 Q422.6 213.0 423.4 213.7 Z" fill="#99652f" stroke="none" stroke-width="1"/>
<path d="M465.2 248.5 Q465.4 249.5 464.9 250.3 Q464.3 251.1 463.2 251.5 Q462.1 252.0 460.7 251.8 Q459.2 251.6 458.6 250.6 Q458.0 249.6 458.3 248.6 Q458.6 247.6 459.2 246.7 Q459.9 245.7 461.3 246.1 Q462.7 246.4 463.9 246.9 Q465.0 247.5 465.2 248.5 Z" fill="#b0804f" stroke="none" stroke-width="1"/>
<path d="M407.9 198.5 Q408.8 199.0 409.2 200.0 Q409.5 201.0 409.0 202.1 Q408.4 203.3 407.2 204.0 Q405.9 204.6 404.9 204.3 Q403.8 203.9 403.2 203.1 Q402.6 202.4 402.9 201.4 Q403.1 200.3 403.8 199.2 Q404.6 198.1 405.8 198.1 Q407.1 198.0 407.9 198.5 Z" fill="#b0804f" stroke="none" stroke-width="1"/>
<path d="M414.3 197.7 Q413.8 198.9 412.6 199.1 Q411.3 199.4 409.9 199.1 Q408.5 198.8 407.6 197.5 Q406.7 196.1 406.7 194.8 Q406.7 193.4 407.4 192.4 Q408.2 191.3 409.7 191.5 Q411.1 191.6 412.1 192.8 Q413.0 194.0 413.9 195.3 Q414.8 196.5 414.3 197.7 Z" fill="#99652f" stroke="none" stroke-width="1"/>
<path d="M456.5 231.9 Q457.4 233.0 456.6 234.2 Q455.9 235.4 454.4 236.0 Q453.0 236.5 451.5 236.1 Q450.1 235.6 448.9 234.7 Q447.7 233.8 447.7 232.5 Q447.7 231.1 449.0 230.2 Q450.2 229.3 451.7 229.4 Q453.3 229.5 454.5 230.1 Q455.7 230.8 456.5 231.9 Z" fill="#a87442" stroke="none" stroke-width="1"/>
<path d="M450.8 225.7 Q451.5 226.4 451.0 227.3 Q450.6 228.2 449.6 228.9 Q448.7 229.5 447.5 229.5 Q446.2 229.4 445.3 228.8 Q444.4 228.2 444.1 227.3 Q443.7 226.4 444.6 225.6 Q445.5 224.8 446.8 224.5 Q448.0 224.2 449.0 224.6 Q450.0 225.0 450.8 225.7 Z" fill="#a06a38" stroke="none" stroke-width="1"/>
<path d="M422.5 258.9 Q422.0 259.7 421.1 259.7 Q420.1 259.7 419.2 259.4 Q418.3 259.0 417.5 258.1 Q416.8 257.2 416.7 256.1 Q416.6 255.0 417.4 254.6 Q418.2 254.2 419.2 254.2 Q420.1 254.1 421.1 254.9 Q422.0 255.7 422.5 256.9 Q422.9 258.0 422.5 258.9 Z" fill="#a06a38" stroke="none" stroke-width="1"/>
<path d="M370.9 273.7 Q370.8 274.5 370.1 274.9 Q369.3 275.3 368.4 275.4 Q367.4 275.5 366.8 274.7 Q366.1 274.0 365.5 273.1 Q365.0 272.2 365.7 271.6 Q366.4 271.0 367.2 270.7 Q368.0 270.4 369.1 270.7 Q370.1 271.1 370.6 272.0 Q371.1 272.9 370.9 273.7 Z" fill="#b0804f" stroke="none" stroke-width="1"/>
<path d="M364.9 204.8 Q366.2 205.6 366.3 207.2 Q366.5 208.7 365.2 209.8 Q363.9 211.0 362.4 211.9 Q360.9 212.8 359.2 212.4 Q357.4 212.0 357.2 210.4 Q356.9 208.8 357.0 207.3 Q357.1 205.7 358.7 204.6 Q360.3 203.6 361.9 203.9 Q363.5 204.1 364.9 204.8 Z" fill="#a06a38" stroke="none" stroke-width="1"/>
<path d="M393.8 201.0 Q393.3 201.8 392.4 202.3 Q391.6 202.8 390.4 202.1 Q389.2 201.5 388.7 200.3 Q388.2 199.2 388.0 198.1 Q387.8 197.0 388.6 196.5 Q389.3 196.0 390.4 195.9 Q391.5 195.8 392.4 196.8 Q393.3 197.9 393.8 199.0 Q394.2 200.2 393.8 201.0 Z" fill="#a87442" stroke="none" stroke-width="1"/>
<path d="M410.5 269.8 Q411.9 271.2 410.7 272.8 Q409.5 274.4 408.2 275.7 Q406.8 277.0 404.9 276.6 Q403.0 276.3 400.9 275.7 Q398.8 275.1 399.0 273.3 Q399.1 271.4 400.2 269.9 Q401.3 268.4 403.3 268.1 Q405.3 267.9 407.2 268.2 Q409.1 268.5 410.5 269.8 Z" fill="#99652f" stroke="none" stroke-width="1"/>
<path d="M446.2 273.0 Q446.9 274.0 445.9 274.6 Q444.9 275.2 443.9 275.4 Q442.8 275.6 441.6 275.4 Q440.5 275.1 439.9 274.2 Q439.3 273.4 439.3 272.5 Q439.4 271.5 440.3 270.9 Q441.1 270.2 442.5 270.4 Q443.8 270.7 444.6 271.4 Q445.5 272.1 446.2 273.0 Z" fill="#99652f" stroke="none" stroke-width="1"/>
<path d="M379.3 257.9 Q378.8 259.2 377.4 259.3 Q375.9 259.3 374.7 258.7 Q373.4 258.1 372.7 256.8 Q372.0 255.5 372.1 254.2 Q372.3 252.9 373.1 251.9 Q374.0 250.9 375.3 251.5 Q376.7 252.1 377.9 252.8 Q379.2 253.6 379.5 255.0 Q379.8 256.5 379.3 257.9 Z" fill="#a06a38" stroke="none" stroke-width="1"/>
<path d="M430.6 221.3 Q431.3 221.6 431.3 222.4 Q431.2 223.2 430.7 223.9 Q430.2 224.6 429.3 225.2 Q428.5 225.7 427.4 225.8 Q426.4 225.9 426.0 225.1 Q425.6 224.4 425.7 223.4 Q425.9 222.4 426.9 221.8 Q428.0 221.2 428.9 221.1 Q429.8 221.0 430.6 221.3 Z" fill="#a06a38" stroke="none" stroke-width="1"/>
<path d="M459.8 248.9 Q460.3 250.4 460.1 252.0 Q460.0 253.6 458.3 254.3 Q456.7 255.0 455.1 254.6 Q453.5 254.3 452.2 253.4 Q450.8 252.5 451.1 251.0 Q451.4 249.5 452.0 248.0 Q452.7 246.6 454.4 246.7 Q456.1 246.7 457.7 247.1 Q459.4 247.4 459.8 248.9 Z" fill="#99652f" stroke="none" stroke-width="1"/>
<path d="M403.2 269.1 Q402.8 269.8 401.9 270.2 Q401.1 270.5 400.1 269.7 Q399.1 268.9 398.5 267.7 Q397.9 266.5 398.0 265.3 Q398.0 264.2 398.7 263.6 Q399.4 263.0 400.5 263.5 Q401.7 263.9 402.3 265.1 Q403.0 266.2 403.3 267.3 Q403.6 268.4 403.2 269.1 Z" fill="#99652f" stroke="none" stroke-width="1"/>
<path d="M376.0 235.4 Q377.4 236.0 378.0 237.3 Q378.5 238.6 378.4 240.1 Q378.2 241.7 377.0 242.7 Q375.7 243.7 374.3 243.6 Q372.8 243.5 371.7 242.7 Q370.6 241.9 370.4 240.5 Q370.2 239.0 371.0 237.6 Q371.7 236.2 373.2 235.5 Q374.6 234.8 376.0 235.4 Z" fill="#b0804f" stroke="none" stroke-width="1"/>
<path d="M447.8 263.4 Q448.2 264.1 448.4 264.8 Q448.7 265.5 447.8 266.1 Q446.9 266.8 445.9 267.4 Q444.9 268.0 444.1 267.6 Q443.3 267.3 442.7 266.7 Q442.1 266.1 442.7 265.2 Q443.3 264.3 444.2 263.7 Q445.1 263.0 446.3 262.8 Q447.5 262.6 447.8 263.4 Z" fill="#a87442" stroke="none" stroke-width="1"/>
<path d="M386.9 205.9 Q387.7 206.3 388.3 206.9 Q388.9 207.6 388.8 208.7 Q388.7 209.8 387.8 210.4 Q386.9 211.1 386.0 211.4 Q385.1 211.8 384.5 211.2 Q383.9 210.6 383.8 209.8 Q383.6 208.9 383.9 207.9 Q384.2 206.8 385.1 206.2 Q386.1 205.5 386.9 205.9 Z" fill="#a87442" stroke="none" stroke-width="1"/>
<path d="M467.1 271.8 Q466.6 272.7 465.6 273.1 Q464.7 273.4 463.4 273.1 Q462.2 272.8 461.5 271.6 Q460.8 270.3 461.4 269.2 Q461.9 268.1 462.7 267.2 Q463.4 266.3 464.6 266.6 Q465.9 266.9 466.8 267.8 Q467.6 268.7 467.6 269.8 Q467.6 271.0 467.1 271.8 Z" fill="#99652f" stroke="none" stroke-width="1"/>
<path d="M434.5 241.3 Q434.9 242.1 434.3 242.8 Q433.7 243.5 432.5 243.5 Q431.3 243.6 430.1 243.2 Q429.0 242.9 428.5 242.1 Q428.1 241.3 428.1 240.6 Q428.2 239.9 429.0 239.4 Q429.8 238.9 430.9 239.2 Q432.1 239.6 433.1 240.0 Q434.1 240.5 434.5 241.3 Z" fill="#99652f" stroke="none" stroke-width="1"/>
<path d="M368.7 247.2 Q369.7 247.4 370.0 248.5 Q370.2 249.6 369.9 250.7 Q369.6 251.8 368.6 252.2 Q367.5 252.6 366.5 252.7 Q365.5 252.8 364.7 252.1 Q363.9 251.4 363.8 250.3 Q363.8 249.1 364.7 248.4 Q365.7 247.7 366.6 247.3 Q367.6 246.9 368.7 247.2 Z" fill="#a06a38" stroke="none" stroke-width="1"/>
<path d="M428.1 270.1 Q428.9 270.8 429.4 271.7 Q429.9 272.6 429.6 273.7 Q429.2 274.7 428.3 275.5 Q427.4 276.3 426.2 276.3 Q425.0 276.3 424.3 275.4 Q423.6 274.5 423.7 273.4 Q423.7 272.3 424.4 271.4 Q425.0 270.4 426.2 269.8 Q427.3 269.3 428.1 270.1 Z" fill="#99652f" stroke="none" stroke-width="1"/>
<path d="M422.9 227.8 Q423.5 228.8 422.6 229.5 Q421.8 230.3 420.8 230.6 Q419.8 230.9 418.7 230.7 Q417.6 230.5 417.0 229.6 Q416.5 228.7 416.6 227.7 Q416.8 226.7 417.6 226.1 Q418.4 225.4 419.5 225.5 Q420.6 225.6 421.5 226.2 Q422.3 226.8 422.9 227.8 Z" fill="#a87442" stroke="none" stroke-width="1"/>
<path d="M439.9 194.0 Q441.3 194.3 442.4 195.2 Q443.5 196.2 443.1 197.9 Q442.7 199.6 441.5 200.8 Q440.4 202.0 438.9 202.5 Q437.4 203.1 436.3 202.2 Q435.1 201.4 434.9 199.8 Q434.8 198.3 435.3 196.8 Q435.9 195.3 437.2 194.6 Q438.6 193.8 439.9 194.0 Z" fill="#a06a38" stroke="none" stroke-width="1"/>
<path d="M417.1 217.5 Q416.1 218.8 414.8 219.4 Q413.5 219.9 411.7 220.0 Q409.9 220.0 408.5 218.4 Q407.2 216.8 407.0 214.8 Q406.7 212.9 408.1 212.0 Q409.6 211.0 411.2 210.8 Q412.9 210.7 414.7 211.6 Q416.5 212.5 417.3 214.4 Q418.1 216.2 417.1 217.5 Z" fill="#a06a38" stroke="none" stroke-width="1"/>
<path d="M414.7 208.3 Q415.4 209.0 415.0 209.9 Q414.5 210.7 413.3 211.1 Q412.1 211.4 411.0 211.4 Q409.8 211.3 408.8 210.9 Q407.8 210.5 407.7 209.7 Q407.7 208.9 408.5 208.2 Q409.3 207.5 410.5 207.4 Q411.7 207.4 412.8 207.5 Q414.0 207.6 414.7 208.3 Z" fill="#b0804f" stroke="none" stroke-width="1"/>
<path d="M398.3 255.1 Q398.2 256.0 398.0 256.8 Q397.7 257.7 396.7 258.0 Q395.6 258.3 394.4 257.9 Q393.3 257.6 392.7 256.7 Q392.1 255.9 392.4 255.0 Q392.7 254.2 393.5 253.6 Q394.3 253.0 395.4 252.9 Q396.5 252.8 397.4 253.5 Q398.3 254.2 398.3 255.1 Z" fill="#99652f" stroke="none" stroke-width="1"/>
<path d="M403.0 253.8 Q403.6 254.2 403.6 254.8 Q403.7 255.5 403.3 256.3 Q402.9 257.2 401.9 257.6 Q400.9 258.1 399.8 258.2 Q398.8 258.4 398.4 257.7 Q398.1 257.0 398.4 256.1 Q398.8 255.2 399.7 254.6 Q400.6 254.0 401.5 253.7 Q402.4 253.5 403.0 253.8 Z" fill="#b0804f" stroke="none" stroke-width="1"/>
<path d="M371.7 259.7 Q373.0 260.5 373.7 261.6 Q374.3 262.7 374.2 264.2 Q374.1 265.6 373.1 266.8 Q372.0 268.0 370.6 268.2 Q369.3 268.5 367.9 268.1 Q366.4 267.7 366.2 266.0 Q366.0 264.4 366.7 262.8 Q367.5 261.1 369.0 260.0 Q370.4 258.9 371.7 259.7 Z" fill="#99652f" stroke="none" stroke-width="1"/>
<path d="M361.9 234.0 Q361.9 235.1 361.1 235.8 Q360.3 236.6 358.9 236.4 Q357.5 236.2 356.4 235.3 Q355.2 234.4 354.8 233.2 Q354.3 231.9 355.0 231.0 Q355.7 230.1 356.9 229.8 Q358.2 229.6 359.4 230.3 Q360.6 231.0 361.2 232.0 Q361.9 233.0 361.9 234.0 Z" fill="#a87442" stroke="none" stroke-width="1"/>
<path d="M448.3 199.2 Q448.1 200.1 447.1 199.8 Q446.1 199.6 445.3 198.9 Q444.5 198.3 443.6 197.2 Q442.7 196.2 443.0 195.3 Q443.3 194.4 443.9 194.0 Q444.5 193.5 445.4 193.8 Q446.4 194.0 447.2 195.0 Q448.1 195.9 448.3 197.1 Q448.5 198.2 448.3 199.2 Z" fill="#99652f" stroke="none" stroke-width="1"/>
<path d="M395.5 212.1 Q395.8 213.0 395.0 213.5 Q394.2 214.0 393.2 214.3 Q392.3 214.7 391.2 214.2 Q390.1 213.7 389.9 212.9 Q389.6 212.0 389.7 211.2 Q389.8 210.5 390.6 210.0 Q391.4 209.6 392.5 209.8 Q393.5 210.0 394.4 210.6 Q395.3 211.2 395.5 212.1 Z" fill="#99652f" stroke="none" stroke-width="1"/>
<path d="M425.9 260.8 Q426.4 261.8 425.8 262.8 Q425.3 263.7 424.3 264.3 Q423.3 264.8 422.1 264.7 Q420.8 264.5 420.3 263.5 Q419.8 262.4 419.7 261.3 Q419.5 260.1 420.4 259.2 Q421.2 258.2 422.4 258.5 Q423.6 258.9 424.5 259.4 Q425.4 259.9 425.9 260.8 Z" fill="#a87442" stroke="none" stroke-width="1"/>
<path d="M430.3 238.9 Q430.3 239.7 429.6 240.2 Q428.9 240.7 427.8 240.8 Q426.8 240.9 426.0 240.1 Q425.2 239.3 424.6 238.4 Q424.1 237.5 424.7 236.9 Q425.3 236.3 426.1 236.0 Q427.0 235.8 428.0 236.1 Q429.1 236.3 429.7 237.2 Q430.3 238.0 430.3 238.9 Z" fill="#a87442" stroke="none" stroke-width="1"/>
<path d="M453.2 198.8 Q453.6 199.5 453.2 200.2 Q452.9 200.9 451.9 201.4 Q451.0 201.9 449.7 201.9 Q448.5 201.9 447.9 201.2 Q447.4 200.6 447.0 199.8 Q446.6 199.1 447.6 198.7 Q448.7 198.2 449.7 197.8 Q450.7 197.4 451.8 197.8 Q452.8 198.1 453.2 198.8 Z" fill="#b0804f" stroke="none" stroke-width="1"/>
<path d="M412.9 253.6 Q413.8 253.7 413.9 254.6 Q414.1 255.4 413.7 256.4 Q413.2 257.4 412.5 258.5 Q411.7 259.5 410.7 259.7 Q409.6 259.9 409.1 259.4 Q408.5 258.8 408.6 257.8 Q408.7 256.8 409.4 255.8 Q410.1 254.8 411.1 254.2 Q412.0 253.6 412.9 253.6 Z" fill="#99652f" stroke="none" stroke-width="1"/>
<path d="M362.9 244.6 Q363.2 245.7 363.0 246.8 Q362.9 247.9 361.6 248.5 Q360.3 249.2 358.8 249.1 Q357.3 249.0 355.9 248.5 Q354.4 248.1 354.7 246.9 Q355.0 245.8 355.8 244.9 Q356.6 244.0 358.1 243.3 Q359.5 242.5 361.1 243.0 Q362.7 243.5 362.9 244.6 Z" fill="#99652f" stroke="none" stroke-width="1"/>
<path d="M363.8 199.9 Q364.4 201.2 364.3 202.8 Q364.2 204.3 362.7 205.2 Q361.2 206.1 359.6 205.8 Q358.0 205.5 356.9 204.5 Q355.7 203.5 355.4 202.0 Q355.2 200.5 356.0 199.0 Q356.8 197.5 358.5 197.4 Q360.3 197.3 361.8 197.9 Q363.2 198.5 363.8 199.9 Z" fill="#a87442" stroke="none" stroke-width="1"/>
<path d="M448.8 231.9 Q449.5 232.6 448.8 233.2 Q448.0 233.9 447.0 234.3 Q446.1 234.8 445.0 234.4 Q443.9 234.0 443.0 233.5 Q442.1 233.1 442.3 232.4 Q442.6 231.7 443.1 231.0 Q443.6 230.3 444.8 230.5 Q446.1 230.7 447.1 231.0 Q448.1 231.3 448.8 231.9 Z" fill="#a87442" stroke="none" stroke-width="1"/>
<path d="M422.2 240.5 Q421.6 241.8 420.6 242.5 Q419.5 243.2 418.2 243.0 Q416.9 242.7 415.6 242.0 Q414.4 241.2 414.6 239.8 Q414.8 238.5 415.2 237.1 Q415.5 235.7 417.0 235.4 Q418.6 235.1 420.1 235.7 Q421.6 236.4 422.2 237.8 Q422.8 239.3 422.2 240.5 Z" fill="#99652f" stroke="none" stroke-width="1"/>
<path d="M376.2 229.8 Q377.0 230.1 377.6 230.9 Q378.1 231.6 377.4 232.8 Q376.8 234.0 375.9 235.0 Q375.1 236.1 374.1 236.2 Q373.1 236.3 372.6 235.7 Q372.1 235.1 372.0 234.1 Q372.0 233.2 372.5 232.0 Q372.9 230.7 374.1 230.1 Q375.3 229.5 376.2 229.8 Z" fill="#a87442" stroke="none" stroke-width="1"/>
<path d="M416.1 269.6 Q415.9 270.7 414.8 270.6 Q413.7 270.4 412.7 269.8 Q411.7 269.2 411.0 268.0 Q410.3 266.8 410.7 265.8 Q411.0 264.7 411.8 264.3 Q412.6 263.9 413.6 264.0 Q414.7 264.2 415.6 265.2 Q416.6 266.2 416.4 267.3 Q416.3 268.5 416.1 269.6 Z" fill="#a87442" stroke="none" stroke-width="1"/>
<path d="M397.9 227.3 Q398.3 228.4 397.9 229.6 Q397.6 230.7 396.5 231.9 Q395.4 233.1 393.4 233.2 Q391.5 233.3 390.0 232.8 Q388.6 232.3 388.2 231.1 Q387.8 230.0 388.9 228.8 Q390.1 227.7 391.8 227.0 Q393.5 226.2 395.5 226.2 Q397.4 226.1 397.9 227.3 Z" fill="#b0804f" stroke="none" stroke-width="1"/>
<path d="M436.5 272.0 Q437.0 273.1 436.0 273.8 Q434.9 274.5 433.8 274.8 Q432.6 275.2 431.2 275.0 Q429.7 274.7 429.0 273.7 Q428.4 272.8 428.2 271.7 Q428.1 270.6 429.4 270.2 Q430.8 269.9 432.1 269.8 Q433.4 269.6 434.7 270.3 Q435.9 270.9 436.5 272.0 Z" fill="#b0804f" stroke="none" stroke-width="1"/>
<path d="M447.0 256.0 Q448.3 256.4 449.0 257.6 Q449.7 258.7 449.3 260.1 Q448.8 261.5 447.8 262.7 Q446.8 264.0 445.3 264.1 Q443.7 264.2 442.9 263.1 Q442.1 262.0 441.7 260.6 Q441.3 259.3 442.0 257.7 Q442.7 256.2 444.2 255.8 Q445.8 255.5 447.0 256.0 Z" fill="#99652f" stroke="none" stroke-width="1"/>
<path d="M418.8 191.3 Q420.0 192.1 420.4 193.5 Q420.8 194.9 420.1 196.3 Q419.5 197.7 418.1 198.4 Q416.7 199.0 415.2 198.9 Q413.8 198.7 413.3 197.4 Q412.8 196.1 412.8 194.8 Q412.7 193.5 413.7 192.5 Q414.7 191.5 416.1 191.1 Q417.5 190.6 418.8 191.3 Z" fill="#a87442" stroke="none" stroke-width="1"/>
<path d="M424.4 264.9 Q424.6 266.0 424.0 266.8 Q423.3 267.6 422.4 268.0 Q421.4 268.4 420.4 267.9 Q419.5 267.5 418.8 266.8 Q418.1 266.0 418.2 265.0 Q418.3 264.0 419.3 263.5 Q420.3 263.1 421.2 263.1 Q422.2 263.0 423.2 263.4 Q424.2 263.9 424.4 264.9 Z" fill="#99652f" stroke="none" stroke-width="1"/>
<path d="M393.0 209.1 Q392.5 209.8 391.7 209.9 Q390.8 210.0 389.9 209.4 Q389.0 208.7 388.6 207.7 Q388.1 206.7 388.3 205.9 Q388.5 205.0 388.9 204.2 Q389.3 203.4 390.3 203.8 Q391.4 204.1 392.0 205.1 Q392.7 206.2 393.1 207.2 Q393.4 208.3 393.0 209.1 Z" fill="#a87442" stroke="none" stroke-width="1"/>
<path d="M440.3 241.1 Q440.2 242.1 439.3 242.6 Q438.4 243.1 437.1 242.5 Q435.7 241.9 434.6 241.1 Q433.4 240.4 433.1 239.4 Q432.8 238.4 433.0 237.6 Q433.3 236.7 434.5 236.7 Q435.7 236.6 436.9 237.3 Q438.2 238.1 439.2 239.1 Q440.3 240.1 440.3 241.1 Z" fill="#a06a38" stroke="none" stroke-width="1"/>
<path d="M363.2 211.5 Q364.3 211.7 364.4 212.7 Q364.6 213.7 364.7 214.8 Q364.7 215.8 363.9 216.6 Q363.1 217.5 362.1 217.8 Q361.0 218.1 360.2 217.4 Q359.4 216.8 359.5 215.7 Q359.7 214.7 359.9 213.6 Q360.1 212.5 361.1 211.9 Q362.2 211.4 363.2 211.5 Z" fill="#99652f" stroke="none" stroke-width="1"/>
<path d="M423.6 209.1 Q423.9 209.8 423.9 210.5 Q423.8 211.2 422.9 211.8 Q422.1 212.4 421.1 212.3 Q420.1 212.1 419.2 212.0 Q418.3 211.8 418.2 211.1 Q418.2 210.4 418.7 209.7 Q419.2 209.1 420.2 208.6 Q421.2 208.2 422.3 208.3 Q423.4 208.4 423.6 209.1 Z" fill="#b0804f" stroke="none" stroke-width="1"/>
<path d="M450.2 271.7 Q449.9 272.7 448.9 272.7 Q447.9 272.7 447.0 272.2 Q446.1 271.8 445.6 270.9 Q445.2 269.9 445.2 268.9 Q445.2 267.8 446.1 267.5 Q447.0 267.3 447.9 267.2 Q448.9 267.1 449.8 267.8 Q450.6 268.6 450.6 269.7 Q450.5 270.7 450.2 271.7 Z" fill="#99652f" stroke="none" stroke-width="1"/>
<path d="M464.3 275.8 Q464.1 276.8 463.1 277.1 Q462.1 277.4 460.8 277.1 Q459.5 276.9 458.6 275.8 Q457.6 274.7 456.9 273.4 Q456.3 272.2 456.9 271.4 Q457.5 270.5 458.9 270.8 Q460.3 271.2 461.4 271.9 Q462.6 272.6 463.6 273.7 Q464.5 274.8 464.3 275.8 Z" fill="#a87442" stroke="none" stroke-width="1"/>
<path d="M410.4 246.7 Q410.5 247.7 410.2 248.9 Q409.9 250.1 408.7 250.0 Q407.4 249.9 406.3 249.6 Q405.1 249.3 404.4 248.3 Q403.7 247.3 404.1 246.2 Q404.4 245.0 405.5 244.6 Q406.6 244.2 407.8 243.9 Q409.0 243.6 409.6 244.6 Q410.2 245.7 410.4 246.7 Z" fill="#b0804f" stroke="none" stroke-width="1"/>
<path d="M373.1 248.9 Q373.3 249.4 373.6 249.7 Q373.9 249.9 373.5 250.7 Q373.2 251.4 372.6 252.4 Q372.1 253.3 371.3 253.7 Q370.6 254.1 370.6 253.3 Q370.6 252.6 370.6 252.1 Q370.5 251.6 371.0 250.9 Q371.5 250.3 372.2 249.3 Q372.9 248.3 373.1 248.9 Z" fill="#f3f0e8" stroke="none" stroke-width="1"/>
<path d="M383.8 245.4 Q384.1 246.0 383.3 246.3 Q382.5 246.5 382.0 246.7 Q381.4 247.0 380.7 246.7 Q380.0 246.5 379.1 246.2 Q378.1 245.8 378.7 245.4 Q379.3 245.0 379.8 244.7 Q380.3 244.5 381.1 244.3 Q381.9 244.2 382.7 244.5 Q383.5 244.9 383.8 245.4 Z" fill="#f3f0e8" stroke="none" stroke-width="1"/>
<path d="M380.3 257.7 Q381.3 257.2 381.5 258.0 Q381.6 258.7 380.9 259.8 Q380.2 260.8 379.4 261.5 Q378.6 262.1 377.6 262.9 Q376.6 263.7 376.7 262.7 Q376.7 261.8 376.8 261.2 Q376.8 260.5 377.3 259.6 Q377.8 258.8 378.6 258.5 Q379.4 258.2 380.3 257.7 Z" fill="#f3f0e8" stroke="none" stroke-width="1"/>
<path d="M389.8 227.6 Q389.3 227.9 389.2 228.5 Q389.1 229.1 388.1 228.8 Q387.0 228.4 386.1 227.6 Q385.2 226.9 385.0 226.2 Q384.9 225.4 385.5 225.3 Q386.0 225.2 386.5 224.9 Q386.9 224.6 387.6 225.3 Q388.3 226.1 389.3 226.7 Q390.4 227.3 389.8 227.6 Z" fill="#f3f0e8" stroke="none" stroke-width="1"/>
<path d="M387.9 271.3 Q388.0 271.7 388.0 272.0 Q388.0 272.3 387.7 273.0 Q387.4 273.6 386.6 274.3 Q385.8 275.0 385.4 274.9 Q384.9 274.9 384.8 274.7 Q384.7 274.5 384.4 274.1 Q384.1 273.8 385.1 273.1 Q386.1 272.4 386.9 271.6 Q387.8 270.9 387.9 271.3 Z" fill="#f3f0e8" stroke="none" stroke-width="1"/>
<path d="M431.3 265.5 Q431.5 266.4 430.3 266.7 Q429.1 267.1 428.6 267.9 Q428.0 268.8 426.5 268.4 Q425.1 268.0 424.4 267.3 Q423.6 266.6 423.5 265.8 Q423.5 265.0 424.7 264.7 Q425.9 264.4 427.1 264.0 Q428.4 263.5 429.7 264.1 Q431.0 264.7 431.3 265.5 Z" fill="#f3f0e8" stroke="none" stroke-width="1"/>
<path d="M462.0 232.0 Q462.3 232.1 462.5 232.5 Q462.6 232.8 462.0 233.4 Q461.5 234.1 460.8 234.3 Q460.0 234.4 459.2 235.0 Q458.3 235.5 458.3 235.1 Q458.3 234.7 458.7 234.2 Q459.2 233.6 459.7 233.1 Q460.2 232.6 460.9 232.2 Q461.7 231.9 462.0 232.0 Z" fill="#f3f0e8" stroke="none" stroke-width="1"/>
<path d="M434.8 253.3 Q435.3 254.5 434.6 254.3 Q433.9 254.2 432.9 253.0 Q431.9 251.7 431.3 250.6 Q430.7 249.5 430.6 248.9 Q430.6 248.3 430.3 247.1 Q430.0 245.8 431.1 246.9 Q432.2 248.0 432.8 249.2 Q433.5 250.3 433.9 251.2 Q434.4 252.1 434.8 253.3 Z" fill="#f3f0e8" stroke="none" stroke-width="1"/>
<path d="M384.7 205.4 Q385.0 206.2 384.6 207.1 Q384.3 207.9 382.8 208.2 Q381.3 208.5 380.2 208.5 Q379.0 208.6 377.8 208.4 Q376.5 208.2 376.8 207.5 Q377.1 206.7 377.3 205.8 Q377.5 204.9 379.2 204.7 Q381.0 204.4 382.7 204.5 Q384.3 204.6 384.7 205.4 Z" fill="#f3f0e8" stroke="none" stroke-width="1"/>
<path d="M388.7 194.1 Q389.3 194.3 389.2 194.9 Q389.0 195.4 387.8 196.1 Q386.5 196.8 385.3 197.1 Q384.0 197.4 382.9 197.5 Q381.7 197.7 382.1 197.1 Q382.5 196.5 382.8 196.0 Q383.0 195.5 384.3 195.1 Q385.6 194.8 386.8 194.3 Q388.1 193.9 388.7 194.1 Z" fill="#f3f0e8" stroke="none" stroke-width="1"/>
<path d="M400.5 262.8 Q400.7 263.9 399.7 263.4 Q398.8 263.0 398.1 262.5 Q397.4 261.9 396.9 261.1 Q396.3 260.3 396.2 259.4 Q396.0 258.5 396.8 258.7 Q397.6 258.9 398.1 259.0 Q398.6 259.2 399.2 259.7 Q399.9 260.1 400.1 260.9 Q400.4 261.8 400.5 262.8 Z" fill="#f3f0e8" stroke="none" stroke-width="1"/>
<path d="M408.5 227.2 Q408.1 227.7 408.2 228.1 Q408.2 228.6 407.3 228.6 Q406.4 228.6 405.5 228.7 Q404.7 228.8 404.5 228.4 Q404.3 228.0 403.4 227.5 Q402.6 227.1 403.6 226.9 Q404.7 226.6 405.7 226.4 Q406.7 226.1 407.7 226.4 Q408.8 226.7 408.5 227.2 Z" fill="#f3f0e8" stroke="none" stroke-width="1"/>
<path d="M369.4 203.3 Q369.9 203.7 369.8 204.1 Q369.7 204.6 368.6 204.4 Q367.4 204.3 366.4 204.0 Q365.3 203.7 365.0 203.2 Q364.7 202.7 364.4 202.2 Q364.0 201.7 365.2 201.9 Q366.4 202.1 367.2 202.0 Q368.0 202.0 368.4 202.4 Q368.8 202.9 369.4 203.3 Z" fill="#f3f0e8" stroke="none" stroke-width="1"/>
<path d="M414.6 252.4 Q414.9 253.4 414.0 253.2 Q413.1 253.0 412.2 252.7 Q411.2 252.5 410.6 251.4 Q410.0 250.3 410.0 249.5 Q410.0 248.7 410.3 248.2 Q410.7 247.6 411.6 248.3 Q412.4 249.0 413.3 249.4 Q414.2 249.8 414.2 250.6 Q414.2 251.4 414.6 252.4 Z" fill="#f3f0e8" stroke="none" stroke-width="1"/>
<path d="M375.5 225.9 Q375.6 226.2 375.4 226.4 Q375.2 226.5 374.3 226.4 Q373.5 226.3 372.9 226.0 Q372.3 225.7 371.4 225.3 Q370.6 225.0 371.0 224.9 Q371.5 224.8 372.0 224.8 Q372.5 224.9 373.1 225.0 Q373.7 225.1 374.6 225.3 Q375.5 225.6 375.5 225.9 Z" fill="#f3f0e8" stroke="none" stroke-width="1"/>
<path d="M468.2 238.0 Q469.6 238.1 468.3 239.3 Q467.0 240.5 466.2 241.3 Q465.4 242.0 463.9 242.9 Q462.4 243.7 461.2 243.6 Q460.1 243.4 459.1 243.0 Q458.0 242.6 459.5 241.4 Q461.1 240.3 462.4 239.0 Q463.8 237.8 465.3 237.8 Q466.9 237.9 468.2 238.0 Z" fill="#f3f0e8" stroke="none" stroke-width="1"/>
<path d="M370.6 241.2 Q370.9 242.0 370.3 242.6 Q369.7 243.2 368.7 244.2 Q367.8 245.1 366.1 244.5 Q364.4 244.0 363.3 243.5 Q362.2 243.0 361.1 242.1 Q359.9 241.2 361.8 240.7 Q363.8 240.1 365.6 239.7 Q367.5 239.4 368.9 239.9 Q370.3 240.5 370.6 241.2 Z" fill="#f3f0e8" stroke="none" stroke-width="1"/>
<path d="M409.3 252.8 Q410.0 253.5 409.1 253.9 Q408.2 254.2 407.2 254.5 Q406.2 254.7 405.1 254.0 Q404.1 253.3 403.6 252.7 Q403.0 252.1 403.4 251.7 Q403.9 251.3 404.2 250.7 Q404.5 250.1 405.6 250.7 Q406.7 251.4 407.7 251.7 Q408.6 252.1 409.3 252.8 Z" fill="#f3f0e8" stroke="none" stroke-width="1"/>
<path d="M363.4 223.7 Q363.5 224.4 363.2 225.0 Q362.9 225.6 361.8 225.9 Q360.6 226.1 359.1 226.2 Q357.6 226.2 357.6 225.4 Q357.6 224.5 357.6 224.0 Q357.6 223.5 358.2 223.2 Q358.8 222.8 359.9 222.5 Q360.9 222.1 362.2 222.5 Q363.4 222.9 363.4 223.7 Z" fill="#f3f0e8" stroke="none" stroke-width="1"/>
<path d="M441.1 232.9 Q441.9 232.6 442.0 233.3 Q442.1 234.0 441.7 234.8 Q441.3 235.6 440.5 235.8 Q439.7 236.0 439.2 235.9 Q438.8 235.7 438.5 235.4 Q438.3 235.2 438.5 234.7 Q438.6 234.3 438.8 233.6 Q438.9 232.8 439.6 233.0 Q440.2 233.1 441.1 232.9 Z" fill="#f3f0e8" stroke="none" stroke-width="1"/>
<path d="M438.5 243.2 Q439.1 243.0 439.2 243.8 Q439.3 244.6 439.4 245.4 Q439.6 246.3 438.9 247.0 Q438.2 247.7 437.7 247.9 Q437.3 248.2 436.9 248.1 Q436.6 248.0 436.6 247.4 Q436.6 246.8 436.7 246.0 Q436.8 245.3 437.3 244.3 Q437.8 243.3 438.5 243.2 Z" fill="#f3f0e8" stroke="none" stroke-width="1"/>
<path d="M440.2 271.6 Q439.8 272.7 438.8 272.7 Q437.7 272.7 437.0 271.4 Q436.3 270.0 435.8 268.8 Q435.3 267.5 436.0 267.0 Q436.7 266.4 437.0 265.2 Q437.4 263.9 438.3 265.1 Q439.3 266.3 440.2 267.3 Q441.1 268.3 440.8 269.4 Q440.5 270.6 440.2 271.6 Z" fill="#f3f0e8" stroke="none" stroke-width="1"/>
<path d="M418.7 271.4 Q419.1 271.5 419.4 271.8 Q419.8 272.1 418.9 272.6 Q418.1 273.2 417.1 273.6 Q416.0 274.0 415.0 274.1 Q414.0 274.2 414.0 273.7 Q414.0 273.2 415.0 272.6 Q416.0 272.1 416.6 271.5 Q417.2 271.0 417.8 271.1 Q418.4 271.2 418.7 271.4 Z" fill="#f3f0e8" stroke="none" stroke-width="1"/>
<path d="M394.6 259.3 Q395.4 260.2 395.6 261.4 Q395.7 262.6 394.2 263.5 Q392.7 264.4 391.4 265.0 Q390.1 265.6 388.2 265.9 Q386.4 266.1 385.7 264.9 Q385.0 263.7 386.8 262.5 Q388.5 261.3 389.5 260.2 Q390.4 259.1 392.1 258.8 Q393.8 258.4 394.6 259.3 Z" fill="#f3f0e8" stroke="none" stroke-width="1"/>
<path d="M451.8 250.9 Q452.2 251.9 451.3 251.9 Q450.4 251.9 449.4 251.5 Q448.4 251.1 447.8 250.1 Q447.1 249.1 446.9 248.3 Q446.7 247.4 447.5 247.5 Q448.3 247.6 448.8 247.1 Q449.3 246.6 449.8 247.6 Q450.4 248.6 450.9 249.2 Q451.4 249.8 451.8 250.9 Z" fill="#f3f0e8" stroke="none" stroke-width="1"/>
<path d="M417.8 259.8 Q418.2 260.3 418.5 260.9 Q418.8 261.5 417.5 261.9 Q416.1 262.2 415.0 262.9 Q413.9 263.6 413.5 262.9 Q413.1 262.3 413.3 261.8 Q413.5 261.3 413.3 260.6 Q413.1 260.0 414.3 259.5 Q415.4 259.0 416.5 259.1 Q417.5 259.3 417.8 259.8 Z" fill="#f3f0e8" stroke="none" stroke-width="1"/>
<path d="M389.8 218.8 Q389.6 219.1 389.4 219.5 Q389.2 219.8 388.5 219.0 Q387.9 218.3 387.5 217.8 Q387.1 217.3 387.1 217.0 Q387.1 216.6 387.2 216.4 Q387.3 216.2 387.7 216.0 Q388.0 215.8 388.5 216.5 Q389.0 217.3 389.5 217.9 Q390.1 218.5 389.8 218.8 Z" fill="#f3f0e8" stroke="none" stroke-width="1"/>
<path d="M445.6 253.1 Q446.4 253.2 446.5 253.9 Q446.5 254.6 445.7 255.3 Q444.9 256.0 443.9 256.4 Q442.9 256.9 442.0 256.7 Q441.1 256.4 441.5 255.7 Q441.8 254.9 442.1 254.5 Q442.3 254.0 442.9 253.7 Q443.5 253.4 444.1 253.2 Q444.8 253.0 445.6 253.1 Z" fill="#f3f0e8" stroke="none" stroke-width="1"/>
<path d="M404.4 248.0 Q404.3 248.8 403.5 249.1 Q402.7 249.5 401.4 249.8 Q400.1 250.2 398.5 249.1 Q396.9 248.0 396.5 247.1 Q396.2 246.2 396.4 245.6 Q396.6 244.9 397.7 244.8 Q398.7 244.7 400.0 245.3 Q401.2 245.9 402.9 246.6 Q404.5 247.2 404.4 248.0 Z" fill="#f3f0e8" stroke="none" stroke-width="1"/>
<path d="M446.5 206.2 Q446.3 207.0 446.4 208.4 Q446.6 209.8 444.8 209.1 Q443.0 208.4 441.3 207.9 Q439.6 207.5 439.6 206.3 Q439.7 205.1 439.2 203.7 Q438.8 202.3 440.5 202.2 Q442.2 202.1 443.5 203.1 Q444.7 204.1 445.7 204.8 Q446.7 205.5 446.5 206.2 Z" fill="#f3f0e8" stroke="none" stroke-width="1"/>
<path d="M411.9 266.1 Q411.4 266.5 410.5 266.3 Q409.6 266.0 408.7 265.6 Q407.8 265.3 407.0 264.3 Q406.2 263.4 405.5 262.3 Q404.7 261.2 405.6 261.3 Q406.4 261.3 407.1 261.4 Q407.8 261.5 409.0 262.2 Q410.2 262.9 411.3 264.2 Q412.4 265.6 411.9 266.1 Z" fill="#f3f0e8" stroke="none" stroke-width="1"/>
<path d="M365.7 270.4 Q366.0 271.6 365.0 270.5 Q363.9 269.4 363.2 269.0 Q362.5 268.7 362.0 267.6 Q361.5 266.6 361.3 265.8 Q361.0 265.0 361.0 264.2 Q361.1 263.5 362.0 264.2 Q362.9 264.9 363.9 266.0 Q364.9 267.2 365.1 268.2 Q365.3 269.2 365.7 270.4 Z" fill="#f3f0e8" stroke="none" stroke-width="1"/>
<path d="M418.0 203.5 Q418.4 204.1 417.3 204.2 Q416.2 204.2 415.5 204.3 Q414.7 204.5 413.9 204.0 Q413.0 203.5 412.3 203.0 Q411.6 202.6 411.5 202.1 Q411.4 201.6 412.2 201.4 Q413.0 201.2 414.3 201.5 Q415.5 201.9 416.6 202.4 Q417.6 202.9 418.0 203.5 Z" fill="#f3f0e8" stroke="none" stroke-width="1"/>
<path d="M371.5 211.5 Q372.2 211.7 372.6 212.4 Q373.1 213.0 371.6 213.4 Q370.1 213.8 368.6 214.3 Q367.2 214.7 366.8 214.1 Q366.4 213.4 365.7 212.9 Q365.1 212.5 366.2 211.9 Q367.3 211.4 368.4 210.8 Q369.4 210.3 370.1 210.7 Q370.8 211.2 371.5 211.5 Z" fill="#f3f0e8" stroke="none" stroke-width="1"/>
<path d="M449.9 237.9 Q450.3 238.3 450.8 239.0 Q451.2 239.6 449.6 240.0 Q447.9 240.4 446.5 241.3 Q445.0 242.2 443.7 242.0 Q442.3 241.7 442.1 240.9 Q441.9 240.1 443.0 239.1 Q444.1 238.2 445.7 237.8 Q447.2 237.5 448.3 237.5 Q449.4 237.5 449.9 237.9 Z" fill="#f3f0e8" stroke="none" stroke-width="1"/>
<path d="M415.0 241.8 Q413.8 242.2 413.5 243.5 Q413.2 244.8 411.2 244.0 Q409.2 243.2 407.8 241.4 Q406.3 239.6 406.3 238.3 Q406.4 236.9 407.4 236.7 Q408.5 236.5 409.5 236.6 Q410.5 236.8 411.5 237.7 Q412.5 238.6 414.4 240.0 Q416.3 241.3 415.0 241.8 Z" fill="#f3f0e8" stroke="none" stroke-width="1"/>
<path d="M458.0 269.7 Q458.0 270.8 457.0 271.1 Q456.0 271.4 454.4 271.1 Q452.8 270.9 451.4 269.4 Q449.9 268.0 449.1 266.5 Q448.2 265.1 449.4 264.8 Q450.5 264.4 451.7 264.8 Q453.0 265.1 454.1 265.9 Q455.2 266.6 456.6 267.6 Q457.9 268.7 458.0 269.7 Z" fill="#f3f0e8" stroke="none" stroke-width="1"/>
<path d="M413.9 271.8 Q413.9 272.1 414.1 272.5 Q414.2 272.9 413.4 273.0 Q412.6 273.1 411.7 272.9 Q410.7 272.6 410.5 272.2 Q410.3 271.7 410.4 271.4 Q410.5 271.1 410.9 270.8 Q411.3 270.6 412.2 270.6 Q413.1 270.6 413.5 271.0 Q413.9 271.5 413.9 271.8 Z" fill="#f3f0e8" stroke="none" stroke-width="1"/>
<path d="M385.3 238.6 Q386.0 239.9 384.7 239.4 Q383.4 239.0 382.2 239.0 Q381.1 239.0 380.4 237.7 Q379.7 236.3 379.3 235.3 Q378.8 234.4 379.5 234.2 Q380.1 234.0 380.8 233.7 Q381.5 233.4 382.7 234.5 Q383.8 235.5 384.2 236.5 Q384.5 237.4 385.3 238.6 Z" fill="#f3f0e8" stroke="none" stroke-width="1"/>
<path d="M421.7 205.5 Q422.0 206.1 421.3 205.8 Q420.7 205.4 420.1 205.4 Q419.6 205.5 419.2 204.7 Q418.9 204.0 418.4 203.2 Q417.8 202.4 418.1 202.1 Q418.4 201.8 419.1 202.2 Q419.9 202.6 420.6 203.2 Q421.3 203.7 421.4 204.3 Q421.5 204.9 421.7 205.5 Z" fill="#f3f0e8" stroke="none" stroke-width="1"/>
<path d="M425.7 251.5 Q424.5 251.5 423.7 251.1 Q422.8 250.8 421.7 249.8 Q420.6 248.8 420.6 247.1 Q420.6 245.4 420.6 244.0 Q420.6 242.7 421.3 242.3 Q422.0 241.9 423.0 242.7 Q424.0 243.4 424.7 245.2 Q425.3 246.9 426.0 249.2 Q426.8 251.4 425.7 251.5 Z" fill="#f3f0e8" stroke="none" stroke-width="1"/>
<path d="M399.7 220.7 Q399.6 221.3 399.6 221.6 Q399.6 222.0 399.2 222.4 Q398.7 222.8 398.0 223.1 Q397.4 223.4 396.6 223.5 Q395.8 223.6 395.4 223.1 Q395.1 222.7 395.6 222.0 Q396.1 221.4 397.0 221.3 Q397.9 221.1 398.8 220.6 Q399.7 220.2 399.7 220.7 Z" fill="#f3f0e8" stroke="none" stroke-width="1"/>
<path d="M430.2 258.8 Q429.8 259.1 429.6 259.8 Q429.5 260.6 428.5 259.7 Q427.4 258.8 426.7 258.3 Q426.0 257.9 425.7 257.2 Q425.3 256.6 425.4 256.1 Q425.4 255.5 426.3 255.8 Q427.2 256.1 428.4 256.3 Q429.5 256.4 430.1 257.4 Q430.7 258.4 430.2 258.8 Z" fill="#f3f0e8" stroke="none" stroke-width="1"/>
<path d="M398.5 240.8 Q398.8 241.5 398.3 242.0 Q397.7 242.4 396.5 242.3 Q395.3 242.1 394.2 241.4 Q393.1 240.6 392.5 239.7 Q391.8 238.9 392.8 238.7 Q393.8 238.6 394.4 238.5 Q395.0 238.4 395.9 238.6 Q396.8 238.7 397.5 239.4 Q398.2 240.0 398.5 240.8 Z" fill="#f3f0e8" stroke="none" stroke-width="1"/>
<path d="M369.3 257.6 Q369.3 257.9 368.8 258.0 Q368.4 258.1 367.9 258.1 Q367.4 258.1 366.8 257.9 Q366.2 257.7 365.6 257.3 Q364.9 256.9 364.9 256.5 Q364.9 256.1 365.7 256.1 Q366.5 256.1 367.2 256.4 Q367.9 256.7 368.6 257.0 Q369.3 257.3 369.3 257.6 Z" fill="#f3f0e8" stroke="none" stroke-width="1"/>
<path d="M363.6 249.8 Q364.1 249.9 364.0 250.5 Q363.9 251.1 363.4 251.7 Q363.0 252.2 362.4 252.5 Q361.9 252.9 361.5 252.9 Q361.1 252.9 360.3 253.0 Q359.6 253.1 359.9 252.4 Q360.3 251.6 360.9 251.1 Q361.6 250.6 362.3 250.1 Q363.1 249.7 363.6 249.8 Z" fill="#f3f0e8" stroke="none" stroke-width="1"/>
<path d="M363.1 256.1 Q363.6 256.8 363.6 257.7 Q363.5 258.5 362.8 259.6 Q362.0 260.6 360.6 261.3 Q359.1 261.9 358.2 261.7 Q357.3 261.5 356.6 261.0 Q355.9 260.6 357.1 259.6 Q358.2 258.7 358.9 257.8 Q359.6 256.9 361.1 256.1 Q362.6 255.4 363.1 256.1 Z" fill="#f3f0e8" stroke="none" stroke-width="1"/>
<path d="M404.9 210.6 Q405.2 211.3 405.2 212.4 Q405.2 213.5 403.7 212.9 Q402.1 212.4 400.5 212.5 Q398.9 212.5 398.0 211.4 Q397.1 210.3 398.4 209.7 Q399.8 209.2 400.4 208.8 Q401.1 208.3 402.3 208.2 Q403.6 208.0 404.1 209.0 Q404.6 209.9 404.9 210.6 Z" fill="#f3f0e8" stroke="none" stroke-width="1"/>
<path d="M384.6 252.4 Q385.0 252.8 384.4 253.1 Q383.9 253.3 383.2 253.4 Q382.5 253.4 381.8 253.3 Q381.2 253.1 380.6 252.7 Q380.1 252.4 379.8 251.9 Q379.5 251.3 380.4 251.2 Q381.3 251.1 382.1 251.2 Q382.9 251.4 383.5 251.6 Q384.1 251.9 384.6 252.4 Z" fill="#f3f0e8" stroke="none" stroke-width="1"/>
<path d="M458.5 239.3 Q459.3 239.7 458.5 239.9 Q457.7 240.0 456.9 240.3 Q456.1 240.6 455.0 240.1 Q453.8 239.5 452.8 239.1 Q451.7 238.7 451.8 238.3 Q452.0 237.8 452.8 237.6 Q453.5 237.3 455.1 237.5 Q456.6 237.8 457.1 238.3 Q457.7 238.8 458.5 239.3 Z" fill="#f3f0e8" stroke="none" stroke-width="1"/>
<path d="M375.6 266.7 Q376.2 267.0 376.5 267.6 Q376.7 268.3 376.9 269.4 Q377.1 270.6 376.0 271.8 Q374.8 272.9 374.1 273.2 Q373.3 273.6 372.3 274.0 Q371.3 274.5 371.8 272.9 Q372.4 271.3 373.0 270.3 Q373.6 269.3 374.3 267.8 Q375.0 266.3 375.6 266.7 Z" fill="#f3f0e8" stroke="none" stroke-width="1"/>
<path d="M368.9 228.6 Q369.2 228.9 368.9 229.3 Q368.6 229.7 367.9 230.2 Q367.3 230.7 365.7 230.8 Q364.1 231.0 363.1 230.7 Q362.0 230.3 362.9 229.8 Q363.8 229.3 363.8 228.7 Q363.8 228.2 365.3 228.1 Q366.8 227.9 367.7 228.1 Q368.6 228.3 368.9 228.6 Z" fill="#f3f0e8" stroke="none" stroke-width="1"/>
<path d="M456.4 258.7 Q457.2 259.4 456.2 259.8 Q455.2 260.2 454.3 260.6 Q453.4 261.0 452.2 260.6 Q451.0 260.2 449.8 259.8 Q448.6 259.3 449.3 258.7 Q449.9 258.1 450.8 257.8 Q451.6 257.5 452.8 257.0 Q454.0 256.5 454.8 257.3 Q455.6 258.1 456.4 258.7 Z" fill="#f3f0e8" stroke="none" stroke-width="1"/>
<path d="M466.0 266.1 Q466.6 267.0 465.6 266.5 Q464.5 266.0 463.8 265.8 Q463.0 265.7 461.9 264.7 Q460.8 263.8 460.5 263.1 Q460.3 262.4 460.2 261.8 Q460.1 261.3 461.3 262.0 Q462.4 262.7 463.2 263.3 Q463.9 264.0 464.6 264.6 Q465.3 265.3 466.0 266.1 Z" fill="#f3f0e8" stroke="none" stroke-width="1"/>
<path d="M425.9 196.6 Q426.1 197.3 425.5 197.7 Q424.9 198.1 424.0 197.7 Q423.2 197.2 422.7 197.0 Q422.2 196.7 421.3 196.2 Q420.4 195.7 420.9 195.3 Q421.4 194.8 422.0 194.6 Q422.6 194.3 423.4 194.7 Q424.1 195.0 424.9 195.5 Q425.7 195.9 425.9 196.6 Z" fill="#f3f0e8" stroke="none" stroke-width="1"/>
<path d="M398.4 270.4 Q399.4 270.2 398.9 271.0 Q398.4 271.8 398.1 272.7 Q397.9 273.6 396.5 274.2 Q395.2 274.8 394.4 274.8 Q393.6 274.8 393.1 274.5 Q392.6 274.3 392.9 273.4 Q393.2 272.5 394.5 271.9 Q395.8 271.3 396.6 271.0 Q397.4 270.7 398.4 270.4 Z" fill="#f3f0e8" stroke="none" stroke-width="1"/>
<path d="M392.5 253.7 Q392.6 254.3 391.8 254.1 Q391.1 253.9 390.5 253.6 Q389.9 253.3 389.1 252.7 Q388.4 252.1 388.1 251.4 Q387.9 250.7 388.6 250.8 Q389.4 250.9 389.7 250.7 Q390.1 250.6 390.8 251.1 Q391.5 251.6 392.0 252.3 Q392.5 253.0 392.5 253.7 Z" fill="#f3f0e8" stroke="none" stroke-width="1"/>
<path d="M400.9 236.3 Q400.8 236.8 400.7 237.1 Q400.5 237.5 399.8 237.5 Q399.2 237.5 398.5 237.4 Q397.9 237.2 397.2 236.9 Q396.5 236.5 396.7 236.0 Q396.9 235.6 397.7 235.6 Q398.4 235.6 399.1 235.3 Q399.7 235.1 400.4 235.5 Q401.0 235.9 400.9 236.3 Z" fill="#f3f0e8" stroke="none" stroke-width="1"/>
<path d="M405.2 195.1 Q405.7 195.3 405.2 195.7 Q404.6 196.1 403.8 196.5 Q403.1 196.8 401.8 197.0 Q400.5 197.2 399.3 197.1 Q398.0 197.0 398.4 196.5 Q398.9 196.0 399.8 195.6 Q400.6 195.3 401.7 195.0 Q402.8 194.7 403.8 194.7 Q404.8 194.8 405.2 195.1 Z" fill="#f3f0e8" stroke="none" stroke-width="1"/>
<path d="M368.3 224.3 Q368.5 224.7 368.0 224.7 Q367.5 224.6 367.1 224.5 Q366.6 224.3 366.0 224.0 Q365.4 223.6 365.1 223.1 Q364.8 222.5 365.2 222.3 Q365.6 222.1 366.1 222.2 Q366.7 222.4 367.3 222.5 Q368.0 222.7 368.0 223.3 Q368.1 223.8 368.3 224.3 Z" fill="#f3f0e8" stroke="none" stroke-width="1"/>
<path d="M400.8 226.9 Q401.1 227.2 401.1 227.6 Q401.0 227.9 400.2 228.3 Q399.4 228.7 398.4 228.9 Q397.5 229.1 397.1 228.8 Q396.8 228.5 396.4 228.2 Q396.0 228.0 396.8 227.7 Q397.7 227.4 398.3 227.2 Q398.9 227.0 399.7 226.8 Q400.4 226.7 400.8 226.9 Z" fill="#f3f0e8" stroke="none" stroke-width="1"/>
<path d="M403.4 219.4 Q404.3 220.2 403.4 220.2 Q402.5 220.3 401.7 219.9 Q400.8 219.5 400.2 219.1 Q399.6 218.7 398.7 218.0 Q397.7 217.3 398.2 217.0 Q398.6 216.6 399.5 216.9 Q400.4 217.1 401.3 217.3 Q402.2 217.4 402.4 218.0 Q402.6 218.6 403.4 219.4 Z" fill="#f3f0e8" stroke="none" stroke-width="1"/>
<path d="M384.0 226.1 Q384.6 226.3 384.6 226.9 Q384.6 227.5 383.8 227.9 Q383.1 228.4 382.4 228.3 Q381.7 228.3 380.8 228.5 Q379.8 228.8 380.2 228.1 Q380.5 227.4 380.4 226.9 Q380.3 226.3 381.2 225.8 Q382.1 225.4 382.7 225.7 Q383.4 225.9 384.0 226.1 Z" fill="#f3f0e8" stroke="none" stroke-width="1"/>
<path d="M365.6 194.6 Q365.6 195.1 365.8 195.8 Q366.1 196.5 364.8 196.7 Q363.5 196.9 362.2 196.6 Q360.9 196.3 360.1 195.8 Q359.4 195.2 359.4 194.6 Q359.5 193.9 360.4 193.6 Q361.3 193.2 362.5 193.3 Q363.7 193.5 364.6 193.8 Q365.6 194.1 365.6 194.6 Z" fill="#f3f0e8" stroke="none" stroke-width="1"/>
<path d="M380.3 215.3 Q381.2 215.1 381.2 216.3 Q381.2 217.4 381.6 218.5 Q381.9 219.5 380.9 220.7 Q380.0 221.9 379.0 222.2 Q378.1 222.6 377.3 222.6 Q376.4 222.5 376.5 221.2 Q376.7 219.9 377.0 218.5 Q377.3 217.1 378.3 216.3 Q379.4 215.6 380.3 215.3 Z" fill="#f3f0e8" stroke="none" stroke-width="1"/>
<path d="M463.2 254.5 Q463.6 255.3 463.0 255.9 Q462.4 256.5 461.3 256.2 Q460.2 255.9 459.7 255.6 Q459.1 255.3 458.5 254.9 Q457.8 254.6 457.8 254.0 Q457.7 253.4 458.4 252.9 Q459.0 252.4 459.9 252.9 Q460.7 253.4 461.8 253.6 Q462.8 253.8 463.2 254.5 Z" fill="#f3f0e8" stroke="none" stroke-width="1"/>
<path d="M379.5 193.6 Q379.7 194.3 379.4 195.0 Q379.1 195.6 378.2 196.4 Q377.3 197.2 375.6 197.6 Q373.9 197.9 373.5 197.2 Q373.1 196.6 372.7 196.1 Q372.3 195.7 372.7 194.9 Q373.0 194.1 374.6 193.7 Q376.1 193.3 377.8 193.1 Q379.4 192.8 379.5 193.6 Z" fill="#f3f0e8" stroke="none" stroke-width="1"/>
<path d="M417.6 208.4 Q418.1 208.4 418.1 209.0 Q418.0 209.5 417.8 210.2 Q417.7 210.8 417.0 211.0 Q416.3 211.2 415.7 211.5 Q415.1 211.8 415.1 211.4 Q415.1 211.0 415.2 210.6 Q415.3 210.2 415.7 209.8 Q416.0 209.4 416.6 208.9 Q417.1 208.4 417.6 208.4 Z" fill="#f3f0e8" stroke="none" stroke-width="1"/>
<path d="M396.7 199.6 Q397.5 199.1 397.3 199.9 Q397.1 200.8 397.0 201.5 Q396.8 202.1 396.2 202.4 Q395.5 202.7 395.0 203.0 Q394.5 203.2 394.4 202.9 Q394.2 202.6 393.7 202.2 Q393.3 201.9 393.9 201.0 Q394.6 200.1 395.2 200.1 Q395.9 200.0 396.7 199.6 Z" fill="#f3f0e8" stroke="none" stroke-width="1"/>
<path d="M440.8 263.2 Q441.2 264.5 440.4 264.6 Q439.6 264.7 438.4 263.6 Q437.3 262.6 436.5 261.0 Q435.8 259.4 435.9 258.5 Q436.0 257.5 436.7 257.5 Q437.3 257.6 438.1 257.9 Q438.8 258.3 439.5 259.3 Q440.1 260.3 440.2 261.1 Q440.4 261.9 440.8 263.2 Z" fill="#f3f0e8" stroke="none" stroke-width="1"/>
<path d="M464.5 249.9 Q465.1 250.6 464.0 250.6 Q462.9 250.7 462.2 251.0 Q461.6 251.4 460.7 250.9 Q459.7 250.5 459.2 249.8 Q458.6 249.1 459.2 248.7 Q459.9 248.3 460.3 247.9 Q460.7 247.4 461.7 247.7 Q462.7 247.9 463.3 248.5 Q463.9 249.1 464.5 249.9 Z" fill="#f3f0e8" stroke="none" stroke-width="1"/>
<path d="M407.8 199.8 Q408.3 199.8 408.2 200.3 Q408.1 200.7 407.6 201.2 Q407.2 201.8 406.5 202.1 Q405.7 202.5 405.3 202.4 Q404.9 202.3 404.7 202.1 Q404.6 201.9 404.6 201.4 Q404.7 201.0 405.4 200.4 Q406.0 199.9 406.6 199.9 Q407.3 199.8 407.8 199.8 Z" fill="#f3f0e8" stroke="none" stroke-width="1"/>
<path d="M413.1 196.4 Q412.9 197.0 412.6 197.6 Q412.2 198.2 411.3 197.7 Q410.3 197.1 409.5 196.7 Q408.8 196.2 408.3 195.4 Q407.8 194.6 408.5 194.4 Q409.2 194.1 409.7 193.7 Q410.3 193.3 411.1 193.9 Q412.0 194.6 412.6 195.2 Q413.3 195.9 413.1 196.4 Z" fill="#f3f0e8" stroke="none" stroke-width="1"/>
<path d="M454.8 232.1 Q455.0 232.6 454.9 233.3 Q454.9 233.9 453.9 234.3 Q452.9 234.7 452.0 234.2 Q451.0 233.8 450.5 233.3 Q450.0 232.9 449.8 232.2 Q449.5 231.6 450.3 231.3 Q451.2 231.0 452.2 230.6 Q453.2 230.1 453.9 230.9 Q454.5 231.6 454.8 232.1 Z" fill="#f3f0e8" stroke="none" stroke-width="1"/>
<path d="M449.9 226.4 Q450.5 226.7 450.3 227.1 Q450.0 227.6 449.4 228.2 Q448.8 228.7 447.8 228.5 Q446.8 228.3 446.0 228.0 Q445.3 227.6 445.6 227.1 Q445.9 226.5 446.6 226.3 Q447.2 226.0 447.8 225.8 Q448.4 225.5 448.9 225.8 Q449.3 226.1 449.9 226.4 Z" fill="#f3f0e8" stroke="none" stroke-width="1"/>
<path d="M421.1 258.3 Q420.9 258.7 420.5 258.8 Q420.1 258.8 419.5 258.3 Q419.0 257.7 418.3 257.0 Q417.5 256.2 417.6 255.5 Q417.6 254.8 418.2 254.9 Q418.8 255.1 419.2 255.3 Q419.7 255.5 420.0 256.0 Q420.4 256.6 420.9 257.3 Q421.3 257.9 421.1 258.3 Z" fill="#f3f0e8" stroke="none" stroke-width="1"/>
<path d="M364.0 206.6 Q364.3 207.2 364.3 207.9 Q364.3 208.6 363.7 209.5 Q363.0 210.4 361.6 210.5 Q360.1 210.7 359.2 210.1 Q358.3 209.5 358.1 208.7 Q357.9 207.8 358.7 207.1 Q359.5 206.3 360.6 205.9 Q361.7 205.5 362.7 205.8 Q363.7 206.0 364.0 206.6 Z" fill="#f3f0e8" stroke="none" stroke-width="1"/>
<path d="M393.3 201.0 Q393.3 201.7 392.5 201.1 Q391.7 200.6 391.1 200.4 Q390.5 200.1 389.7 199.2 Q388.9 198.2 389.0 197.7 Q389.1 197.2 389.5 197.3 Q390.0 197.4 390.4 197.6 Q390.8 197.8 391.3 198.3 Q391.9 198.7 392.5 199.5 Q393.2 200.4 393.3 201.0 Z" fill="#f3f0e8" stroke="none" stroke-width="1"/>
<path d="M407.6 271.0 Q407.9 271.6 407.7 272.2 Q407.5 272.8 406.4 273.0 Q405.3 273.2 403.9 273.8 Q402.5 274.4 402.5 273.4 Q402.4 272.5 402.0 272.0 Q401.6 271.4 402.2 270.8 Q402.7 270.1 404.0 270.1 Q405.3 270.0 406.3 270.2 Q407.4 270.5 407.6 271.0 Z" fill="#f3f0e8" stroke="none" stroke-width="1"/>
<path d="M445.9 274.2 Q446.1 274.9 445.3 275.2 Q444.5 275.5 443.5 275.1 Q442.6 274.8 442.0 274.4 Q441.4 274.0 441.1 273.6 Q440.8 273.2 440.8 272.8 Q440.7 272.3 441.1 271.8 Q441.5 271.2 442.5 271.9 Q443.5 272.5 444.6 273.0 Q445.7 273.4 445.9 274.2 Z" fill="#f3f0e8" stroke="none" stroke-width="1"/>
<path d="M378.2 257.1 Q377.8 257.6 377.2 257.5 Q376.5 257.4 375.9 256.6 Q375.4 255.7 374.6 255.0 Q373.9 254.3 374.2 253.8 Q374.5 253.3 374.5 252.4 Q374.6 251.5 375.5 251.9 Q376.3 252.4 376.8 253.5 Q377.2 254.6 377.8 255.6 Q378.5 256.5 378.2 257.1 Z" fill="#f3f0e8" stroke="none" stroke-width="1"/>
<path d="M430.5 222.1 Q431.0 222.1 431.1 222.6 Q431.2 223.0 430.5 223.6 Q429.9 224.2 429.1 224.2 Q428.4 224.3 427.8 224.3 Q427.2 224.4 426.8 224.2 Q426.5 223.9 427.2 223.4 Q427.8 223.0 428.3 222.5 Q428.8 222.0 429.3 222.0 Q429.9 222.1 430.5 222.1 Z" fill="#f3f0e8" stroke="none" stroke-width="1"/>
<path d="M458.6 249.8 Q458.7 250.3 458.6 250.7 Q458.5 251.1 457.8 251.7 Q457.2 252.3 456.2 252.0 Q455.1 251.8 454.0 251.7 Q452.9 251.7 452.9 251.2 Q452.9 250.6 453.7 250.2 Q454.4 249.7 455.5 249.5 Q456.6 249.3 457.5 249.3 Q458.5 249.4 458.6 249.8 Z" fill="#f3f0e8" stroke="none" stroke-width="1"/>
<path d="M402.1 268.6 Q402.3 269.3 401.9 269.3 Q401.5 269.2 400.9 268.6 Q400.2 268.1 399.6 267.2 Q399.0 266.3 399.1 265.8 Q399.1 265.4 399.4 265.3 Q399.6 265.2 400.0 265.2 Q400.4 265.3 401.0 266.1 Q401.5 266.9 401.7 267.4 Q401.8 268.0 402.1 268.6 Z" fill="#f3f0e8" stroke="none" stroke-width="1"/>
<path d="M376.3 236.2 Q377.2 236.5 377.4 237.4 Q377.7 238.3 377.2 239.3 Q376.6 240.4 375.8 241.1 Q375.0 241.9 374.3 241.7 Q373.6 241.5 372.6 241.4 Q371.7 241.4 371.7 240.3 Q371.7 239.3 372.4 238.2 Q373.1 237.2 374.2 236.5 Q375.3 235.8 376.3 236.2 Z" fill="#f3f0e8" stroke="none" stroke-width="1"/>
<path d="M446.5 264.7 Q446.6 265.1 446.6 265.4 Q446.6 265.7 446.4 266.2 Q446.1 266.7 445.4 266.8 Q444.6 266.9 443.8 267.0 Q443.0 267.0 443.4 266.5 Q443.9 265.9 444.0 265.5 Q444.1 265.2 444.6 264.7 Q445.2 264.3 445.8 264.3 Q446.5 264.4 446.5 264.7 Z" fill="#f3f0e8" stroke="none" stroke-width="1"/>
<path d="M387.2 207.4 Q387.3 208.0 387.6 208.0 Q388.0 208.0 387.7 208.7 Q387.5 209.4 386.9 210.0 Q386.4 210.7 385.8 211.0 Q385.3 211.2 384.9 211.2 Q384.6 211.2 385.0 210.3 Q385.5 209.5 385.7 208.9 Q385.9 208.3 386.5 207.6 Q387.1 206.9 387.2 207.4 Z" fill="#f3f0e8" stroke="none" stroke-width="1"/>
<path d="M465.7 271.0 Q465.5 271.2 465.2 271.2 Q464.9 271.3 464.5 270.8 Q464.1 270.4 463.7 269.9 Q463.4 269.4 463.3 268.9 Q463.2 268.4 463.3 268.0 Q463.4 267.5 464.0 268.0 Q464.6 268.5 465.1 269.0 Q465.6 269.5 465.8 270.1 Q465.9 270.8 465.7 271.0 Z" fill="#f3f0e8" stroke="none" stroke-width="1"/>
<path d="M433.1 241.5 Q433.0 241.7 432.8 241.8 Q432.7 242.0 432.2 242.1 Q431.7 242.2 431.0 241.9 Q430.3 241.6 429.7 241.3 Q429.1 241.0 429.2 240.7 Q429.3 240.4 430.1 240.5 Q430.8 240.5 431.5 240.6 Q432.1 240.6 432.7 240.9 Q433.2 241.3 433.1 241.5 Z" fill="#f3f0e8" stroke="none" stroke-width="1"/>
<path d="M368.6 247.7 Q369.2 247.7 369.0 248.4 Q368.9 249.1 368.7 249.6 Q368.4 250.1 368.0 250.4 Q367.5 250.7 367.0 250.8 Q366.6 250.9 366.3 250.6 Q366.1 250.3 366.1 249.9 Q366.1 249.4 366.5 248.9 Q366.8 248.5 367.4 248.1 Q368.0 247.7 368.6 247.7 Z" fill="#f3f0e8" stroke="none" stroke-width="1"/>
<path d="M427.8 270.8 Q428.2 271.1 428.2 271.6 Q428.2 272.2 427.7 272.7 Q427.2 273.3 426.5 273.9 Q425.9 274.5 425.3 274.7 Q424.6 274.8 424.5 274.4 Q424.4 273.9 424.8 273.4 Q425.2 272.8 425.5 272.2 Q425.8 271.6 426.6 271.1 Q427.4 270.6 427.8 270.8 Z" fill="#f3f0e8" stroke="none" stroke-width="1"/>
<path d="M421.1 227.6 Q421.5 227.9 421.4 228.3 Q421.2 228.8 420.5 229.0 Q419.9 229.3 418.9 229.4 Q418.0 229.5 417.3 229.2 Q416.7 228.8 417.0 228.3 Q417.4 227.8 417.6 227.3 Q417.8 226.8 418.8 226.6 Q419.7 226.4 420.2 226.9 Q420.6 227.3 421.1 227.6 Z" fill="#f3f0e8" stroke="none" stroke-width="1"/>
<path d="M439.8 196.4 Q440.5 196.3 441.2 196.7 Q442.0 197.0 441.4 198.2 Q440.9 199.5 440.1 200.5 Q439.2 201.6 438.3 201.7 Q437.4 201.8 436.4 201.8 Q435.5 201.7 436.3 200.4 Q437.0 199.0 437.4 198.3 Q437.9 197.6 438.5 197.0 Q439.1 196.4 439.8 196.4 Z" fill="#f3f0e8" stroke="none" stroke-width="1"/>
<path d="M415.3 217.1 Q414.6 217.6 413.9 217.7 Q413.3 217.9 412.3 217.5 Q411.4 217.1 410.5 216.4 Q409.5 215.6 408.7 214.5 Q407.9 213.5 408.8 213.4 Q409.8 213.3 410.6 213.5 Q411.4 213.7 412.5 214.1 Q413.6 214.4 414.9 215.5 Q416.1 216.7 415.3 217.1 Z" fill="#f3f0e8" stroke="none" stroke-width="1"/>
<path d="M412.9 208.9 Q413.1 209.2 412.9 209.4 Q412.7 209.7 412.2 210.1 Q411.6 210.4 410.9 210.1 Q410.3 209.9 409.5 209.9 Q408.7 209.9 408.7 209.5 Q408.8 209.2 409.4 209.0 Q410.1 208.8 410.7 208.7 Q411.2 208.6 412.0 208.6 Q412.8 208.6 412.9 208.9 Z" fill="#f3f0e8" stroke="none" stroke-width="1"/>
<path d="M397.3 255.8 Q397.2 256.1 396.9 256.3 Q396.6 256.5 396.1 256.4 Q395.5 256.3 394.8 256.2 Q394.2 256.1 393.8 255.8 Q393.5 255.5 393.3 255.1 Q393.2 254.8 393.9 254.8 Q394.7 254.9 395.3 254.9 Q396.0 254.9 396.7 255.2 Q397.4 255.5 397.3 255.8 Z" fill="#f3f0e8" stroke="none" stroke-width="1"/>
<path d="M401.9 254.3 Q402.5 254.2 402.6 254.6 Q402.8 255.0 402.3 255.6 Q401.8 256.2 401.2 256.5 Q400.5 256.9 400.0 257.0 Q399.4 257.1 399.2 256.9 Q399.0 256.6 399.2 256.1 Q399.4 255.6 400.0 255.2 Q400.5 254.9 400.9 254.7 Q401.3 254.5 401.9 254.3 Z" fill="#f3f0e8" stroke="none" stroke-width="1"/>
<path d="M373.0 261.0 Q374.0 260.9 374.1 261.8 Q374.3 262.7 373.6 263.7 Q373.0 264.7 372.1 265.7 Q371.1 266.6 370.5 266.1 Q369.9 265.6 369.2 265.4 Q368.6 265.3 368.6 264.4 Q368.6 263.6 369.3 262.5 Q369.9 261.5 371.0 261.3 Q372.0 261.1 373.0 261.0 Z" fill="#f3f0e8" stroke="none" stroke-width="1"/>
<path d="M359.6 233.7 Q359.6 234.1 359.4 234.4 Q359.1 234.7 358.4 234.4 Q357.7 234.1 356.6 233.6 Q355.5 233.1 355.8 232.6 Q356.1 232.0 356.3 231.7 Q356.5 231.3 357.1 231.5 Q357.7 231.6 358.7 231.7 Q359.7 231.8 359.6 232.5 Q359.6 233.3 359.6 233.7 Z" fill="#f3f0e8" stroke="none" stroke-width="1"/>
<path d="M446.8 198.5 Q446.5 198.7 446.2 199.0 Q446.0 199.3 445.6 198.4 Q445.2 197.6 445.1 197.0 Q444.9 196.4 444.5 195.4 Q444.1 194.3 444.6 194.6 Q445.2 194.8 445.6 195.3 Q446.0 195.7 446.6 196.4 Q447.2 197.0 447.1 197.7 Q447.0 198.3 446.8 198.5 Z" fill="#f3f0e8" stroke="none" stroke-width="1"/>
<path d="M425.4 261.6 Q425.3 262.2 424.8 262.4 Q424.2 262.7 423.7 263.0 Q423.1 263.3 422.3 263.0 Q421.6 262.7 421.2 262.2 Q420.9 261.7 420.8 261.2 Q420.8 260.6 421.5 260.5 Q422.3 260.4 423.0 260.5 Q423.6 260.5 424.5 260.7 Q425.4 260.9 425.4 261.6 Z" fill="#f3f0e8" stroke="none" stroke-width="1"/>
<path d="M429.5 238.3 Q429.4 238.6 429.0 238.7 Q428.7 238.8 428.2 238.7 Q427.7 238.7 427.2 238.5 Q426.7 238.3 425.9 238.0 Q425.0 237.6 425.5 237.4 Q426.0 237.2 426.4 237.1 Q426.8 236.9 427.6 237.0 Q428.4 237.1 429.0 237.5 Q429.7 237.9 429.5 238.3 Z" fill="#f3f0e8" stroke="none" stroke-width="1"/>
<path d="M452.1 198.8 Q452.6 198.9 452.2 199.3 Q451.8 199.7 451.3 200.1 Q450.8 200.6 449.8 200.6 Q448.8 200.7 448.3 200.4 Q447.9 200.1 447.4 199.8 Q447.0 199.5 447.8 199.1 Q448.5 198.7 449.4 198.6 Q450.2 198.5 450.9 198.6 Q451.5 198.6 452.1 198.8 Z" fill="#f3f0e8" stroke="none" stroke-width="1"/>
<path d="M412.0 254.5 Q412.5 254.3 412.5 254.9 Q412.5 255.4 412.4 256.1 Q412.4 256.7 411.7 257.1 Q411.1 257.5 410.6 258.2 Q410.0 258.8 409.8 258.6 Q409.5 258.3 409.8 257.6 Q410.2 256.9 410.5 256.4 Q410.7 255.9 411.1 255.3 Q411.6 254.7 412.0 254.5 Z" fill="#f3f0e8" stroke="none" stroke-width="1"/>
<path d="M362.4 246.1 Q362.1 246.5 362.3 246.8 Q362.4 247.2 361.3 247.1 Q360.1 247.0 358.8 247.2 Q357.4 247.4 357.4 246.9 Q357.3 246.4 357.3 246.1 Q357.4 245.8 357.8 245.5 Q358.2 245.2 359.4 245.1 Q360.7 244.9 361.7 245.3 Q362.8 245.7 362.4 246.1 Z" fill="#f3f0e8" stroke="none" stroke-width="1"/>
<path d="M361.7 200.4 Q362.0 201.0 362.2 201.8 Q362.3 202.6 361.2 202.9 Q360.2 203.3 358.9 203.8 Q357.7 204.3 357.0 203.6 Q356.2 202.9 356.5 202.1 Q356.8 201.3 357.1 200.6 Q357.5 199.9 358.5 199.6 Q359.5 199.2 360.5 199.5 Q361.4 199.8 361.7 200.4 Z" fill="#f3f0e8" stroke="none" stroke-width="1"/>
<path d="M447.6 232.1 Q447.5 232.4 447.5 232.6 Q447.5 232.8 446.9 233.2 Q446.3 233.5 445.5 233.6 Q444.6 233.6 444.1 233.6 Q443.5 233.5 443.6 233.2 Q443.8 233.0 444.0 232.7 Q444.3 232.4 445.1 232.2 Q445.9 232.0 446.8 231.9 Q447.6 231.8 447.6 232.1 Z" fill="#f3f0e8" stroke="none" stroke-width="1"/>
<path d="M420.0 239.9 Q419.7 240.1 419.5 240.5 Q419.3 240.9 418.6 240.6 Q417.8 240.3 417.2 239.7 Q416.6 239.1 416.6 238.6 Q416.6 238.1 416.3 237.3 Q416.0 236.6 416.9 236.7 Q417.8 236.9 418.6 237.6 Q419.4 238.2 419.9 238.9 Q420.4 239.6 420.0 239.9 Z" fill="#f3f0e8" stroke="none" stroke-width="1"/>
<path d="M375.9 230.9 Q376.5 230.7 376.4 231.2 Q376.3 231.7 375.9 232.4 Q375.5 233.1 374.8 233.6 Q374.2 234.1 373.3 234.8 Q372.5 235.5 372.7 234.9 Q372.8 234.3 372.9 233.8 Q373.0 233.3 373.6 232.7 Q374.2 232.0 374.8 231.6 Q375.4 231.2 375.9 230.9 Z" fill="#f3f0e8" stroke="none" stroke-width="1"/>
<path d="M415.0 269.1 Q414.6 269.4 414.1 269.0 Q413.5 268.7 413.0 268.5 Q412.5 268.3 412.1 267.5 Q411.7 266.7 411.6 265.9 Q411.5 265.2 412.1 265.4 Q412.7 265.7 413.1 265.7 Q413.5 265.8 413.9 266.4 Q414.3 267.0 414.8 267.9 Q415.3 268.8 415.0 269.1 Z" fill="#f3f0e8" stroke="none" stroke-width="1"/>
<path d="M396.5 228.8 Q396.8 229.0 397.0 229.4 Q397.3 229.8 396.1 230.4 Q395.0 231.0 393.6 231.4 Q392.2 231.8 391.4 231.6 Q390.7 231.4 390.3 231.1 Q390.0 230.7 390.9 230.1 Q391.9 229.5 393.0 229.2 Q394.1 228.9 395.2 228.7 Q396.2 228.5 396.5 228.8 Z" fill="#f3f0e8" stroke="none" stroke-width="1"/>
<path d="M435.7 271.7 Q436.2 272.2 435.8 272.7 Q435.5 273.2 434.5 273.5 Q433.6 273.8 432.6 273.5 Q431.7 273.2 430.6 273.0 Q429.5 272.8 430.2 272.3 Q430.9 271.9 431.3 271.5 Q431.7 271.2 432.6 271.0 Q433.4 270.8 434.3 271.0 Q435.2 271.3 435.7 271.7 Z" fill="#f3f0e8" stroke="none" stroke-width="1"/>
<path d="M447.7 257.9 Q448.4 257.6 448.2 258.4 Q448.0 259.2 447.6 259.9 Q447.3 260.6 446.6 261.1 Q446.0 261.6 445.5 261.8 Q445.0 261.9 444.3 262.2 Q443.6 262.4 444.2 261.5 Q444.8 260.6 445.1 259.7 Q445.4 258.8 446.2 258.5 Q447.0 258.1 447.7 257.9 Z" fill="#f3f0e8" stroke="none" stroke-width="1"/>
<path d="M418.0 193.4 Q418.7 193.1 418.6 193.7 Q418.5 194.4 417.8 194.9 Q417.1 195.4 416.6 195.9 Q416.1 196.4 415.4 196.7 Q414.6 197.0 414.3 196.6 Q414.0 196.3 414.2 195.6 Q414.4 194.9 415.3 194.5 Q416.2 194.2 416.7 193.9 Q417.2 193.6 418.0 193.4 Z" fill="#f3f0e8" stroke="none" stroke-width="1"/>
<path d="M391.4 208.4 Q391.2 208.8 390.9 208.7 Q390.5 208.6 390.2 208.0 Q389.8 207.3 389.5 206.6 Q389.3 205.9 389.5 205.6 Q389.7 205.3 389.8 204.6 Q389.9 204.0 390.4 204.7 Q390.8 205.5 391.3 206.1 Q391.8 206.8 391.7 207.4 Q391.6 208.0 391.4 208.4 Z" fill="#f3f0e8" stroke="none" stroke-width="1"/>
<path d="M439.4 240.5 Q439.6 241.1 438.9 241.2 Q438.2 241.3 437.3 241.2 Q436.5 241.2 435.7 240.5 Q434.8 239.9 434.2 239.2 Q433.6 238.6 434.3 238.4 Q435.0 238.3 435.5 238.2 Q436.0 238.1 436.7 238.5 Q437.4 238.9 438.3 239.4 Q439.2 239.9 439.4 240.5 Z" fill="#f3f0e8" stroke="none" stroke-width="1"/>
<path d="M363.0 212.4 Q363.6 211.8 363.4 212.7 Q363.3 213.5 363.4 214.0 Q363.6 214.5 363.1 215.2 Q362.7 215.8 362.3 215.8 Q361.8 215.7 361.6 215.6 Q361.3 215.5 361.3 215.0 Q361.3 214.6 361.4 214.1 Q361.6 213.6 362.0 213.3 Q362.4 213.0 363.0 212.4 Z" fill="#f3f0e8" stroke="none" stroke-width="1"/>
<path d="M462.7 275.7 Q462.2 275.8 462.0 276.1 Q461.9 276.4 461.2 275.8 Q460.5 275.1 459.8 274.5 Q459.1 273.8 459.1 273.3 Q459.1 272.8 459.0 272.2 Q459.0 271.7 459.7 271.9 Q460.4 272.1 461.1 273.1 Q461.7 274.1 462.4 274.9 Q463.1 275.7 462.7 275.7 Z" fill="#f3f0e8" stroke="none" stroke-width="1"/>
<path d="M409.6 247.3 Q409.5 247.7 409.5 248.2 Q409.5 248.7 408.7 248.5 Q407.9 248.2 407.2 247.9 Q406.5 247.5 406.0 247.0 Q405.4 246.5 406.1 246.3 Q406.8 246.2 407.1 245.9 Q407.4 245.6 408.1 245.8 Q408.8 246.1 409.2 246.5 Q409.6 247.0 409.6 247.3 Z" fill="#f3f0e8" stroke="none" stroke-width="1"/>
</g>
<circle cx="437.95" cy="263.78" r="0.8" fill="#9c6a3c"/>
<circle cx="461.92" cy="236.30" r="0.6" fill="#9c6a3c"/>
<circle cx="378.54" cy="212.41" r="0.8" fill="#a87646"/>
<circle cx="398.25" cy="253.73" r="0.8" fill="#b08458"/>
<circle cx="395.71" cy="261.92" r="0.6" fill="#b08458"/>
<circle cx="384.58" cy="217.18" r="0.8" fill="#b08458"/>
<circle cx="445.54" cy="252.36" r="0.6" fill="#9c6a3c"/>
<circle cx="366.91" cy="265.36" r="0.8" fill="#9c6a3c"/>
<circle cx="415.22" cy="251.90" r="0.6" fill="#9c6a3c"/>
<circle cx="379.65" cy="210.64" r="0.8" fill="#a87646"/>
<circle cx="359.84" cy="255.30" r="0.6" fill="#a87646"/>
<circle cx="365.39" cy="271.46" r="0.6" fill="#9c6a3c"/>
<circle cx="393.39" cy="218.18" r="0.6" fill="#a87646"/>
<circle cx="395.70" cy="219.69" r="0.8" fill="#9c6a3c"/>
<circle cx="403.02" cy="248.88" r="0.5" fill="#a87646"/>
<circle cx="407.97" cy="207.37" r="0.6" fill="#b08458"/>
<circle cx="460.88" cy="226.67" r="0.5" fill="#b08458"/>
<circle cx="440.05" cy="224.62" r="0.8" fill="#b08458"/>
<circle cx="384.75" cy="226.04" r="0.8" fill="#9c6a3c"/>
<circle cx="362.97" cy="205.08" r="0.6" fill="#b08458"/>
<circle cx="441.75" cy="264.71" r="0.6" fill="#9c6a3c"/>
<circle cx="368.02" cy="217.73" r="0.6" fill="#a87646"/>
<circle cx="388.68" cy="215.63" r="0.6" fill="#9c6a3c"/>
<circle cx="463.68" cy="269.54" r="0.8" fill="#9c6a3c"/>
<circle cx="419.43" cy="231.38" r="0.6" fill="#9c6a3c"/>
<circle cx="412.20" cy="272.21" r="0.6" fill="#9c6a3c"/>
<circle cx="411.97" cy="211.94" r="0.5" fill="#a87646"/>
<circle cx="398.82" cy="266.38" r="0.8" fill="#b08458"/>
<circle cx="407.51" cy="266.70" r="0.5" fill="#b08458"/>
<circle cx="405.83" cy="213.51" r="0.8" fill="#9c6a3c"/>
<circle cx="415.16" cy="257.41" r="0.5" fill="#a87646"/>
<circle cx="410.14" cy="235.31" r="0.8" fill="#a87646"/>
<circle cx="456.78" cy="231.58" r="0.6" fill="#b08458"/>
<circle cx="369.16" cy="196.79" r="0.5" fill="#b08458"/>
<circle cx="363.14" cy="259.47" r="0.6" fill="#9c6a3c"/>
<circle cx="429.65" cy="257.17" r="0.5" fill="#b08458"/>
<circle cx="387.88" cy="267.12" r="0.6" fill="#9c6a3c"/>
<circle cx="439.53" cy="267.55" r="0.5" fill="#9c6a3c"/>
<circle cx="435.95" cy="251.07" r="0.8" fill="#b08458"/>
<circle cx="374.82" cy="232.26" r="0.6" fill="#b08458"/>
<circle cx="392.57" cy="258.67" r="0.6" fill="#9c6a3c"/>
<circle cx="393.67" cy="266.88" r="0.6" fill="#a87646"/>
<circle cx="409.78" cy="265.92" r="0.6" fill="#a87646"/>
<circle cx="390.47" cy="211.41" r="0.6" fill="#9c6a3c"/>
<circle cx="429.90" cy="239.91" r="0.6" fill="#a87646"/>
<circle cx="382.41" cy="249.13" r="0.5" fill="#a87646"/>
<circle cx="463.02" cy="229.78" r="0.6" fill="#a87646"/>
<circle cx="391.99" cy="265.08" r="0.6" fill="#a87646"/>
<circle cx="421.87" cy="236.08" r="0.8" fill="#a87646"/>
<circle cx="364.62" cy="205.95" r="0.6" fill="#b08458"/>
<circle cx="464.02" cy="267.59" r="0.6" fill="#a87646"/>
<circle cx="397.96" cy="268.60" r="0.8" fill="#b08458"/>
<circle cx="420.58" cy="226.01" r="0.6" fill="#b08458"/>
<circle cx="410.74" cy="262.56" r="0.6" fill="#a87646"/>
<circle cx="360.81" cy="205.91" r="0.8" fill="#a87646"/>
<circle cx="358.61" cy="211.41" r="0.5" fill="#b08458"/>
<circle cx="394.25" cy="218.85" r="0.8" fill="#9c6a3c"/>
<circle cx="429.82" cy="271.75" r="0.6" fill="#b08458"/>
<circle cx="452.71" cy="263.75" r="0.6" fill="#a87646"/>
<circle cx="418.15" cy="259.27" r="0.8" fill="#b08458"/>
<circle cx="438.77" cy="267.19" r="0.5" fill="#a87646"/>
<circle cx="385.11" cy="228.93" r="0.6" fill="#9c6a3c"/>
<circle cx="393.67" cy="261.68" r="0.5" fill="#a87646"/>
<circle cx="428.77" cy="244.37" r="0.8" fill="#b08458"/>
<circle cx="432.87" cy="271.07" r="0.6" fill="#a87646"/>
<circle cx="434.13" cy="266.21" r="0.6" fill="#b08458"/>
<circle cx="425.09" cy="252.93" r="0.6" fill="#b08458"/>
<circle cx="403.54" cy="252.03" r="0.5" fill="#9c6a3c"/>
<circle cx="409.48" cy="207.56" r="0.6" fill="#a87646"/>
<circle cx="403.86" cy="204.23" r="0.8" fill="#a87646"/>
<circle cx="404.16" cy="258.12" r="0.8" fill="#9c6a3c"/>
<circle cx="464.94" cy="264.23" r="0.5" fill="#a87646"/>
<circle cx="380.80" cy="228.16" r="0.8" fill="#9c6a3c"/>
<circle cx="415.73" cy="233.48" r="0.5" fill="#9c6a3c"/>
<circle cx="440.32" cy="253.63" r="0.8" fill="#b08458"/>
<circle cx="410.69" cy="206.04" r="0.5" fill="#9c6a3c"/>
<circle cx="430.14" cy="241.94" r="0.8" fill="#a87646"/>
<circle cx="450.46" cy="226.70" r="0.5" fill="#a87646"/>
<circle cx="411.47" cy="222.02" r="0.5" fill="#b08458"/>
<circle cx="388.91" cy="257.13" r="0.8" fill="#b08458"/>
<circle cx="426.23" cy="268.19" r="0.6" fill="#b08458"/>
<circle cx="423.26" cy="200.78" r="0.5" fill="#9c6a3c"/>
<circle cx="440.21" cy="273.19" r="0.5" fill="#b08458"/>
<circle cx="435.06" cy="247.90" r="0.5" fill="#a87646"/>
<circle cx="374.97" cy="220.18" r="0.5" fill="#9c6a3c"/>
<circle cx="457.14" cy="266.75" r="0.6" fill="#a87646"/>
<circle cx="408.85" cy="269.31" r="0.8" fill="#b08458"/>
<circle cx="364.43" cy="227.17" r="0.6" fill="#9c6a3c"/>
<circle cx="411.17" cy="261.05" r="0.5" fill="#a87646"/>
<circle cx="378.03" cy="255.54" r="0.5" fill="#9c6a3c"/>
<circle cx="402.78" cy="259.75" r="0.5" fill="#a87646"/>
<circle cx="366.90" cy="205.14" r="0.8" fill="#a87646"/>
<circle cx="388.02" cy="272.80" r="0.5" fill="#b08458"/>
<circle cx="424.67" cy="260.65" r="0.8" fill="#a87646"/>
<circle cx="462.47" cy="266.81" r="0.8" fill="#b08458"/>
<circle cx="359.29" cy="263.39" r="0.6" fill="#9c6a3c"/>
<circle cx="423.49" cy="225.47" r="0.5" fill="#b08458"/>
<circle cx="388.70" cy="226.39" r="0.8" fill="#b08458"/>
<circle cx="407.28" cy="235.50" r="0.5" fill="#a87646"/>
<circle cx="364.86" cy="241.95" r="0.8" fill="#9c6a3c"/>
<circle cx="383.66" cy="224.92" r="0.5" fill="#a87646"/>
<circle cx="464.53" cy="255.61" r="0.5" fill="#a87646"/>
<circle cx="359.54" cy="267.92" r="0.6" fill="#b08458"/>
<circle cx="366.88" cy="255.51" r="0.5" fill="#9c6a3c"/>
<circle cx="413.04" cy="230.70" r="0.8" fill="#9c6a3c"/>
</g>
<g clip-path="url(#clip2)">
<rect x="467.10" y="194.30" width="108.30" height="80.00" fill="#b47c47" stroke="none" stroke-width="1" filter="url(#texHigh)"/>
<g filter="url(#blur07)" opacity="0.6">
<path d="M467.1 213.7 Q467.1 213.7 472.0 212.0 Q476.9 210.4 481.9 208.8 Q486.8 207.1 491.7 205.5 Q496.6 203.8 503.2 202.2 L509.7 200.6" fill="none" stroke="#a8c4dd" stroke-width="2.5" stroke-linecap="round"/>
<path d="M486.8 207.1 Q486.8 207.1 490.1 212.0 Q493.3 217.0 495.8 221.9 Q498.2 226.8 499.1 231.7 Q499.9 236.6 497.4 239.9 Q495.0 243.2 492.5 246.5 L490.1 249.7" fill="none" stroke="#a8c4dd" stroke-width="2.0" stroke-linecap="round"/>
<path d="M499.9 236.6 Q499.9 236.6 504.8 237.4 Q509.7 238.3 515.5 237.4 Q521.2 236.6 526.9 235.8 L532.7 235.0" fill="none" stroke="#a8c4dd" stroke-width="1.75" stroke-linecap="round"/>
<path d="M467.1 264.5 Q467.1 264.5 470.4 262.0 Q473.7 259.6 476.9 262.9 L480.2 266.1" fill="none" stroke="#a8c4dd" stroke-width="2.0" stroke-linecap="round"/>
<path d="M536.0 197.3 Q536.0 197.3 534.3 202.2 Q532.7 207.1 531.0 212.0 L529.4 217.0" fill="none" stroke="#a8c4dd" stroke-width="1.5" stroke-linecap="round"/>
<path d="M558.9 210.4 Q558.9 210.4 563.8 212.0 Q568.7 213.7 572.9 212.9 L577.1 212.0" fill="none" stroke="#a8c4dd" stroke-width="1.5" stroke-linecap="round"/>
<path d="M532.7 243.2 Q532.7 243.2 536.8 244.8 Q540.9 246.5 545.0 248.1 L549.1 249.7" fill="none" stroke="#a8c4dd" stroke-width="1.25" stroke-linecap="round"/>
<path d="M476.9 226.8 Q476.9 226.8 480.2 229.2 Q483.5 231.7 486.8 233.3 L490.1 235.0" fill="none" stroke="#a8c4dd" stroke-width="1.25" stroke-linecap="round"/>
</g>
<ellipse cx="478.6" cy="251.4" rx="3.6" ry="1.6" fill="#f5f2ea" filter="url(#blur04)"/>
<ellipse cx="521.2" cy="262.9" rx="2.5" ry="3.6" fill="#f5f2ea" filter="url(#blur04)"/>
<ellipse cx="572.0" cy="231.7" rx="2.0" ry="1.6" fill="#f5f2ea" filter="url(#blur04)"/>
<ellipse cx="540.9" cy="241.5" rx="1.6" ry="1.3" fill="#f5f2ea" filter="url(#blur04)"/>
<ellipse cx="562.2" cy="259.6" rx="1.6" ry="1.3" fill="#f5f2ea" filter="url(#blur04)"/>
<ellipse cx="485.1" cy="272.7" rx="1.3" ry="1.3" fill="#f5f2ea" filter="url(#blur04)"/>
</g>
<g clip-path="url(#clip3)">
<rect x="577.30" y="194.30" width="106.50" height="80.00" fill="#b87d43" stroke="none" stroke-width="1" filter="url(#texCRPC)"/>
<g filter="url(#blur2)" opacity="0.7">
<ellipse cx="592.1" cy="200.6" rx="6.6" ry="2.3" fill="#b9d0e5"/>
<ellipse cx="623.2" cy="205.5" rx="6.9" ry="3.6" fill="#b9d0e5"/>
<ellipse cx="651.1" cy="202.2" rx="7.4" ry="2.6" fill="#b9d0e5"/>
<ellipse cx="642.9" cy="226.8" rx="9.0" ry="11.5" fill="#b9d0e5"/>
<ellipse cx="641.2" cy="243.2" rx="6.6" ry="6.6" fill="#b9d0e5"/>
<ellipse cx="606.8" cy="230.1" rx="18.0" ry="4.9" fill="#b9d0e5"/>
<ellipse cx="600.3" cy="249.7" rx="9.0" ry="5.7" fill="#b9d0e5"/>
<ellipse cx="674.0" cy="261.2" rx="7.4" ry="8.2" fill="#b9d0e5"/>
<ellipse cx="670.7" cy="236.6" rx="4.9" ry="3.6" fill="#b9d0e5"/>
<ellipse cx="623.2" cy="262.9" rx="6.6" ry="3.0" fill="#b9d0e5"/>
<ellipse cx="583.9" cy="264.5" rx="4.9" ry="4.9" fill="#b9d0e5"/>
<ellipse cx="682.2" cy="210.4" rx="4.1" ry="4.9" fill="#b9d0e5"/>
</g>
</g>
<rect x="248.90" y="194.30" width="107.70" height="80.00" fill="none" stroke="#222" stroke-width="1.0"/>
<rect x="358.30" y="194.30" width="107.40" height="80.00" fill="none" stroke="#222" stroke-width="1.0"/>
<rect x="467.10" y="194.30" width="108.30" height="80.00" fill="none" stroke="#222" stroke-width="1.0"/>
<rect x="577.30" y="194.30" width="106.50" height="80.00" fill="none" stroke="#222" stroke-width="1.0"/>
<text x="252.20" y="264.50" font-size="7.6" font-weight="bold" text-anchor="start" fill="#000">50 µm</text>
<line x1="257.50" y1="270.30" x2="265.50" y2="270.30" stroke="#000" stroke-width="1.4"/>
<path d="M199.9 388.0 Q200.8 384.3 206 384.0 L217 384.0 Q221.8 384.3 222.4 386.0" fill="none" stroke="#111" stroke-width="1.3" filter="url(#bb05)"/>
<circle cx="177.50" cy="385.50" r="0.5" fill="#888"/>
<circle cx="194.60" cy="386.00" r="0.5" fill="#999"/>
<circle cx="216.80" cy="390.20" r="0.5" fill="#999"/>
<rect x="175.30" y="405.50" width="21.00" height="15.50" fill="#333" stroke="none" stroke-width="1" rx="3" filter="url(#bb12)" opacity="1.0"/>
<rect x="175.80" y="405.50" width="20.00" height="9.00" fill="#000" stroke="none" stroke-width="1" rx="2" filter="url(#bb08)" opacity="1.0"/>
<path d="M175.8 413.0 Q185.8 416.0 195.8 413.0 L195.8 417.8 Q185.8 420.0 175.8 417.8 Z" fill="#111" stroke="none" stroke-width="1" filter="url(#bb12)" opacity="1.0"/>
<rect x="198.80" y="406.50" width="21.80" height="13.50" fill="#777" stroke="none" stroke-width="1" rx="3" filter="url(#bb12)" opacity="1.0"/>
<rect x="199.00" y="406.30" width="21.40" height="6.70" fill="#050505" stroke="none" stroke-width="1" rx="2" filter="url(#bb08)" opacity="1.0"/>
<path d="M176.6 437.9 Q186.3 438.9 196.1 437.9 L196.1 440.1 Q186.3 440.9 176.6 440.1 Z" fill="#111" stroke="none" stroke-width="1" filter="url(#bb05)" opacity="1.0"/>
<path d="M200.5 437.8 Q210.9 438.8 221.4 437.8 L221.4 440.1 Q210.9 440.8 200.5 440.1 Z" fill="#111" stroke="none" stroke-width="1" filter="url(#bb05)" opacity="1.0"/>
<circle cx="203.50" cy="429.50" r="0.5" fill="#777"/>
<circle cx="180.00" cy="430.80" r="0.5" fill="#888"/>
<path d="M175.5 462.7 Q186.1 464.3 196.6 462.7 L196.6 467.7 Q186.1 468.9 175.5 467.7 Z" fill="#000" stroke="none" stroke-width="1" filter="url(#bb05)" opacity="1.0"/>
<path d="M199.9 462.7 Q210.4 464.3 220.9 462.7 L220.9 467.7 Q210.4 468.9 199.9 467.7 Z" fill="#000" stroke="none" stroke-width="1" filter="url(#bb05)" opacity="1.0"/>
<rect x="553.00" y="338.90" width="18.50" height="22.70" fill="#dcdcdc" stroke="none" stroke-width="1" filter="url(#bb08)" opacity="0.6"/>
<rect x="575.20" y="338.90" width="16.80" height="22.70" fill="#dcdcdc" stroke="none" stroke-width="1" filter="url(#bb08)" opacity="0.6"/>
<rect x="594.80" y="338.90" width="16.70" height="22.70" fill="#dcdcdc" stroke="none" stroke-width="1" filter="url(#bb08)" opacity="0.6"/>
<rect x="614.50" y="338.90" width="17.50" height="22.70" fill="#dcdcdc" stroke="none" stroke-width="1" filter="url(#bb08)" opacity="0.6"/>
<rect x="553.00" y="379.00" width="18.50" height="22.30" fill="#dcdcdc" stroke="none" stroke-width="1" filter="url(#bb08)" opacity="0.6"/>
<rect x="575.20" y="379.00" width="16.80" height="22.30" fill="#dcdcdc" stroke="none" stroke-width="1" filter="url(#bb08)" opacity="0.6"/>
<rect x="594.80" y="379.00" width="16.70" height="22.30" fill="#dcdcdc" stroke="none" stroke-width="1" filter="url(#bb08)" opacity="0.6"/>
<rect x="614.50" y="379.00" width="17.50" height="22.30" fill="#dcdcdc" stroke="none" stroke-width="1" filter="url(#bb08)" opacity="0.6"/>
<rect x="553.00" y="415.30" width="18.50" height="22.60" fill="#dcdcdc" stroke="none" stroke-width="1" filter="url(#bb08)" opacity="0.6"/>
<rect x="575.20" y="415.30" width="16.80" height="22.60" fill="#dcdcdc" stroke="none" stroke-width="1" filter="url(#bb08)" opacity="0.6"/>
<rect x="594.80" y="415.30" width="16.70" height="22.60" fill="#dcdcdc" stroke="none" stroke-width="1" filter="url(#bb08)" opacity="0.6"/>
<rect x="614.50" y="415.30" width="17.50" height="22.60" fill="#dcdcdc" stroke="none" stroke-width="1" filter="url(#bb08)" opacity="0.6"/>
<rect x="553.00" y="442.80" width="18.50" height="21.70" fill="#dcdcdc" stroke="none" stroke-width="1" filter="url(#bb08)" opacity="0.6"/>
<rect x="575.20" y="442.80" width="16.80" height="21.70" fill="#dcdcdc" stroke="none" stroke-width="1" filter="url(#bb08)" opacity="0.6"/>
<rect x="594.80" y="442.80" width="16.70" height="21.70" fill="#dcdcdc" stroke="none" stroke-width="1" filter="url(#bb08)" opacity="0.6"/>
<rect x="614.50" y="442.80" width="17.50" height="21.70" fill="#dcdcdc" stroke="none" stroke-width="1" filter="url(#bb08)" opacity="0.6"/>
<path d="M553.1 347.0 Q562.2 348.4 571.3 347.0 L571.3 351.9 Q562.2 353.0 553.1 351.9 Z" fill="#000" stroke="none" stroke-width="1" filter="url(#bb08)" opacity="1.0"/>
<rect x="553.50" y="351.50" width="17.50" height="6.00" fill="#999" stroke="none" stroke-width="1" rx="2.5" filter="url(#bb12)" opacity="0.6"/>
<path d="M575.6 349.0 Q583.5 350.4 591.5 349.0 L591.5 353.3 Q583.5 354.4 575.6 353.3 Z" fill="#050505" stroke="none" stroke-width="1" filter="url(#bb08)" opacity="1.0"/>
<rect x="575.80" y="353.00" width="15.50" height="5.00" fill="#aaa" stroke="none" stroke-width="1" rx="2.5" filter="url(#bb12)" opacity="0.5"/>
<path d="M595.0 349.4 Q603.2 350.4 611.4 349.4 L611.4 354.6 Q603.2 355.4 595.0 354.6 Z" fill="#a8a8a8" stroke="none" stroke-width="1" filter="url(#bb12)" opacity="1.0"/>
<path d="M615.7 349.6 Q623.9 350.6 632.0 349.6 L632.0 354.9 Q623.9 355.6 615.7 354.9 Z" fill="#bebebe" stroke="none" stroke-width="1" filter="url(#bb12)" opacity="1.0"/>
<circle cx="598.70" cy="342.00" r="0.6" fill="#555"/>
<circle cx="590.50" cy="351.20" r="0.4" fill="#555"/>
<path d="M555.2 387.2 Q562.7 387.8 570.2 387.2 L570.2 390.4 Q562.7 390.8 555.2 390.4 Z" fill="#c8c8c8" stroke="none" stroke-width="1" filter="url(#bb12)" opacity="1.0"/>
<path d="M573.7 387.0 Q581.9 389.0 590.1 387.0 L590.1 391.7 Q581.9 393.2 573.7 391.7 Z" fill="#000" stroke="none" stroke-width="1" filter="url(#bb08)" opacity="1.0"/>
<path d="M593.6 387.8 Q601.8 389.8 610.0 387.8 L610.0 393.5 Q601.8 395.0 593.6 393.5 Z" fill="#000" stroke="none" stroke-width="1" filter="url(#bb08)" opacity="1.0"/>
<path d="M614.3 387.7 Q622.8 389.7 631.3 387.7 L631.3 394.8 Q622.8 396.3 614.3 394.8 Z" fill="#000" stroke="none" stroke-width="1" filter="url(#bb08)" opacity="1.0"/>
<rect x="556.50" y="416.50" width="16.10" height="6.50" fill="#888" stroke="none" stroke-width="1" rx="2.5" filter="url(#bb12)" opacity="0.7"/>
<rect x="575.00" y="414.80" width="16.80" height="5.20" fill="#777" stroke="none" stroke-width="1" rx="2.5" filter="url(#bb12)" opacity="0.7"/>
<rect x="595.00" y="418.50" width="16.00" height="6.00" fill="#999" stroke="none" stroke-width="1" rx="2.5" filter="url(#bb12)" opacity="0.6"/>
<rect x="614.80" y="418.00" width="16.80" height="6.00" fill="#999" stroke="none" stroke-width="1" rx="2.5" filter="url(#bb12)" opacity="0.6"/>
<rect x="556.30" y="420.50" width="16.50" height="14.70" fill="#000" stroke="none" stroke-width="1" rx="2.5" filter="url(#bb08)" opacity="1.0"/>
<path d="M558.5 434.8 Q564.5 430.5 570.5 434.8 Z" fill="#d0d0d0" stroke="none" stroke-width="1" filter="url(#bb08)"/>
<rect x="574.80" y="417.20" width="17.20" height="20.80" fill="#000" stroke="none" stroke-width="1" rx="2.5" filter="url(#bb08)" opacity="1.0"/>
<rect x="594.70" y="423.00" width="16.50" height="13.20" fill="#000" stroke="none" stroke-width="1" rx="2.5" filter="url(#bb08)" opacity="1.0"/>
<rect x="614.60" y="422.50" width="17.20" height="13.40" fill="#050505" stroke="none" stroke-width="1" rx="2.5" filter="url(#bb08)" opacity="1.0"/>
<path d="M617.0 427.4 Q623.2 427.4 629.5 427.4 L629.5 429.0 Q623.2 429.0 617.0 429.0 Z" fill="#666" stroke="none" stroke-width="1" filter="url(#bb08)" opacity="1.0"/>
<path d="M554.2 453.3 Q562.5 454.9 570.7 453.3 L570.7 457.7 Q562.5 458.9 554.2 457.7 Z" fill="#000" stroke="none" stroke-width="1" filter="url(#bb05)" opacity="1.0"/>
<path d="M574.1 453.3 Q582.4 454.9 590.6 453.3 L590.6 457.7 Q582.4 458.9 574.1 457.7 Z" fill="#000" stroke="none" stroke-width="1" filter="url(#bb05)" opacity="1.0"/>
<path d="M594.0 453.3 Q602.2 454.9 610.5 453.3 L610.5 457.7 Q602.2 458.9 594.0 457.7 Z" fill="#000" stroke="none" stroke-width="1" filter="url(#bb05)" opacity="1.0"/>
<path d="M614.2 453.3 Q622.3 454.9 630.4 453.3 L630.4 457.7 Q622.3 458.9 614.2 457.7 Z" fill="#000" stroke="none" stroke-width="1" filter="url(#bb05)" opacity="1.0"/>
</svg>
</body></html>
